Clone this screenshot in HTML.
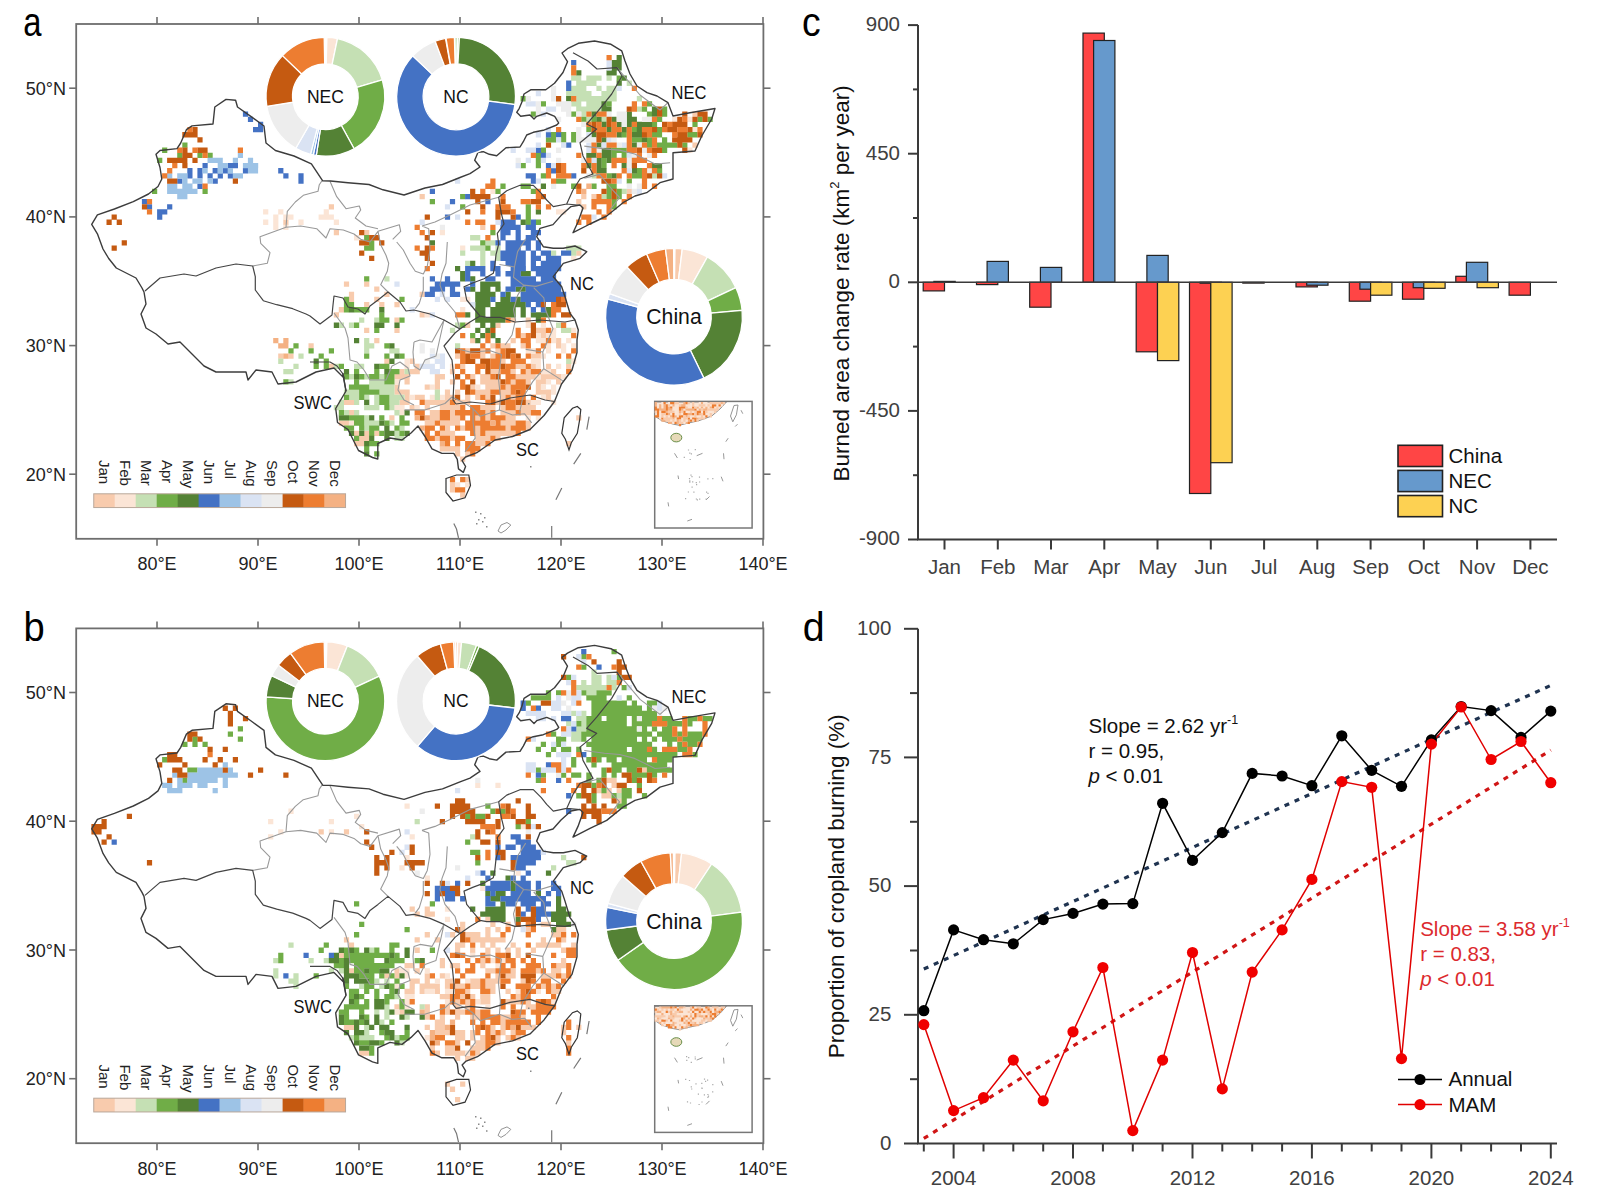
<!DOCTYPE html>
<html><head><meta charset="utf-8"><style>
html,body{margin:0;padding:0;background:#fff;width:1600px;height:1200px;overflow:hidden}
svg{display:block;font-family:"Liberation Sans",sans-serif}
</style></head><body>
<svg width="1600" height="1200" viewBox="0 0 1600 1200">
<rect width="1600" height="1200" fill="#fff"/>
<path fill="#F8CBAD" d="M692.4 111.5h5.2v5.3h-5.2zM692.4 142.4h5.2v5.3h-5.2zM626.7 188.7h5.2v5.3h-5.2zM419.6 193.9h5.2v5.3h-5.2zM581.2 193.9h5.2v5.3h-5.2zM591.4 193.9h5.2v5.3h-5.2zM576.2 199h5.2v5.3h-5.2zM328.8 204.2h5.2v5.3h-5.2zM581.2 204.2h5.2v5.3h-5.2zM283.3 219.6h5.2v5.3h-5.2zM480.2 224.8h5.2v5.3h-5.2zM333.8 229.9h5.2v5.3h-5.2zM364.1 229.9h5.2v5.3h-5.2zM576.2 250.5h5.2v5.3h-5.2zM343.9 281.4h5.2v5.3h-5.2zM364.1 281.4h5.2v5.3h-5.2zM374.2 286.5h5.2v5.3h-5.2zM348.9 291.7h5.2v5.3h-5.2zM384.3 291.7h5.2v5.3h-5.2zM419.6 291.7h5.2v5.3h-5.2zM348.9 296.8h5.2v5.3h-5.2zM374.2 296.8h5.2v5.3h-5.2zM364.1 302h5.2v5.3h-5.2zM379.2 302h5.2v5.3h-5.2zM394.4 302h5.2v5.3h-5.2zM338.8 307.1h5.2v5.3h-5.2zM333.8 312.3h5.2v5.3h-5.2zM419.6 312.3h5.2v5.3h-5.2zM394.4 317.4h5.2v5.3h-5.2zM510.6 317.4h5.2v5.3h-5.2zM525.7 317.4h5.2v5.3h-5.2zM465.1 322.6h5.2v5.3h-5.2zM495.4 322.6h5.2v5.3h-5.2zM364.1 327.7h5.2v5.3h-5.2zM394.4 327.7h5.2v5.3h-5.2zM535.8 327.7h10.2v5.3h-10.2zM520.6 332.9h5.2v5.3h-5.2zM540.8 332.9h5.2v5.3h-5.2zM374.2 338h5.2v5.3h-5.2zM470.1 338h5.2v5.3h-5.2zM510.6 338h5.2v5.3h-5.2zM556 338h5.2v5.3h-5.2zM308.5 343.2h5.2v5.3h-5.2zM490.3 343.2h5.2v5.3h-5.2zM500.4 343.2h10.2v5.3h-10.2zM520.6 343.2h5.2v5.3h-5.2zM556 343.2h5.2v5.3h-5.2zM465.1 348.3h5.2v5.3h-5.2zM480.2 348.3h5.2v5.3h-5.2zM495.4 348.3h5.2v5.3h-5.2zM278.2 353.5h5.2v5.3h-5.2zM288.4 353.5h5.2v5.3h-5.2zM455 353.5h5.2v5.3h-5.2zM480.2 353.5h5.2v5.3h-5.2zM490.3 353.5h5.2v5.3h-5.2zM530.8 353.5h10.2v5.3h-10.2zM384.3 358.6h5.2v5.3h-5.2zM409.6 358.6h5.2v5.3h-5.2zM500.4 358.6h5.2v5.3h-5.2zM328.8 363.8h5.2v5.3h-5.2zM414.6 363.8h5.2v5.3h-5.2zM460.1 363.8h5.2v5.3h-5.2zM515.6 363.8h10.2v5.3h-10.2zM530.8 363.8h5.2v5.3h-5.2zM545.9 363.8h5.2v5.3h-5.2zM566.1 363.8h5.2v5.3h-5.2zM399.4 368.9h5.2v5.3h-5.2zM409.6 368.9h10.2v5.3h-10.2zM449.9 368.9h5.2v5.3h-5.2zM490.3 368.9h10.2v5.3h-10.2zM510.6 368.9h5.2v5.3h-5.2zM525.7 368.9h5.2v5.3h-5.2zM551 368.9h5.2v5.3h-5.2zM394.4 374.1h15.3v5.3h-15.3zM434.8 374.1h10.2v5.3h-10.2zM470.1 374.1h5.2v5.3h-5.2zM480.2 374.1h10.2v5.3h-10.2zM515.6 374.1h20.3v5.3h-20.3zM540.8 374.1h20.3v5.3h-20.3zM404.5 379.2h5.2v5.3h-5.2zM434.8 379.2h5.2v5.3h-5.2zM449.9 379.2h5.2v5.3h-5.2zM480.2 379.2h20.3v5.3h-20.3zM510.6 379.2h5.2v5.3h-5.2zM525.7 379.2h5.2v5.3h-5.2zM535.8 379.2h10.2v5.3h-10.2zM556 379.2h5.2v5.3h-5.2zM394.4 384.4h5.2v5.3h-5.2zM424.7 384.4h5.2v5.3h-5.2zM434.8 384.4h5.2v5.3h-5.2zM470.1 384.4h5.2v5.3h-5.2zM485.3 384.4h15.3v5.3h-15.3zM505.5 384.4h5.2v5.3h-5.2zM535.8 384.4h5.2v5.3h-5.2zM394.4 389.5h15.3v5.3h-15.3zM444.9 389.5h5.2v5.3h-5.2zM455 389.5h5.2v5.3h-5.2zM475.2 389.5h15.3v5.3h-15.3zM500.4 389.5h10.2v5.3h-10.2zM535.8 389.5h15.3v5.3h-15.3zM404.5 394.7h5.2v5.3h-5.2zM414.6 394.7h10.2v5.3h-10.2zM444.9 394.7h10.2v5.3h-10.2zM465.1 394.7h5.2v5.3h-5.2zM475.2 394.7h5.2v5.3h-5.2zM485.3 394.7h5.2v5.3h-5.2zM500.4 394.7h5.2v5.3h-5.2zM510.6 394.7h5.2v5.3h-5.2zM545.9 394.7h5.2v5.3h-5.2zM343.9 399.8h10.2v5.3h-10.2zM399.4 399.8h10.2v5.3h-10.2zM424.7 399.8h25.4v5.3h-25.4zM455 399.8h15.3v5.3h-15.3zM495.4 399.8h5.2v5.3h-5.2zM525.7 399.8h5.2v5.3h-5.2zM409.6 405h5.2v5.3h-5.2zM424.7 405h5.2v5.3h-5.2zM439.8 405h20.3v5.3h-20.3zM480.2 405h15.3v5.3h-15.3zM500.4 405h5.2v5.3h-5.2zM515.6 405h20.3v5.3h-20.3zM348.9 410.1h5.2v5.3h-5.2zM429.8 410.1h10.2v5.3h-10.2zM449.9 410.1h5.2v5.3h-5.2zM485.3 410.1h5.2v5.3h-5.2zM500.4 410.1h15.3v5.3h-15.3zM520.6 410.1h10.2v5.3h-10.2zM389.3 415.2h5.2v5.3h-5.2zM429.8 415.2h10.2v5.3h-10.2zM449.9 415.2h10.2v5.3h-10.2zM475.2 415.2h5.2v5.3h-5.2zM485.3 415.2h5.2v5.3h-5.2zM505.5 415.2h10.2v5.3h-10.2zM576.2 415.2h5.2v5.3h-5.2zM338.8 420.4h10.2v5.3h-10.2zM424.7 420.4h10.2v5.3h-10.2zM439.8 420.4h20.3v5.3h-20.3zM500.4 420.4h15.3v5.3h-15.3zM525.7 420.4h5.2v5.3h-5.2zM444.9 425.5h5.2v5.3h-5.2zM460.1 425.5h5.2v5.3h-5.2zM475.2 425.5h5.2v5.3h-5.2zM505.5 425.5h5.2v5.3h-5.2zM525.7 425.5h5.2v5.3h-5.2zM354 430.7h5.2v5.3h-5.2zM364.1 430.7h5.2v5.3h-5.2zM374.2 430.7h5.2v5.3h-5.2zM439.8 430.7h15.3v5.3h-15.3zM475.2 430.7h5.2v5.3h-5.2zM485.3 430.7h30.4v5.3h-30.4zM359.1 435.8h10.2v5.3h-10.2zM434.8 435.8h5.2v5.3h-5.2zM449.9 435.8h5.2v5.3h-5.2zM475.2 435.8h15.3v5.3h-15.3zM495.4 435.8h5.2v5.3h-5.2zM354 441h10.2v5.3h-10.2zM475.2 441h10.2v5.3h-10.2zM566.1 441h5.2v5.3h-5.2zM439.8 446.1h20.3v5.3h-20.3zM455 451.3h5.2v5.3h-5.2zM465.1 451.3h5.2v5.3h-5.2zM460.1 456.4h5.2v5.3h-5.2zM465.1 477h5.2v5.3h-5.2zM449.9 482.2h5.2v5.3h-5.2zM449.9 487.3h5.2v5.3h-5.2zM460.1 492.5h5.2v5.3h-5.2z"/>
<path fill="#FBE5D6" d="M672.1 116.7h5.2v5.3h-5.2zM687.3 116.7h5.2v5.3h-5.2zM692.4 127h5.2v5.3h-5.2zM687.3 147.6h5.2v5.3h-5.2zM490.3 188.7h5.2v5.3h-5.2zM263.1 209.3h5.2v5.3h-5.2zM278.2 209.3h5.2v5.3h-5.2zM323.7 209.3h5.2v5.3h-5.2zM556 209.3h10.2v5.3h-10.2zM273.2 214.5h5.2v5.3h-5.2zM283.3 214.5h10.2v5.3h-10.2zM318.6 214.5h15.3v5.3h-15.3zM263.1 219.6h5.2v5.3h-5.2zM273.2 219.6h5.2v5.3h-5.2zM298.4 219.6h5.2v5.3h-5.2zM333.8 219.6h5.2v5.3h-5.2zM273.2 224.8h5.2v5.3h-5.2zM283.3 224.8h5.2v5.3h-5.2zM439.8 229.9h5.2v5.3h-5.2zM354 235.1h5.2v5.3h-5.2zM460.1 245.4h5.2v5.3h-5.2zM571.1 255.7h5.2v5.3h-5.2zM460.1 296.8h10.2v5.3h-10.2zM460.1 307.1h5.2v5.3h-5.2zM424.7 312.3h5.2v5.3h-5.2zM525.7 322.6h5.2v5.3h-5.2zM540.8 322.6h5.2v5.3h-5.2zM551 327.7h5.2v5.3h-5.2zM571.1 327.7h5.2v5.3h-5.2zM535.8 332.9h5.2v5.3h-5.2zM545.9 332.9h10.2v5.3h-10.2zM535.8 338h10.2v5.3h-10.2zM551 338h5.2v5.3h-5.2zM566.1 338h5.2v5.3h-5.2zM545.9 343.2h5.2v5.3h-5.2zM561 343.2h5.2v5.3h-5.2zM571.1 343.2h5.2v5.3h-5.2zM525.7 348.3h10.2v5.3h-10.2zM545.9 348.3h5.2v5.3h-5.2zM561 348.3h5.2v5.3h-5.2zM540.8 353.5h5.2v5.3h-5.2zM404.5 358.6h5.2v5.3h-5.2zM530.8 358.6h10.2v5.3h-10.2zM571.1 358.6h5.2v5.3h-5.2zM404.5 363.8h5.2v5.3h-5.2zM449.9 363.8h5.2v5.3h-5.2zM535.8 363.8h5.2v5.3h-5.2zM556 363.8h5.2v5.3h-5.2zM540.8 368.9h10.2v5.3h-10.2zM535.8 374.1h5.2v5.3h-5.2zM561 374.1h5.2v5.3h-5.2zM394.4 379.2h5.2v5.3h-5.2zM545.9 379.2h5.2v5.3h-5.2zM429.8 384.4h5.2v5.3h-5.2zM475.2 384.4h5.2v5.3h-5.2zM540.8 384.4h5.2v5.3h-5.2zM551 384.4h5.2v5.3h-5.2zM551 389.5h5.2v5.3h-5.2zM409.6 394.7h5.2v5.3h-5.2zM429.8 394.7h5.2v5.3h-5.2zM439.8 394.7h5.2v5.3h-5.2zM540.8 394.7h5.2v5.3h-5.2zM530.8 399.8h10.2v5.3h-10.2zM551 399.8h5.2v5.3h-5.2zM394.4 405h10.2v5.3h-10.2zM414.6 405h5.2v5.3h-5.2zM399.4 410.1h5.2v5.3h-5.2zM525.7 415.2h5.2v5.3h-5.2zM535.8 415.2h5.2v5.3h-5.2zM348.9 420.4h5.2v5.3h-5.2zM455 482.2h5.2v5.3h-5.2zM465.1 482.2h5.2v5.3h-5.2z"/>
<path fill="#C5E0B4" d="M571.1 75.5h10.2v5.3h-10.2zM586.3 75.5h15.3v5.3h-15.3zM606.5 75.5h5.2v5.3h-5.2zM576.2 80.6h20.3v5.3h-20.3zM626.7 80.6h5.2v5.3h-5.2zM571.1 85.8h15.3v5.3h-15.3zM596.4 85.8h5.2v5.3h-5.2zM606.5 85.8h10.2v5.3h-10.2zM566.1 90.9h25.4v5.3h-25.4zM601.4 90.9h15.3v5.3h-15.3zM576.2 96.1h40.5v5.3h-40.5zM636.8 96.1h5.2v5.3h-5.2zM571.1 101.2h10.2v5.3h-10.2zM586.3 101.2h15.3v5.3h-15.3zM576.2 106.4h25.4v5.3h-25.4zM636.8 106.4h5.2v5.3h-5.2zM581.2 111.5h5.2v5.3h-5.2zM586.3 116.7h5.2v5.3h-5.2zM601.4 116.7h5.2v5.3h-5.2zM591.4 173.3h5.2v5.3h-5.2zM651.9 173.3h5.2v5.3h-5.2zM621.6 188.7h5.2v5.3h-5.2zM601.4 193.9h5.2v5.3h-5.2zM470.1 235.1h10.2v5.3h-10.2zM485.3 240.2h10.2v5.3h-10.2zM470.1 245.4h15.3v5.3h-15.3zM495.4 245.4h5.2v5.3h-5.2zM566.1 245.4h15.3v5.3h-15.3zM460.1 250.5h5.2v5.3h-5.2zM480.2 250.5h5.2v5.3h-5.2zM490.3 250.5h10.2v5.3h-10.2zM551 250.5h5.2v5.3h-5.2zM571.1 250.5h5.2v5.3h-5.2zM480.2 255.7h5.2v5.3h-5.2zM495.4 255.7h5.2v5.3h-5.2zM465.1 260.8h5.2v5.3h-5.2zM480.2 260.8h5.2v5.3h-5.2zM384.3 276.3h5.2v5.3h-5.2zM359.1 317.4h5.2v5.3h-5.2zM374.2 317.4h5.2v5.3h-5.2zM338.8 322.6h5.2v5.3h-5.2zM348.9 322.6h5.2v5.3h-5.2zM455 322.6h5.2v5.3h-5.2zM556 322.6h5.2v5.3h-5.2zM449.9 327.7h5.2v5.3h-5.2zM561 327.7h10.2v5.3h-10.2zM364.1 338h5.2v5.3h-5.2zM364.1 343.2h10.2v5.3h-10.2zM455 343.2h5.2v5.3h-5.2zM364.1 348.3h5.2v5.3h-5.2zM389.3 348.3h10.2v5.3h-10.2zM298.4 353.5h5.2v5.3h-5.2zM278.2 358.6h5.2v5.3h-5.2zM566.1 358.6h5.2v5.3h-5.2zM293.4 363.8h5.2v5.3h-5.2zM333.8 363.8h5.2v5.3h-5.2zM354 363.8h10.2v5.3h-10.2zM283.3 368.9h10.2v5.3h-10.2zM404.5 368.9h5.2v5.3h-5.2zM348.9 374.1h5.2v5.3h-5.2zM364.1 374.1h5.2v5.3h-5.2zM379.2 374.1h5.2v5.3h-5.2zM288.4 379.2h5.2v5.3h-5.2zM369.1 379.2h15.3v5.3h-15.3zM369.1 384.4h25.4v5.3h-25.4zM343.9 389.5h15.3v5.3h-15.3zM379.2 389.5h15.3v5.3h-15.3zM434.8 389.5h5.2v5.3h-5.2zM348.9 394.7h10.2v5.3h-10.2zM364.1 394.7h5.2v5.3h-5.2zM374.2 394.7h5.2v5.3h-5.2zM389.3 394.7h15.3v5.3h-15.3zM434.8 394.7h5.2v5.3h-5.2zM338.8 399.8h5.2v5.3h-5.2zM354 399.8h5.2v5.3h-5.2zM374.2 399.8h5.2v5.3h-5.2zM389.3 399.8h10.2v5.3h-10.2zM333.8 405h10.2v5.3h-10.2zM364.1 405h15.3v5.3h-15.3zM389.3 405h5.2v5.3h-5.2zM343.9 410.1h5.2v5.3h-5.2zM354 410.1h5.2v5.3h-5.2zM394.4 410.1h5.2v5.3h-5.2zM364.1 415.2h5.2v5.3h-5.2zM364.1 420.4h15.3v5.3h-15.3zM389.3 420.4h5.2v5.3h-5.2zM364.1 425.5h5.2v5.3h-5.2zM399.4 425.5h5.2v5.3h-5.2zM394.4 430.7h5.2v5.3h-5.2zM394.4 435.8h10.2v5.3h-10.2z"/>
<path fill="#70AD47" d="M616.6 75.5h5.2v5.3h-5.2zM520.6 96.1h5.2v5.3h-5.2zM540.8 101.2h5.2v5.3h-5.2zM606.5 101.2h5.2v5.3h-5.2zM646.9 101.2h5.2v5.3h-5.2zM641.9 106.4h5.2v5.3h-5.2zM662 106.4h5.2v5.3h-5.2zM530.8 111.5h5.2v5.3h-5.2zM571.1 111.5h5.2v5.3h-5.2zM646.9 111.5h5.2v5.3h-5.2zM662 111.5h5.2v5.3h-5.2zM581.2 116.7h5.2v5.3h-5.2zM591.4 116.7h5.2v5.3h-5.2zM657 116.7h5.2v5.3h-5.2zM697.4 116.7h5.2v5.3h-5.2zM707.5 116.7h5.2v5.3h-5.2zM651.9 121.8h5.2v5.3h-5.2zM692.4 121.8h5.2v5.3h-5.2zM586.3 127h5.2v5.3h-5.2zM631.8 127h5.2v5.3h-5.2zM657 127h5.2v5.3h-5.2zM551 132.1h5.2v5.3h-5.2zM561 132.1h5.2v5.3h-5.2zM571.1 132.1h5.2v5.3h-5.2zM621.6 132.1h5.2v5.3h-5.2zM651.9 132.1h10.2v5.3h-10.2zM687.3 132.1h10.2v5.3h-10.2zM545.9 137.3h10.2v5.3h-10.2zM561 137.3h5.2v5.3h-5.2zM571.1 137.3h5.2v5.3h-5.2zM631.8 137.3h10.2v5.3h-10.2zM646.9 137.3h5.2v5.3h-5.2zM662 137.3h5.2v5.3h-5.2zM182.3 142.4h5.2v5.3h-5.2zM646.9 142.4h5.2v5.3h-5.2zM657 142.4h20.3v5.3h-20.3zM682.2 142.4h5.2v5.3h-5.2zM162.1 147.6h5.2v5.3h-5.2zM540.8 147.6h5.2v5.3h-5.2zM611.5 147.6h15.3v5.3h-15.3zM662 147.6h5.2v5.3h-5.2zM177.2 152.7h5.2v5.3h-5.2zM197.4 152.7h5.2v5.3h-5.2zM207.5 152.7h5.2v5.3h-5.2zM535.8 152.7h5.2v5.3h-5.2zM611.5 152.7h5.2v5.3h-5.2zM621.6 152.7h5.2v5.3h-5.2zM157.1 157.8h5.2v5.3h-5.2zM535.8 157.8h5.2v5.3h-5.2zM601.4 157.8h5.2v5.3h-5.2zM520.6 163h5.2v5.3h-5.2zM535.8 163h5.2v5.3h-5.2zM601.4 163h5.2v5.3h-5.2zM636.8 168.1h5.2v5.3h-5.2zM657 168.1h5.2v5.3h-5.2zM540.8 173.3h5.2v5.3h-5.2zM606.5 173.3h5.2v5.3h-5.2zM631.8 173.3h10.2v5.3h-10.2zM556 178.4h10.2v5.3h-10.2zM626.7 178.4h5.2v5.3h-5.2zM500.4 183.6h5.2v5.3h-5.2zM520.6 183.6h10.2v5.3h-10.2zM571.1 183.6h5.2v5.3h-5.2zM591.4 183.6h5.2v5.3h-5.2zM606.5 183.6h10.2v5.3h-10.2zM152 188.7h5.2v5.3h-5.2zM202.5 188.7h5.2v5.3h-5.2zM495.4 188.7h5.2v5.3h-5.2zM530.8 188.7h5.2v5.3h-5.2zM606.5 188.7h5.2v5.3h-5.2zM616.6 188.7h5.2v5.3h-5.2zM460.1 193.9h5.2v5.3h-5.2zM606.5 193.9h5.2v5.3h-5.2zM616.6 193.9h5.2v5.3h-5.2zM429.8 199h5.2v5.3h-5.2zM611.5 199h5.2v5.3h-5.2zM460.1 204.2h5.2v5.3h-5.2zM525.7 204.2h5.2v5.3h-5.2zM611.5 204.2h5.2v5.3h-5.2zM525.7 209.3h5.2v5.3h-5.2zM525.7 214.5h5.2v5.3h-5.2zM525.7 219.6h5.2v5.3h-5.2zM535.8 219.6h5.2v5.3h-5.2zM490.3 229.9h5.2v5.3h-5.2zM364.1 235.1h5.2v5.3h-5.2zM369.1 240.2h5.2v5.3h-5.2zM480.2 240.2h5.2v5.3h-5.2zM364.1 245.4h10.2v5.3h-10.2zM485.3 245.4h5.2v5.3h-5.2zM364.1 276.3h5.2v5.3h-5.2zM343.9 296.8h5.2v5.3h-5.2zM399.4 296.8h5.2v5.3h-5.2zM343.9 302h10.2v5.3h-10.2zM343.9 307.1h5.2v5.3h-5.2zM354 307.1h15.3v5.3h-15.3zM379.2 312.3h5.2v5.3h-5.2zM379.2 317.4h10.2v5.3h-10.2zM399.4 317.4h5.2v5.3h-5.2zM354 322.6h5.2v5.3h-5.2zM460.1 322.6h5.2v5.3h-5.2zM374.2 327.7h5.2v5.3h-5.2zM470.1 332.9h5.2v5.3h-5.2zM293.4 343.2h5.2v5.3h-5.2zM384.3 343.2h5.2v5.3h-5.2zM288.4 348.3h5.2v5.3h-5.2zM308.5 348.3h5.2v5.3h-5.2zM328.8 348.3h5.2v5.3h-5.2zM318.6 353.5h5.2v5.3h-5.2zM364.1 353.5h5.2v5.3h-5.2zM384.3 353.5h5.2v5.3h-5.2zM399.4 353.5h5.2v5.3h-5.2zM323.7 358.6h5.2v5.3h-5.2zM313.6 363.8h5.2v5.3h-5.2zM323.7 363.8h5.2v5.3h-5.2zM338.8 363.8h5.2v5.3h-5.2zM379.2 363.8h10.2v5.3h-10.2zM354 368.9h5.2v5.3h-5.2zM374.2 368.9h5.2v5.3h-5.2zM389.3 368.9h10.2v5.3h-10.2zM343.9 374.1h5.2v5.3h-5.2zM359.1 374.1h5.2v5.3h-5.2zM369.1 374.1h10.2v5.3h-10.2zM384.3 374.1h10.2v5.3h-10.2zM283.3 379.2h5.2v5.3h-5.2zM354 379.2h5.2v5.3h-5.2zM384.3 379.2h10.2v5.3h-10.2zM348.9 384.4h20.3v5.3h-20.3zM359.1 389.5h20.3v5.3h-20.3zM343.9 394.7h5.2v5.3h-5.2zM359.1 394.7h5.2v5.3h-5.2zM379.2 394.7h10.2v5.3h-10.2zM379.2 399.8h10.2v5.3h-10.2zM384.3 405h5.2v5.3h-5.2zM338.8 410.1h5.2v5.3h-5.2zM348.9 415.2h15.3v5.3h-15.3zM379.2 415.2h5.2v5.3h-5.2zM399.4 415.2h5.2v5.3h-5.2zM354 420.4h10.2v5.3h-10.2zM384.3 420.4h5.2v5.3h-5.2zM399.4 420.4h10.2v5.3h-10.2zM343.9 425.5h10.2v5.3h-10.2zM359.1 425.5h5.2v5.3h-5.2zM369.1 425.5h10.2v5.3h-10.2zM394.4 425.5h5.2v5.3h-5.2zM369.1 430.7h5.2v5.3h-5.2zM379.2 430.7h5.2v5.3h-5.2zM399.4 430.7h5.2v5.3h-5.2zM354 435.8h5.2v5.3h-5.2zM369.1 441h10.2v5.3h-10.2zM364.1 446.1h5.2v5.3h-5.2zM374.2 451.3h5.2v5.3h-5.2z"/>
<path fill="#548235" d="M616.6 54.9h5.2v5.3h-5.2zM611.5 60h10.2v5.3h-10.2zM611.5 65.2h10.2v5.3h-10.2zM576.2 70.3h5.2v5.3h-5.2zM606.5 70.3h10.2v5.3h-10.2zM621.6 75.5h5.2v5.3h-5.2zM616.6 80.6h5.2v5.3h-5.2zM566.1 96.1h5.2v5.3h-5.2zM601.4 101.2h5.2v5.3h-5.2zM601.4 106.4h10.2v5.3h-10.2zM651.9 106.4h5.2v5.3h-5.2zM591.4 111.5h5.2v5.3h-5.2zM626.7 111.5h5.2v5.3h-5.2zM651.9 111.5h5.2v5.3h-5.2zM596.4 116.7h5.2v5.3h-5.2zM611.5 116.7h5.2v5.3h-5.2zM626.7 116.7h10.2v5.3h-10.2zM601.4 121.8h5.2v5.3h-5.2zM616.6 121.8h5.2v5.3h-5.2zM626.7 121.8h5.2v5.3h-5.2zM636.8 121.8h15.3v5.3h-15.3zM606.5 127h5.2v5.3h-5.2zM621.6 127h5.2v5.3h-5.2zM636.8 127h5.2v5.3h-5.2zM591.4 132.1h5.2v5.3h-5.2zM616.6 132.1h5.2v5.3h-5.2zM631.8 132.1h10.2v5.3h-10.2zM601.4 137.3h5.2v5.3h-5.2zM641.9 137.3h5.2v5.3h-5.2zM596.4 142.4h5.2v5.3h-5.2zM631.8 142.4h5.2v5.3h-5.2zM601.4 147.6h10.2v5.3h-10.2zM586.3 152.7h10.2v5.3h-10.2zM601.4 152.7h10.2v5.3h-10.2zM596.4 157.8h5.2v5.3h-5.2zM606.5 157.8h5.2v5.3h-5.2zM586.3 163h5.2v5.3h-5.2zM596.4 163h5.2v5.3h-5.2zM621.6 163h5.2v5.3h-5.2zM651.9 163h10.2v5.3h-10.2zM596.4 168.1h10.2v5.3h-10.2zM631.8 168.1h5.2v5.3h-5.2zM611.5 173.3h5.2v5.3h-5.2zM540.8 183.6h5.2v5.3h-5.2zM535.8 209.3h5.2v5.3h-5.2zM520.6 219.6h5.2v5.3h-5.2zM429.8 240.2h5.2v5.3h-5.2zM470.1 260.8h5.2v5.3h-5.2zM455 266h5.2v5.3h-5.2zM460.1 271.1h5.2v5.3h-5.2zM520.6 271.1h10.2v5.3h-10.2zM460.1 276.3h5.2v5.3h-5.2zM470.1 276.3h5.2v5.3h-5.2zM480.2 281.4h20.3v5.3h-20.3zM470.1 286.5h5.2v5.3h-5.2zM480.2 286.5h10.2v5.3h-10.2zM495.4 286.5h5.2v5.3h-5.2zM515.6 286.5h10.2v5.3h-10.2zM475.2 291.7h20.3v5.3h-20.3zM505.5 291.7h5.2v5.3h-5.2zM475.2 296.8h15.3v5.3h-15.3zM500.4 296.8h10.2v5.3h-10.2zM515.6 296.8h5.2v5.3h-5.2zM475.2 302h15.3v5.3h-15.3zM495.4 302h30.4v5.3h-30.4zM348.9 307.1h5.2v5.3h-5.2zM379.2 307.1h5.2v5.3h-5.2zM475.2 307.1h10.2v5.3h-10.2zM490.3 307.1h25.4v5.3h-25.4zM520.6 307.1h5.2v5.3h-5.2zM545.9 307.1h5.2v5.3h-5.2zM465.1 312.3h5.2v5.3h-5.2zM475.2 312.3h10.2v5.3h-10.2zM490.3 312.3h25.4v5.3h-25.4zM520.6 312.3h5.2v5.3h-5.2zM530.8 312.3h20.3v5.3h-20.3zM475.2 317.4h30.4v5.3h-30.4zM535.8 317.4h5.2v5.3h-5.2zM333.8 322.6h5.2v5.3h-5.2zM374.2 322.6h10.2v5.3h-10.2zM394.4 322.6h5.2v5.3h-5.2zM480.2 322.6h5.2v5.3h-5.2zM490.3 322.6h5.2v5.3h-5.2zM475.2 327.7h5.2v5.3h-5.2zM485.3 327.7h5.2v5.3h-5.2zM480.2 332.9h5.2v5.3h-5.2zM490.3 332.9h5.2v5.3h-5.2zM354 338h5.2v5.3h-5.2zM475.2 338h5.2v5.3h-5.2zM495.4 338h5.2v5.3h-5.2zM389.3 343.2h5.2v5.3h-5.2zM394.4 353.5h5.2v5.3h-5.2zM313.6 358.6h5.2v5.3h-5.2zM389.3 358.6h5.2v5.3h-5.2zM374.2 363.8h5.2v5.3h-5.2zM343.9 368.9h5.2v5.3h-5.2zM384.3 368.9h5.2v5.3h-5.2zM354 374.1h5.2v5.3h-5.2zM364.1 399.8h5.2v5.3h-5.2zM404.5 410.1h5.2v5.3h-5.2zM338.8 415.2h10.2v5.3h-10.2zM369.1 415.2h5.2v5.3h-5.2zM379.2 420.4h5.2v5.3h-5.2zM384.3 425.5h5.2v5.3h-5.2zM348.9 430.7h5.2v5.3h-5.2zM359.1 430.7h5.2v5.3h-5.2zM384.3 430.7h10.2v5.3h-10.2zM404.5 430.7h5.2v5.3h-5.2zM369.1 435.8h5.2v5.3h-5.2zM384.3 435.8h5.2v5.3h-5.2zM364.1 441h5.2v5.3h-5.2zM364.1 451.3h5.2v5.3h-5.2z"/>
<path fill="#4472C4" d="M571.1 60h5.2v5.3h-5.2zM566.1 80.6h5.2v5.3h-5.2zM566.1 85.8h5.2v5.3h-5.2zM242.9 111.5h5.2v5.3h-5.2zM247.9 116.7h5.2v5.3h-5.2zM258 121.8h5.2v5.3h-5.2zM253 127h10.2v5.3h-10.2zM545.9 132.1h5.2v5.3h-5.2zM556 132.1h5.2v5.3h-5.2zM566.1 142.4h5.2v5.3h-5.2zM535.8 147.6h5.2v5.3h-5.2zM540.8 152.7h5.2v5.3h-5.2zM202.5 163h5.2v5.3h-5.2zM227.8 163h10.2v5.3h-10.2zM545.9 163h5.2v5.3h-5.2zM187.3 168.1h5.2v5.3h-5.2zM197.4 168.1h5.2v5.3h-5.2zM212.6 168.1h5.2v5.3h-5.2zM222.7 168.1h5.2v5.3h-5.2zM242.9 168.1h5.2v5.3h-5.2zM278.2 168.1h5.2v5.3h-5.2zM551 168.1h5.2v5.3h-5.2zM187.3 173.3h5.2v5.3h-5.2zM197.4 173.3h5.2v5.3h-5.2zM207.5 173.3h5.2v5.3h-5.2zM217.7 173.3h5.2v5.3h-5.2zM227.8 173.3h5.2v5.3h-5.2zM283.3 173.3h5.2v5.3h-5.2zM298.4 173.3h5.2v5.3h-5.2zM525.7 173.3h10.2v5.3h-10.2zM571.1 173.3h5.2v5.3h-5.2zM177.2 178.4h5.2v5.3h-5.2zM212.6 178.4h5.2v5.3h-5.2zM298.4 178.4h5.2v5.3h-5.2zM530.8 178.4h5.2v5.3h-5.2zM197.4 183.6h5.2v5.3h-5.2zM429.8 188.7h5.2v5.3h-5.2zM465.1 193.9h5.2v5.3h-5.2zM141.9 199h5.2v5.3h-5.2zM449.9 199h5.2v5.3h-5.2zM485.3 199h5.2v5.3h-5.2zM146.9 204.2h5.2v5.3h-5.2zM167.1 204.2h5.2v5.3h-5.2zM157.1 209.3h10.2v5.3h-10.2zM157.1 214.5h5.2v5.3h-5.2zM444.9 214.5h5.2v5.3h-5.2zM515.6 214.5h5.2v5.3h-5.2zM500.4 219.6h15.3v5.3h-15.3zM530.8 219.6h5.2v5.3h-5.2zM500.4 224.8h20.3v5.3h-20.3zM525.7 224.8h10.2v5.3h-10.2zM500.4 229.9h10.2v5.3h-10.2zM515.6 229.9h5.2v5.3h-5.2zM530.8 229.9h10.2v5.3h-10.2zM500.4 235.1h5.2v5.3h-5.2zM515.6 235.1h5.2v5.3h-5.2zM525.7 235.1h10.2v5.3h-10.2zM495.4 240.2h5.2v5.3h-5.2zM505.5 240.2h25.4v5.3h-25.4zM535.8 240.2h5.2v5.3h-5.2zM505.5 245.4h15.3v5.3h-15.3zM525.7 245.4h5.2v5.3h-5.2zM535.8 245.4h5.2v5.3h-5.2zM500.4 250.5h25.4v5.3h-25.4zM530.8 250.5h5.2v5.3h-5.2zM540.8 250.5h10.2v5.3h-10.2zM561 250.5h10.2v5.3h-10.2zM500.4 255.7h25.4v5.3h-25.4zM530.8 255.7h10.2v5.3h-10.2zM545.9 255.7h15.3v5.3h-15.3zM490.3 260.8h5.2v5.3h-5.2zM505.5 260.8h20.3v5.3h-20.3zM530.8 260.8h5.2v5.3h-5.2zM540.8 260.8h20.3v5.3h-20.3zM465.1 266h20.3v5.3h-20.3zM490.3 266h10.2v5.3h-10.2zM510.6 266h15.3v5.3h-15.3zM530.8 266h30.4v5.3h-30.4zM465.1 271.1h5.2v5.3h-5.2zM480.2 271.1h5.2v5.3h-5.2zM495.4 271.1h5.2v5.3h-5.2zM505.5 271.1h15.3v5.3h-15.3zM535.8 271.1h20.3v5.3h-20.3zM429.8 276.3h5.2v5.3h-5.2zM444.9 276.3h5.2v5.3h-5.2zM465.1 276.3h5.2v5.3h-5.2zM485.3 276.3h10.2v5.3h-10.2zM510.6 276.3h25.4v5.3h-25.4zM540.8 276.3h15.3v5.3h-15.3zM434.8 281.4h25.4v5.3h-25.4zM470.1 281.4h5.2v5.3h-5.2zM510.6 281.4h50.6v5.3h-50.6zM429.8 286.5h15.3v5.3h-15.3zM449.9 286.5h5.2v5.3h-5.2zM465.1 286.5h5.2v5.3h-5.2zM505.5 286.5h10.2v5.3h-10.2zM525.7 286.5h35.5v5.3h-35.5zM424.7 291.7h10.2v5.3h-10.2zM449.9 291.7h10.2v5.3h-10.2zM500.4 291.7h5.2v5.3h-5.2zM520.6 291.7h45.6v5.3h-45.6zM490.3 296.8h5.2v5.3h-5.2zM510.6 296.8h5.2v5.3h-5.2zM520.6 296.8h35.5v5.3h-35.5zM525.7 302h5.2v5.3h-5.2zM535.8 302h5.2v5.3h-5.2zM530.8 307.1h5.2v5.3h-5.2zM540.8 307.1h5.2v5.3h-5.2z"/>
<path fill="#9DC3E6" d="M237.8 152.7h5.2v5.3h-5.2zM207.5 157.8h15.3v5.3h-15.3zM232.8 157.8h5.2v5.3h-5.2zM247.9 157.8h5.2v5.3h-5.2zM217.7 163h10.2v5.3h-10.2zM242.9 163h15.3v5.3h-15.3zM202.5 168.1h5.2v5.3h-5.2zM217.7 168.1h5.2v5.3h-5.2zM227.8 168.1h5.2v5.3h-5.2zM247.9 168.1h10.2v5.3h-10.2zM167.1 173.3h5.2v5.3h-5.2zM177.2 173.3h10.2v5.3h-10.2zM232.8 173.3h10.2v5.3h-10.2zM182.3 178.4h5.2v5.3h-5.2zM192.4 178.4h10.2v5.3h-10.2zM207.5 178.4h5.2v5.3h-5.2zM167.1 183.6h10.2v5.3h-10.2zM182.3 183.6h10.2v5.3h-10.2zM167.1 188.7h30.4v5.3h-30.4zM177.2 193.9h10.2v5.3h-10.2z"/>
<path fill="#DAE3F3" d="M606.5 60h5.2v5.3h-5.2zM606.5 65.2h5.2v5.3h-5.2zM616.6 85.8h5.2v5.3h-5.2zM535.8 90.9h5.2v5.3h-5.2zM525.7 101.2h10.2v5.3h-10.2zM545.9 106.4h10.2v5.3h-10.2zM540.8 111.5h5.2v5.3h-5.2zM545.9 127h5.2v5.3h-5.2zM535.8 132.1h5.2v5.3h-5.2zM586.3 132.1h5.2v5.3h-5.2zM556 137.3h5.2v5.3h-5.2zM606.5 137.3h5.2v5.3h-5.2zM535.8 142.4h5.2v5.3h-5.2zM561 142.4h5.2v5.3h-5.2zM586.3 142.4h5.2v5.3h-5.2zM601.4 142.4h5.2v5.3h-5.2zM621.6 142.4h5.2v5.3h-5.2zM510.6 147.6h5.2v5.3h-5.2zM525.7 147.6h10.2v5.3h-10.2zM586.3 147.6h5.2v5.3h-5.2zM545.9 152.7h5.2v5.3h-5.2zM626.7 152.7h5.2v5.3h-5.2zM525.7 157.8h5.2v5.3h-5.2zM540.8 157.8h5.2v5.3h-5.2zM591.4 157.8h5.2v5.3h-5.2zM515.6 163h5.2v5.3h-5.2zM551 163h5.2v5.3h-5.2zM626.7 168.1h5.2v5.3h-5.2zM662 173.3h5.2v5.3h-5.2zM455 178.4h5.2v5.3h-5.2zM535.8 178.4h5.2v5.3h-5.2zM616.6 178.4h5.2v5.3h-5.2zM636.8 188.7h5.2v5.3h-5.2zM444.9 204.2h5.2v5.3h-5.2zM455 214.5h5.2v5.3h-5.2zM591.4 214.5h5.2v5.3h-5.2zM419.6 219.6h5.2v5.3h-5.2zM495.4 219.6h5.2v5.3h-5.2zM394.4 281.4h5.2v5.3h-5.2zM439.8 291.7h5.2v5.3h-5.2zM434.8 296.8h5.2v5.3h-5.2zM444.9 296.8h5.2v5.3h-5.2zM470.1 302h5.2v5.3h-5.2zM409.6 307.1h5.2v5.3h-5.2zM429.8 312.3h5.2v5.3h-5.2zM429.8 353.5h5.2v5.3h-5.2zM439.8 353.5h5.2v5.3h-5.2zM434.8 358.6h10.2v5.3h-10.2zM419.6 363.8h15.3v5.3h-15.3zM439.8 363.8h5.2v5.3h-5.2zM429.8 368.9h10.2v5.3h-10.2z"/>
<path fill="#EDEDED" d="M551 85.8h5.2v5.3h-5.2zM551 90.9h5.2v5.3h-5.2zM525.7 96.1h5.2v5.3h-5.2zM551 96.1h5.2v5.3h-5.2zM535.8 101.2h5.2v5.3h-5.2zM556 101.2h15.3v5.3h-15.3zM535.8 106.4h5.2v5.3h-5.2zM561 106.4h10.2v5.3h-10.2zM535.8 111.5h5.2v5.3h-5.2zM566.1 111.5h5.2v5.3h-5.2zM576.2 111.5h5.2v5.3h-5.2zM606.5 111.5h5.2v5.3h-5.2zM616.6 111.5h10.2v5.3h-10.2zM556 116.7h5.2v5.3h-5.2zM616.6 116.7h10.2v5.3h-10.2zM641.9 116.7h10.2v5.3h-10.2zM581.2 121.8h5.2v5.3h-5.2zM621.6 121.8h5.2v5.3h-5.2zM576.2 127h5.2v5.3h-5.2zM576.2 132.1h5.2v5.3h-5.2zM576.2 137.3h20.3v5.3h-20.3zM611.5 137.3h5.2v5.3h-5.2zM616.6 142.4h5.2v5.3h-5.2zM636.8 142.4h5.2v5.3h-5.2zM556 147.6h5.2v5.3h-5.2zM596.4 147.6h5.2v5.3h-5.2zM641.9 147.6h5.2v5.3h-5.2zM631.8 152.7h5.2v5.3h-5.2zM646.9 152.7h5.2v5.3h-5.2zM515.6 157.8h5.2v5.3h-5.2zM556 157.8h5.2v5.3h-5.2zM581.2 157.8h5.2v5.3h-5.2zM626.7 157.8h5.2v5.3h-5.2zM626.7 163h5.2v5.3h-5.2zM646.9 168.1h5.2v5.3h-5.2zM586.3 173.3h5.2v5.3h-5.2zM551 183.6h5.2v5.3h-5.2zM626.7 183.6h5.2v5.3h-5.2zM636.8 183.6h5.2v5.3h-5.2zM631.8 188.7h5.2v5.3h-5.2zM439.8 224.8h5.2v5.3h-5.2zM419.6 343.2h5.2v5.3h-5.2zM419.6 348.3h5.2v5.3h-5.2zM429.8 348.3h5.2v5.3h-5.2zM434.8 353.5h5.2v5.3h-5.2zM424.7 358.6h5.2v5.3h-5.2z"/>
<path fill="#C55A11" d="M556 96.1h5.2v5.3h-5.2zM626.7 106.4h5.2v5.3h-5.2zM657 106.4h5.2v5.3h-5.2zM657 111.5h5.2v5.3h-5.2zM682.2 111.5h5.2v5.3h-5.2zM697.4 111.5h10.2v5.3h-10.2zM606.5 116.7h5.2v5.3h-5.2zM677.2 116.7h5.2v5.3h-5.2zM692.4 116.7h5.2v5.3h-5.2zM702.4 116.7h5.2v5.3h-5.2zM591.4 121.8h5.2v5.3h-5.2zM606.5 121.8h5.2v5.3h-5.2zM662 121.8h5.2v5.3h-5.2zM672.1 121.8h15.3v5.3h-15.3zM192.4 127h5.2v5.3h-5.2zM591.4 127h5.2v5.3h-5.2zM651.9 127h5.2v5.3h-5.2zM667.1 127h10.2v5.3h-10.2zM687.3 127h5.2v5.3h-5.2zM182.3 132.1h15.3v5.3h-15.3zM596.4 132.1h10.2v5.3h-10.2zM641.9 132.1h5.2v5.3h-5.2zM677.2 132.1h10.2v5.3h-10.2zM697.4 132.1h5.2v5.3h-5.2zM197.4 137.3h5.2v5.3h-5.2zM596.4 137.3h5.2v5.3h-5.2zM672.1 137.3h20.3v5.3h-20.3zM545.9 142.4h5.2v5.3h-5.2zM677.2 142.4h5.2v5.3h-5.2zM182.3 147.6h5.2v5.3h-5.2zM197.4 147.6h10.2v5.3h-10.2zM636.8 147.6h5.2v5.3h-5.2zM651.9 147.6h10.2v5.3h-10.2zM682.2 147.6h5.2v5.3h-5.2zM182.3 152.7h10.2v5.3h-10.2zM167.1 157.8h20.3v5.3h-20.3zM192.4 157.8h5.2v5.3h-5.2zM182.3 163h5.2v5.3h-5.2zM556 163h5.2v5.3h-5.2zM631.8 163h5.2v5.3h-5.2zM556 168.1h5.2v5.3h-5.2zM581.2 168.1h5.2v5.3h-5.2zM646.9 173.3h5.2v5.3h-5.2zM657 173.3h5.2v5.3h-5.2zM167.1 178.4h10.2v5.3h-10.2zM232.8 178.4h5.2v5.3h-5.2zM601.4 178.4h10.2v5.3h-10.2zM576.2 183.6h5.2v5.3h-5.2zM470.1 188.7h5.2v5.3h-5.2zM601.4 188.7h5.2v5.3h-5.2zM611.5 188.7h5.2v5.3h-5.2zM470.1 193.9h20.3v5.3h-20.3zM540.8 193.9h5.2v5.3h-5.2zM611.5 193.9h5.2v5.3h-5.2zM475.2 199h5.2v5.3h-5.2zM500.4 199h5.2v5.3h-5.2zM530.8 199h10.2v5.3h-10.2zM141.9 204.2h5.2v5.3h-5.2zM480.2 204.2h5.2v5.3h-5.2zM465.1 209.3h5.2v5.3h-5.2zM495.4 209.3h15.3v5.3h-15.3zM111.6 214.5h5.2v5.3h-5.2zM424.7 214.5h5.2v5.3h-5.2zM495.4 214.5h5.2v5.3h-5.2zM510.6 214.5h5.2v5.3h-5.2zM106.5 219.6h5.2v5.3h-5.2zM116.7 219.6h5.2v5.3h-5.2zM359.1 229.9h5.2v5.3h-5.2zM429.8 229.9h5.2v5.3h-5.2zM369.1 235.1h10.2v5.3h-10.2zM424.7 235.1h5.2v5.3h-5.2zM121.7 240.2h5.2v5.3h-5.2zM359.1 240.2h10.2v5.3h-10.2zM379.2 240.2h5.2v5.3h-5.2zM111.6 245.4h5.2v5.3h-5.2zM424.7 245.4h5.2v5.3h-5.2zM359.1 250.5h5.2v5.3h-5.2zM419.6 250.5h10.2v5.3h-10.2zM369.1 255.7h5.2v5.3h-5.2zM424.7 255.7h5.2v5.3h-5.2zM429.8 260.8h5.2v5.3h-5.2zM556 296.8h5.2v5.3h-5.2zM540.8 302h5.2v5.3h-5.2zM556 302h10.2v5.3h-10.2zM561 312.3h10.2v5.3h-10.2zM530.8 322.6h5.2v5.3h-5.2zM490.3 327.7h5.2v5.3h-5.2zM530.8 327.7h5.2v5.3h-5.2zM530.8 332.9h5.2v5.3h-5.2zM455 348.3h5.2v5.3h-5.2zM470.1 348.3h10.2v5.3h-10.2zM505.5 348.3h10.2v5.3h-10.2zM465.1 353.5h5.2v5.3h-5.2zM505.5 353.5h5.2v5.3h-5.2zM515.6 353.5h5.2v5.3h-5.2zM465.1 358.6h10.2v5.3h-10.2zM480.2 358.6h10.2v5.3h-10.2zM485.3 363.8h5.2v5.3h-5.2zM500.4 363.8h5.2v5.3h-5.2zM485.3 368.9h5.2v5.3h-5.2zM455 374.1h5.2v5.3h-5.2zM495.4 374.1h5.2v5.3h-5.2zM470.1 379.2h5.2v5.3h-5.2zM500.4 379.2h5.2v5.3h-5.2zM465.1 384.4h5.2v5.3h-5.2zM525.7 384.4h5.2v5.3h-5.2zM465.1 389.5h5.2v5.3h-5.2zM515.6 389.5h5.2v5.3h-5.2zM455 394.7h5.2v5.3h-5.2zM490.3 394.7h5.2v5.3h-5.2zM490.3 399.8h5.2v5.3h-5.2zM500.4 399.8h5.2v5.3h-5.2zM515.6 399.8h10.2v5.3h-10.2zM419.6 415.2h5.2v5.3h-5.2z"/>
<path fill="#ED7D31" d="M606.5 54.9h5.2v5.3h-5.2zM571.1 65.2h5.2v5.3h-5.2zM571.1 70.3h5.2v5.3h-5.2zM631.8 85.8h5.2v5.3h-5.2zM571.1 96.1h5.2v5.3h-5.2zM631.8 101.2h5.2v5.3h-5.2zM641.9 101.2h5.2v5.3h-5.2zM631.8 106.4h5.2v5.3h-5.2zM586.3 111.5h5.2v5.3h-5.2zM596.4 111.5h10.2v5.3h-10.2zM576.2 116.7h5.2v5.3h-5.2zM651.9 116.7h5.2v5.3h-5.2zM682.2 116.7h5.2v5.3h-5.2zM586.3 121.8h5.2v5.3h-5.2zM596.4 121.8h5.2v5.3h-5.2zM611.5 121.8h5.2v5.3h-5.2zM631.8 121.8h5.2v5.3h-5.2zM667.1 121.8h5.2v5.3h-5.2zM187.3 127h5.2v5.3h-5.2zM556 127h5.2v5.3h-5.2zM596.4 127h10.2v5.3h-10.2zM611.5 127h10.2v5.3h-10.2zM626.7 127h5.2v5.3h-5.2zM641.9 127h10.2v5.3h-10.2zM662 127h5.2v5.3h-5.2zM677.2 127h10.2v5.3h-10.2zM697.4 127h5.2v5.3h-5.2zM606.5 132.1h10.2v5.3h-10.2zM626.7 132.1h5.2v5.3h-5.2zM646.9 132.1h5.2v5.3h-5.2zM672.1 132.1h5.2v5.3h-5.2zM626.7 137.3h5.2v5.3h-5.2zM651.9 137.3h5.2v5.3h-5.2zM591.4 142.4h5.2v5.3h-5.2zM606.5 142.4h10.2v5.3h-10.2zM626.7 142.4h5.2v5.3h-5.2zM641.9 142.4h5.2v5.3h-5.2zM651.9 142.4h5.2v5.3h-5.2zM177.2 147.6h5.2v5.3h-5.2zM192.4 147.6h5.2v5.3h-5.2zM237.8 147.6h5.2v5.3h-5.2zM591.4 147.6h5.2v5.3h-5.2zM626.7 147.6h10.2v5.3h-10.2zM646.9 147.6h5.2v5.3h-5.2zM202.5 152.7h5.2v5.3h-5.2zM530.8 152.7h5.2v5.3h-5.2zM576.2 152.7h5.2v5.3h-5.2zM596.4 152.7h5.2v5.3h-5.2zM636.8 152.7h5.2v5.3h-5.2zM651.9 152.7h5.2v5.3h-5.2zM586.3 157.8h5.2v5.3h-5.2zM611.5 157.8h15.3v5.3h-15.3zM631.8 157.8h15.3v5.3h-15.3zM172.2 163h5.2v5.3h-5.2zM561 163h5.2v5.3h-5.2zM581.2 163h5.2v5.3h-5.2zM591.4 163h5.2v5.3h-5.2zM611.5 163h5.2v5.3h-5.2zM646.9 163h5.2v5.3h-5.2zM167.1 168.1h5.2v5.3h-5.2zM545.9 168.1h5.2v5.3h-5.2zM561 168.1h5.2v5.3h-5.2zM591.4 168.1h5.2v5.3h-5.2zM621.6 168.1h5.2v5.3h-5.2zM641.9 168.1h5.2v5.3h-5.2zM651.9 168.1h5.2v5.3h-5.2zM162.1 173.3h5.2v5.3h-5.2zM545.9 173.3h5.2v5.3h-5.2zM556 173.3h15.3v5.3h-15.3zM596.4 173.3h10.2v5.3h-10.2zM616.6 173.3h5.2v5.3h-5.2zM626.7 173.3h5.2v5.3h-5.2zM641.9 173.3h5.2v5.3h-5.2zM490.3 178.4h5.2v5.3h-5.2zM551 178.4h5.2v5.3h-5.2zM611.5 178.4h5.2v5.3h-5.2zM641.9 178.4h5.2v5.3h-5.2zM202.5 183.6h5.2v5.3h-5.2zM485.3 183.6h10.2v5.3h-10.2zM641.9 183.6h5.2v5.3h-5.2zM651.9 183.6h5.2v5.3h-5.2zM480.2 188.7h5.2v5.3h-5.2zM535.8 188.7h5.2v5.3h-5.2zM576.2 188.7h5.2v5.3h-5.2zM500.4 193.9h5.2v5.3h-5.2zM535.8 193.9h5.2v5.3h-5.2zM596.4 193.9h5.2v5.3h-5.2zM626.7 193.9h5.2v5.3h-5.2zM146.9 199h5.2v5.3h-5.2zM520.6 199h10.2v5.3h-10.2zM591.4 199h20.3v5.3h-20.3zM621.6 199h5.2v5.3h-5.2zM495.4 204.2h15.3v5.3h-15.3zM535.8 204.2h5.2v5.3h-5.2zM545.9 204.2h5.2v5.3h-5.2zM591.4 204.2h5.2v5.3h-5.2zM606.5 204.2h5.2v5.3h-5.2zM146.9 209.3h5.2v5.3h-5.2zM480.2 209.3h5.2v5.3h-5.2zM510.6 209.3h5.2v5.3h-5.2zM596.4 209.3h5.2v5.3h-5.2zM606.5 209.3h5.2v5.3h-5.2zM581.2 214.5h10.2v5.3h-10.2zM601.4 214.5h5.2v5.3h-5.2zM465.1 219.6h5.2v5.3h-5.2zM475.2 219.6h10.2v5.3h-10.2zM576.2 219.6h5.2v5.3h-5.2zM586.3 219.6h5.2v5.3h-5.2zM414.6 224.8h5.2v5.3h-5.2zM490.3 224.8h5.2v5.3h-5.2zM419.6 229.9h5.2v5.3h-5.2zM485.3 235.1h5.2v5.3h-5.2zM414.6 245.4h5.2v5.3h-5.2zM429.8 245.4h5.2v5.3h-5.2zM424.7 266h5.2v5.3h-5.2zM561 296.8h5.2v5.3h-5.2zM551 302h5.2v5.3h-5.2zM551 307.1h10.2v5.3h-10.2zM455 312.3h10.2v5.3h-10.2zM551 312.3h5.2v5.3h-5.2zM505.5 317.4h5.2v5.3h-5.2zM540.8 317.4h5.2v5.3h-5.2zM561 322.6h5.2v5.3h-5.2zM515.6 327.7h5.2v5.3h-5.2zM545.9 327.7h5.2v5.3h-5.2zM460.1 332.9h5.2v5.3h-5.2zM485.3 332.9h5.2v5.3h-5.2zM515.6 332.9h5.2v5.3h-5.2zM525.7 332.9h5.2v5.3h-5.2zM571.1 332.9h5.2v5.3h-5.2zM485.3 338h5.2v5.3h-5.2zM520.6 338h10.2v5.3h-10.2zM545.9 338h5.2v5.3h-5.2zM480.2 343.2h5.2v5.3h-5.2zM495.4 343.2h5.2v5.3h-5.2zM525.7 343.2h5.2v5.3h-5.2zM540.8 343.2h5.2v5.3h-5.2zM460.1 348.3h5.2v5.3h-5.2zM485.3 348.3h5.2v5.3h-5.2zM500.4 348.3h5.2v5.3h-5.2zM535.8 348.3h5.2v5.3h-5.2zM571.1 348.3h5.2v5.3h-5.2zM460.1 353.5h5.2v5.3h-5.2zM470.1 353.5h10.2v5.3h-10.2zM495.4 353.5h10.2v5.3h-10.2zM510.6 353.5h5.2v5.3h-5.2zM525.7 353.5h5.2v5.3h-5.2zM556 353.5h5.2v5.3h-5.2zM566.1 353.5h5.2v5.3h-5.2zM460.1 358.6h5.2v5.3h-5.2zM490.3 358.6h10.2v5.3h-10.2zM510.6 358.6h15.3v5.3h-15.3zM455 363.8h5.2v5.3h-5.2zM475.2 363.8h10.2v5.3h-10.2zM490.3 363.8h10.2v5.3h-10.2zM505.5 363.8h10.2v5.3h-10.2zM525.7 363.8h5.2v5.3h-5.2zM460.1 368.9h5.2v5.3h-5.2zM475.2 368.9h5.2v5.3h-5.2zM500.4 368.9h10.2v5.3h-10.2zM520.6 368.9h5.2v5.3h-5.2zM530.8 368.9h10.2v5.3h-10.2zM566.1 368.9h5.2v5.3h-5.2zM465.1 374.1h5.2v5.3h-5.2zM490.3 374.1h5.2v5.3h-5.2zM505.5 374.1h10.2v5.3h-10.2zM460.1 379.2h5.2v5.3h-5.2zM505.5 379.2h5.2v5.3h-5.2zM515.6 379.2h10.2v5.3h-10.2zM460.1 384.4h5.2v5.3h-5.2zM500.4 384.4h5.2v5.3h-5.2zM510.6 384.4h15.3v5.3h-15.3zM470.1 389.5h5.2v5.3h-5.2zM490.3 389.5h10.2v5.3h-10.2zM510.6 389.5h5.2v5.3h-5.2zM520.6 389.5h5.2v5.3h-5.2zM480.2 394.7h5.2v5.3h-5.2zM505.5 394.7h5.2v5.3h-5.2zM515.6 394.7h10.2v5.3h-10.2zM530.8 394.7h5.2v5.3h-5.2zM419.6 399.8h5.2v5.3h-5.2zM449.9 399.8h5.2v5.3h-5.2zM485.3 399.8h5.2v5.3h-5.2zM505.5 399.8h10.2v5.3h-10.2zM460.1 405h5.2v5.3h-5.2zM470.1 405h10.2v5.3h-10.2zM505.5 405h10.2v5.3h-10.2zM414.6 410.1h10.2v5.3h-10.2zM439.8 410.1h10.2v5.3h-10.2zM455 410.1h30.4v5.3h-30.4zM490.3 410.1h5.2v5.3h-5.2zM515.6 410.1h5.2v5.3h-5.2zM530.8 410.1h10.2v5.3h-10.2zM439.8 415.2h10.2v5.3h-10.2zM460.1 415.2h5.2v5.3h-5.2zM470.1 415.2h5.2v5.3h-5.2zM480.2 415.2h5.2v5.3h-5.2zM490.3 415.2h15.3v5.3h-15.3zM434.8 420.4h5.2v5.3h-5.2zM465.1 420.4h25.4v5.3h-25.4zM495.4 420.4h5.2v5.3h-5.2zM515.6 420.4h10.2v5.3h-10.2zM424.7 425.5h10.2v5.3h-10.2zM439.8 425.5h5.2v5.3h-5.2zM455 425.5h5.2v5.3h-5.2zM465.1 425.5h10.2v5.3h-10.2zM480.2 425.5h25.4v5.3h-25.4zM510.6 425.5h15.3v5.3h-15.3zM424.7 430.7h5.2v5.3h-5.2zM434.8 430.7h5.2v5.3h-5.2zM470.1 430.7h5.2v5.3h-5.2zM480.2 430.7h5.2v5.3h-5.2zM515.6 430.7h5.2v5.3h-5.2zM424.7 435.8h10.2v5.3h-10.2zM439.8 435.8h10.2v5.3h-10.2zM455 435.8h10.2v5.3h-10.2zM490.3 435.8h5.2v5.3h-5.2zM444.9 441h5.2v5.3h-5.2zM455 441h5.2v5.3h-5.2zM465.1 441h10.2v5.3h-10.2zM485.3 441h5.2v5.3h-5.2zM465.1 446.1h15.3v5.3h-15.3zM470.1 451.3h5.2v5.3h-5.2zM449.9 477h5.2v5.3h-5.2zM460.1 477h5.2v5.3h-5.2zM455 487.3h10.2v5.3h-10.2z"/>
<path fill="#F4B183" d="M586.3 183.6h5.2v5.3h-5.2zM581.2 188.7h5.2v5.3h-5.2zM273.2 338h5.2v5.3h-5.2zM283.3 338h5.2v5.3h-5.2zM278.2 343.2h10.2v5.3h-10.2zM283.3 353.5h5.2v5.3h-5.2zM414.6 415.2h5.2v5.3h-5.2zM424.7 415.2h5.2v5.3h-5.2zM490.3 420.4h5.2v5.3h-5.2zM419.6 425.5h5.2v5.3h-5.2zM439.8 441h5.2v5.3h-5.2z"/>
<path d="M525.7 238.7L517.6 251.6L514.5 267M499.4 264.5L514.5 267L513.5 277.3L523.6 285.1L535.8 286.4L553 281.2M523.6 285.1L517.6 295.4L513.5 309.5L515.6 321.1M533.7 287.6L543.8 297.9L545.9 310.8L553 328.8L542.8 352L525.7 349.4M455 348.2L470.1 352L490.3 350.7L501.4 354.6L498.4 377.7L500.4 397L499.4 409.9M542.8 352L543.8 368.7L532.7 381.6L522.6 398.3L519.6 412.5M543.8 368.7L555.9 376.4L564 381.6M473.1 408.6L480.2 416.3L499.4 409.9L512.5 415L524.6 413.8L531.7 422.8M473.1 408.6L473.1 422.8L475.2 438.2L465 452M404.5 409.9L424.7 409.9L444.9 403.5L451.9 397L465.1 403.5L473.1 408.6M584.3 178.3L599.4 174.4L612.5 189.9L619.6 197.5L609.5 210.4M584.3 146.1L604.5 148.9L619.6 150.1L634.7 154L655 164.1L670.1 162.8M322 180.7L319.3 184.7L318 191.3L303.3 195.3L295.3 202L287.3 211.3L286 227.3L260 236.7L260.7 243.3L270 252.7L267.3 263.3L252.7 266M286 227.3L300.7 226L316.7 228.7L326 238L330 228.7L343.3 230L354 234L360.7 239.3L370 242L378 231.3L399.3 224.7L400.7 231.3L392.7 239.3M330 181.3L336.7 196.7L346 208.7L359.3 206L360.7 210L355.3 218L366 226L378 228.7M388 292L380.7 284.7L387.3 271.3L388.7 263.3L386 255.3L380.7 244.7L378 231.3M396.7 242L403.3 250L410 263.3L415.3 271.3L423.3 274L427.3 266L430 250L428.7 228.7L422 226M423.3 276.7L423.3 290L419.3 303.3L415.3 308.7M447.3 242L446 263.3L442 274L440 285L445 300L455 312L460 329M422 226L435 222L450 215L470 205L498.7 197.3M334 313L345 328L348 338L350 360L357 362L364 370L370 380L386 380L392 366L400 362L408 368L410 376L400 380L398 390L404 400L414 405M414 342L420 340L432 342L444 320L436 356L425 360L420 370L414 366L413 352L414 342M515 322L512 335L505 345M617 67.7L640 95L660 110L668 102.7" fill="none" stroke="#999" stroke-width="1.1" stroke-linejoin="round"/>
<path d="M145 291L160 278L184 274L196 276L216 268L236 264L252.7 266L255.3 276.7L255.3 290L263.3 300.7L276.7 304.7L292.7 308.7L306 314L310 316L320 324L332 315L333 305L334 296L343 298L348 307L358 309L365 314L370 306L378 300L388 292L400 302L406 311L414 310L430 314L444 320L460 329L455 333L444 346L452 360L454 380L453 400L456 404M310 362L330 362L337 366L343 374L346 391M456 404L470 402L490 404L510 398L530 395L545 400L554.5 401.5M460 329L470 322L480 316L486.7 317.3L500 317.3L515 322L540 320L565 322L575 320M480 316L473.3 308L466.7 300L464 286.7L473.3 282.7L484 278.7L493.3 273.3L494.7 266.7L496 254.7L498.7 244L497.3 233.3L504 224L501.3 213.3L498.7 197.3L506.7 190.7L520 185.3L533.3 185.3L541.3 193.3L546.7 200L553.3 206.7L566.7 204L580 205.3M573 52.7L588 61L597 69L617 67.7L622 76L611.7 94L596.7 112.7L586.7 124L596.7 129L580 142.7L583 156L593 174L580 179L573 190L566.7 204" fill="none" stroke="#444" stroke-width="1.2" stroke-linejoin="round"/>
<path d="M226 99.4L235.6 100.3L237.5 107L250.8 116.4L264 126L266 143L275.4 150.5L294 156L311.4 163.8L322.7 180.8L330.5 181L348 182.8L369 184.5L383 189.8L404 195L425 188L442.5 184.5L460 177.5L470 173.7L480 167L474.7 160.3L478 152.3L483.3 151.7L489.3 154.3L496.7 155.7L506 147.7L520 147L523.3 141.7L526.7 135L533.3 132.3L543.3 130.3L556.7 125L558.7 123L554.7 116.3L546.7 113L536.7 116.3L534 119L530 115L520.7 116.3L516.7 112.3L519.3 108.3L522 101.7L524 94L530.7 89.8L545.8 89.8L554.5 83.3L563 72.5L567.5 61.7L562 53L567.5 48.7L578.3 43.3L594.6 41L611 44.3L621.7 50.8L625 61L630 74L637 86L647 92.7L657 96L668 102.7L673 116L690 112.7L715 108.5L711.7 119L701.7 136L695 151L673 152.7L673 179L660 182.7L646.7 192.7L635 196L623 202.7L606.7 216L590 224L573 232.7L578 222L583 208L580 205L571 206.6L561 215.6L553 224.6L540 228.3L536.7 236.7L543.3 246.7L553.3 248.3L563.3 248.3L575 246L586.7 251.7L580 258.3L563.3 263.3L553.3 276.7L561.7 286.7L565 296.7L570 313.3L575 320L578.3 330L577 340L577 352.5L572 370L561.5 384L554.5 401.5L544 415.5L530 429.5L512.5 436.5L495 440L477.5 452.3L465.6 457L462.1 460.6L465.6 466.5L463.3 472.4L458.5 468.9L457.3 459.4L453.8 453.4L441.9 453.4L432 448.8L425 436.5L418 426L411 433L402 440L390 438L377.8 443.5L377.8 459L372.5 457.5L358.5 450.5L348 429.5L337.5 422.5L335.7 408.5L346 391L342.8 373.5L344 378L334 368L316 372L296 382L278 384L272 372L256 370L248 380L246 372L228 372L216 372L204 366L192 354L180 342L168 344L156 334L146 328L141 314L146 304L144 292L142 288L136 278L116.3 268L108.7 258.5L103 249L97.4 233.8L91.7 224.4L97.4 214.9L114.4 209L133.3 201.6L148.5 194L158 186.5L161.8 179L160 167.5L156 154.3L160 150.5L177 148.6L180.7 143L186.4 129.7L192 125.9L213 124L214.8 107Z" fill="none" stroke="#3c3c3c" stroke-width="1.4" stroke-linejoin="round"/>
<path d="M561.8 433.3L564.2 417.8L572.5 408.3L577.3 406.5L580.8 409.5L579.6 420.2L577.3 433.3L571.3 442.8L569 449.9L565.4 439.2ZM446 478.5L456.5 475L468.8 475L470.5 485.5L465 497.8L453 501L446 492.5Z" fill="none" stroke="#333" stroke-width="1.2"/>
<path d="M586.8 429.7L589.1 416.6M573.7 464.1L580.8 453.4M555.9 499.8L561.8 487.9M551.7 525.9L551.7 537.8M453.8 523.5L456.5 529L458.5 537.8" fill="none" stroke="#777" stroke-width="1.2"/>
<path d="M498 531L501 525L507 522.5L510.8 525L506 530L501 533Z" fill="none" stroke="#888" stroke-width="0.9"/>
<path d="M475 511.6h1.5v1.5h-1.5zM480 513h1.5v1.5h-1.5zM478 519h1.5v1.5h-1.5zM482 521h1.5v1.5h-1.5zM476 523h1.5v1.5h-1.5zM486 525.9h1.5v1.5h-1.5zM484 517h1.5v1.5h-1.5zM530 466h1.5v1.5h-1.5zM528 403h1.5v1.5h-1.5z" fill="#888"/>
<rect x="76.2" y="24" width="687.2" height="514.8" fill="none" stroke="#6e6e6e" stroke-width="1.8"/>
<line x1="157" y1="538.8" x2="157" y2="545.8" stroke="#6e6e6e" stroke-width="1.6"/>
<line x1="157" y1="24" x2="157" y2="17" stroke="#6e6e6e" stroke-width="1.6"/>
<text x="157" y="570.2" text-anchor="middle" font-size="18" fill="#222">80°E</text>
<line x1="258" y1="538.8" x2="258" y2="545.8" stroke="#6e6e6e" stroke-width="1.6"/>
<line x1="258" y1="24" x2="258" y2="17" stroke="#6e6e6e" stroke-width="1.6"/>
<text x="258" y="570.2" text-anchor="middle" font-size="18" fill="#222">90°E</text>
<line x1="359" y1="538.8" x2="359" y2="545.8" stroke="#6e6e6e" stroke-width="1.6"/>
<line x1="359" y1="24" x2="359" y2="17" stroke="#6e6e6e" stroke-width="1.6"/>
<text x="359" y="570.2" text-anchor="middle" font-size="18" fill="#222">100°E</text>
<line x1="460" y1="538.8" x2="460" y2="545.8" stroke="#6e6e6e" stroke-width="1.6"/>
<line x1="460" y1="24" x2="460" y2="17" stroke="#6e6e6e" stroke-width="1.6"/>
<text x="460" y="570.2" text-anchor="middle" font-size="18" fill="#222">110°E</text>
<line x1="561" y1="538.8" x2="561" y2="545.8" stroke="#6e6e6e" stroke-width="1.6"/>
<line x1="561" y1="24" x2="561" y2="17" stroke="#6e6e6e" stroke-width="1.6"/>
<text x="561" y="570.2" text-anchor="middle" font-size="18" fill="#222">120°E</text>
<line x1="662" y1="538.8" x2="662" y2="545.8" stroke="#6e6e6e" stroke-width="1.6"/>
<line x1="662" y1="24" x2="662" y2="17" stroke="#6e6e6e" stroke-width="1.6"/>
<text x="662" y="570.2" text-anchor="middle" font-size="18" fill="#222">130°E</text>
<line x1="763" y1="538.8" x2="763" y2="545.8" stroke="#6e6e6e" stroke-width="1.6"/>
<line x1="763" y1="24" x2="763" y2="17" stroke="#6e6e6e" stroke-width="1.6"/>
<text x="763" y="570.2" text-anchor="middle" font-size="18" fill="#222">140°E</text>
<line x1="69.2" y1="474.2" x2="76.2" y2="474.2" stroke="#6e6e6e" stroke-width="1.6"/>
<line x1="763.5" y1="474.2" x2="770.5" y2="474.2" stroke="#6e6e6e" stroke-width="1.6"/>
<text x="66" y="480.8" text-anchor="end" font-size="18" fill="#222">20°N</text>
<line x1="69.2" y1="345.6" x2="76.2" y2="345.6" stroke="#6e6e6e" stroke-width="1.6"/>
<line x1="763.5" y1="345.6" x2="770.5" y2="345.6" stroke="#6e6e6e" stroke-width="1.6"/>
<text x="66" y="352.1" text-anchor="end" font-size="18" fill="#222">30°N</text>
<line x1="69.2" y1="216.9" x2="76.2" y2="216.9" stroke="#6e6e6e" stroke-width="1.6"/>
<line x1="763.5" y1="216.9" x2="770.5" y2="216.9" stroke="#6e6e6e" stroke-width="1.6"/>
<text x="66" y="223.4" text-anchor="end" font-size="18" fill="#222">40°N</text>
<line x1="69.2" y1="88.2" x2="76.2" y2="88.2" stroke="#6e6e6e" stroke-width="1.6"/>
<line x1="763.5" y1="88.2" x2="770.5" y2="88.2" stroke="#6e6e6e" stroke-width="1.6"/>
<text x="66" y="94.7" text-anchor="end" font-size="18" fill="#222">50°N</text>
<rect x="654.7" y="401.4" width="97.4" height="126.6" fill="#fff" stroke="#777" stroke-width="1.5"/>
<path d="M654.7 402L726.4 402L720 409L711.8 416L699 420.7L688.5 423L679.2 425.3L673.3 424.2L661.7 420.7L654.7 416Z" fill="#FBE3D2" stroke="#777" stroke-width="0.8"/>
<path fill="#F4B183" d="M654.7 402h2.2v2.2h-2.2zM683.3 402h2.2v2.2h-2.2zM700.9 402h2.2v2.2h-2.2zM720.7 402h2.2v2.2h-2.2zM654.7 404.2h2.2v2.2h-2.2zM659.1 404.2h2.2v2.2h-2.2zM663.5 404.2h2.2v2.2h-2.2zM672.3 404.2h2.2v2.2h-2.2zM681.1 404.2h2.2v2.2h-2.2zM683.3 404.2h2.2v2.2h-2.2zM659.1 406.4h2.2v2.2h-2.2zM663.5 406.4h2.2v2.2h-2.2zM667.9 406.4h2.2v2.2h-2.2zM696.5 406.4h2.2v2.2h-2.2zM700.9 406.4h2.2v2.2h-2.2zM705.3 406.4h2.2v2.2h-2.2zM709.7 406.4h2.2v2.2h-2.2zM659.1 408.6h2.2v2.2h-2.2zM661.3 408.6h2.2v2.2h-2.2zM663.5 408.6h2.2v2.2h-2.2zM667.9 408.6h2.2v2.2h-2.2zM670.1 408.6h2.2v2.2h-2.2zM681.1 408.6h2.2v2.2h-2.2zM685.5 408.6h2.2v2.2h-2.2zM687.7 408.6h2.2v2.2h-2.2zM689.9 408.6h2.2v2.2h-2.2zM692.1 408.6h2.2v2.2h-2.2zM698.7 408.6h2.2v2.2h-2.2zM703.1 408.6h2.2v2.2h-2.2zM705.3 408.6h2.2v2.2h-2.2zM665.7 410.8h2.2v2.2h-2.2zM678.9 410.8h2.2v2.2h-2.2zM667.9 413h2.2v2.2h-2.2zM687.7 413h2.2v2.2h-2.2zM689.9 413h2.2v2.2h-2.2zM698.7 413h2.2v2.2h-2.2zM670.1 415.2h2.2v2.2h-2.2zM674.5 415.2h2.2v2.2h-2.2zM685.5 415.2h2.2v2.2h-2.2zM672.3 417.4h2.2v2.2h-2.2zM696.5 417.4h2.2v2.2h-2.2zM661.3 419.6h2.2v2.2h-2.2zM663.5 419.6h2.2v2.2h-2.2zM676.7 419.6h2.2v2.2h-2.2zM687.7 419.6h2.2v2.2h-2.2zM667.9 421.8h2.2v2.2h-2.2zM670.1 421.8h2.2v2.2h-2.2zM676.7 421.8h2.2v2.2h-2.2zM685.5 421.8h2.2v2.2h-2.2z"/>
<path fill="#FBE5D6" d="M661.3 402h2.2v2.2h-2.2zM667.9 402h2.2v2.2h-2.2zM698.7 402h2.2v2.2h-2.2zM703.1 402h2.2v2.2h-2.2zM705.3 402h2.2v2.2h-2.2zM656.9 404.2h2.2v2.2h-2.2zM670.1 404.2h2.2v2.2h-2.2zM689.9 404.2h2.2v2.2h-2.2zM694.3 404.2h2.2v2.2h-2.2zM696.5 404.2h2.2v2.2h-2.2zM705.3 404.2h2.2v2.2h-2.2zM720.7 404.2h2.2v2.2h-2.2zM674.5 408.6h2.2v2.2h-2.2zM659.1 410.8h2.2v2.2h-2.2zM674.5 410.8h2.2v2.2h-2.2zM685.5 410.8h2.2v2.2h-2.2zM709.7 410.8h2.2v2.2h-2.2zM659.1 413h2.2v2.2h-2.2zM674.5 413h2.2v2.2h-2.2zM681.1 413h2.2v2.2h-2.2zM659.1 415.2h2.2v2.2h-2.2zM696.5 415.2h2.2v2.2h-2.2zM659.1 417.4h2.2v2.2h-2.2zM681.1 417.4h2.2v2.2h-2.2zM685.5 419.6h2.2v2.2h-2.2zM672.3 421.8h2.2v2.2h-2.2zM683.3 421.8h2.2v2.2h-2.2z"/>
<path fill="#ED7D31" d="M663.5 402h2.2v2.2h-2.2zM670.1 402h2.2v2.2h-2.2zM672.3 402h2.2v2.2h-2.2zM685.5 402h2.2v2.2h-2.2zM665.7 404.2h2.2v2.2h-2.2zM711.9 404.2h2.2v2.2h-2.2zM714.1 404.2h2.2v2.2h-2.2zM718.5 404.2h2.2v2.2h-2.2zM654.7 406.4h2.2v2.2h-2.2zM665.7 406.4h2.2v2.2h-2.2zM670.1 406.4h2.2v2.2h-2.2zM678.9 406.4h2.2v2.2h-2.2zM681.1 406.4h2.2v2.2h-2.2zM683.3 406.4h2.2v2.2h-2.2zM692.1 406.4h2.2v2.2h-2.2zM711.9 406.4h2.2v2.2h-2.2zM654.7 408.6h2.2v2.2h-2.2zM656.9 408.6h2.2v2.2h-2.2zM665.7 408.6h2.2v2.2h-2.2zM678.9 408.6h2.2v2.2h-2.2zM694.3 408.6h2.2v2.2h-2.2zM656.9 410.8h2.2v2.2h-2.2zM661.3 410.8h2.2v2.2h-2.2zM663.5 410.8h2.2v2.2h-2.2zM683.3 410.8h2.2v2.2h-2.2zM696.5 410.8h2.2v2.2h-2.2zM698.7 410.8h2.2v2.2h-2.2zM703.1 410.8h2.2v2.2h-2.2zM656.9 413h2.2v2.2h-2.2zM665.7 413h2.2v2.2h-2.2zM672.3 413h2.2v2.2h-2.2zM683.3 413h2.2v2.2h-2.2zM685.5 413h2.2v2.2h-2.2zM692.1 413h2.2v2.2h-2.2zM696.5 413h2.2v2.2h-2.2zM703.1 413h2.2v2.2h-2.2zM654.7 415.2h2.2v2.2h-2.2zM656.9 415.2h2.2v2.2h-2.2zM672.3 415.2h2.2v2.2h-2.2zM678.9 415.2h2.2v2.2h-2.2zM681.1 415.2h2.2v2.2h-2.2zM705.3 415.2h2.2v2.2h-2.2zM661.3 417.4h2.2v2.2h-2.2zM676.7 417.4h2.2v2.2h-2.2zM678.9 417.4h2.2v2.2h-2.2zM687.7 417.4h2.2v2.2h-2.2zM692.1 417.4h2.2v2.2h-2.2zM694.3 417.4h2.2v2.2h-2.2zM689.9 419.6h2.2v2.2h-2.2zM694.3 419.6h2.2v2.2h-2.2zM674.5 421.8h2.2v2.2h-2.2zM687.7 421.8h2.2v2.2h-2.2zM678.9 424h2.2v2.2h-2.2z"/>
<path fill="#F8CBAD" d="M674.5 402h2.2v2.2h-2.2zM676.7 402h2.2v2.2h-2.2zM687.7 402h2.2v2.2h-2.2zM692.1 402h2.2v2.2h-2.2zM709.7 402h2.2v2.2h-2.2zM711.9 402h2.2v2.2h-2.2zM714.1 402h2.2v2.2h-2.2zM716.3 402h2.2v2.2h-2.2zM718.5 402h2.2v2.2h-2.2zM722.9 402h2.2v2.2h-2.2zM667.9 404.2h2.2v2.2h-2.2zM678.9 404.2h2.2v2.2h-2.2zM692.1 404.2h2.2v2.2h-2.2zM698.7 404.2h2.2v2.2h-2.2zM700.9 404.2h2.2v2.2h-2.2zM703.1 404.2h2.2v2.2h-2.2zM707.5 404.2h2.2v2.2h-2.2zM685.5 406.4h2.2v2.2h-2.2zM694.3 406.4h2.2v2.2h-2.2zM716.3 406.4h2.2v2.2h-2.2zM700.9 408.6h2.2v2.2h-2.2zM707.5 408.6h2.2v2.2h-2.2zM709.7 408.6h2.2v2.2h-2.2zM711.9 408.6h2.2v2.2h-2.2zM714.1 408.6h2.2v2.2h-2.2zM716.3 408.6h2.2v2.2h-2.2zM654.7 410.8h2.2v2.2h-2.2zM667.9 410.8h2.2v2.2h-2.2zM670.1 410.8h2.2v2.2h-2.2zM672.3 410.8h2.2v2.2h-2.2zM681.1 410.8h2.2v2.2h-2.2zM689.9 410.8h2.2v2.2h-2.2zM694.3 410.8h2.2v2.2h-2.2zM705.3 410.8h2.2v2.2h-2.2zM714.1 410.8h2.2v2.2h-2.2zM661.3 413h2.2v2.2h-2.2zM663.5 413h2.2v2.2h-2.2zM678.9 413h2.2v2.2h-2.2zM694.3 413h2.2v2.2h-2.2zM700.9 413h2.2v2.2h-2.2zM709.7 413h2.2v2.2h-2.2zM661.3 415.2h2.2v2.2h-2.2zM665.7 415.2h2.2v2.2h-2.2zM683.3 415.2h2.2v2.2h-2.2zM687.7 415.2h2.2v2.2h-2.2zM694.3 415.2h2.2v2.2h-2.2zM700.9 415.2h2.2v2.2h-2.2zM709.7 415.2h2.2v2.2h-2.2zM663.5 417.4h2.2v2.2h-2.2zM665.7 417.4h2.2v2.2h-2.2zM667.9 417.4h2.2v2.2h-2.2zM670.1 417.4h2.2v2.2h-2.2zM683.3 417.4h2.2v2.2h-2.2zM685.5 417.4h2.2v2.2h-2.2zM698.7 417.4h2.2v2.2h-2.2zM700.9 417.4h2.2v2.2h-2.2zM703.1 417.4h2.2v2.2h-2.2zM665.7 419.6h2.2v2.2h-2.2zM667.9 419.6h2.2v2.2h-2.2zM672.3 419.6h2.2v2.2h-2.2zM678.9 419.6h2.2v2.2h-2.2zM683.3 419.6h2.2v2.2h-2.2zM692.1 419.6h2.2v2.2h-2.2zM696.5 419.6h2.2v2.2h-2.2zM678.9 421.8h2.2v2.2h-2.2zM681.1 421.8h2.2v2.2h-2.2z"/>
<ellipse cx="676.3" cy="437.6" rx="5.5" ry="4.3" fill="#E6D9B8" stroke="#6a8f4a" stroke-width="1"/>
<path d="M734 405.5L738 405L736.4 414.8L732.8 421.8L730.5 416Z" fill="none" stroke="#888" stroke-width="0.9"/>
<path d="M741 410.2L742.8 413.7M735.2 426.5L737.5 424.2M725.8 441.7L728.2 438.2M723.5 453.3L724 459.2M721.2 476.7L723 481.3M706 500L709.5 496.5M687.3 521L692 519.3M668 502.3L668.7 506.4M678 475.5L678.6 479M674.5 453.3L677.4 458M696.7 455.7L702.5 453.3" stroke="#999" stroke-width="1" fill="none"/>
<path d="M698.9 476.6h1.2v1.2h-1.2zM688.9 478.1h1.2v1.2h-1.2zM696 484h1.2v1.2h-1.2zM712.2 478h1.2v1.2h-1.2zM692.1 481.2h1.2v1.2h-1.2zM689.2 481.5h1.2v1.2h-1.2zM691.5 486.5h1.2v1.2h-1.2zM685 498h1.2v1.2h-1.2zM695.8 498.4h1.2v1.2h-1.2zM706 491.5h1.2v1.2h-1.2zM699.1 498.6h1.2v1.2h-1.2zM687.8 491.4h1.2v1.2h-1.2zM693.3 491.5h1.2v1.2h-1.2zM707.3 478.2h1.2v1.2h-1.2zM690.4 474.6h1.2v1.2h-1.2zM691.4 476h1.2v1.2h-1.2zM696.8 499.3h1.2v1.2h-1.2zM695.7 482.1h1.2v1.2h-1.2zM699 481.4h1.2v1.2h-1.2zM707.4 492.7h1.2v1.2h-1.2zM689.2 480.3h1.2v1.2h-1.2zM705.5 498.5h1.2v1.2h-1.2zM690.8 453.3h1.2v1.2h-1.2zM694.7 449.1h1.2v1.2h-1.2zM683.7 456.8h1.2v1.2h-1.2zM687.9 449.4h1.2v1.2h-1.2zM689.6 458.9h1.2v1.2h-1.2zM689.2 452.5h1.2v1.2h-1.2z" fill="#aaa"/>
<rect x="93.8" y="493.8" width="21.3" height="13.75" fill="#F8CBAD"/>
<text transform="translate(99 460) rotate(90)" font-size="15" fill="#222">Jan</text>
<rect x="114.7" y="493.8" width="21.3" height="13.75" fill="#FBE5D6"/>
<text transform="translate(120 460) rotate(90)" font-size="15" fill="#222">Feb</text>
<rect x="135.7" y="493.8" width="21.3" height="13.75" fill="#C5E0B4"/>
<text transform="translate(141 460) rotate(90)" font-size="15" fill="#222">Mar</text>
<rect x="156.7" y="493.8" width="21.3" height="13.75" fill="#70AD47"/>
<text transform="translate(162 460) rotate(90)" font-size="15" fill="#222">Apr</text>
<rect x="177.7" y="493.8" width="21.3" height="13.75" fill="#548235"/>
<text transform="translate(183 460) rotate(90)" font-size="15" fill="#222">May</text>
<rect x="198.6" y="493.8" width="21.3" height="13.75" fill="#4472C4"/>
<text transform="translate(203.9 460) rotate(90)" font-size="15" fill="#222">Jun</text>
<rect x="219.6" y="493.8" width="21.3" height="13.75" fill="#9DC3E6"/>
<text transform="translate(224.9 460) rotate(90)" font-size="15" fill="#222">Jul</text>
<rect x="240.6" y="493.8" width="21.3" height="13.75" fill="#DAE3F3"/>
<text transform="translate(245.9 460) rotate(90)" font-size="15" fill="#222">Aug</text>
<rect x="261.6" y="493.8" width="21.3" height="13.75" fill="#EDEDED"/>
<text transform="translate(266.9 460) rotate(90)" font-size="15" fill="#222">Sep</text>
<rect x="282.6" y="493.8" width="21.3" height="13.75" fill="#C55A11"/>
<text transform="translate(287.9 460) rotate(90)" font-size="15" fill="#222">Oct</text>
<rect x="303.5" y="493.8" width="21.3" height="13.75" fill="#ED7D31"/>
<text transform="translate(308.8 460) rotate(90)" font-size="15" fill="#222">Nov</text>
<rect x="324.5" y="493.8" width="21.3" height="13.75" fill="#F4B183"/>
<text transform="translate(329.8 460) rotate(90)" font-size="15" fill="#222">Dec</text>
<rect x="93.75" y="493.8" width="251.8" height="13.75" fill="none" stroke="#b9a79a" stroke-width="1"/>
<text transform="translate(671.5 98.5) scale(1 1.145)" font-size="16.5" fill="#111">NEC</text>
<text transform="translate(570 290) scale(1 1.145)" font-size="16.5" fill="#111">NC</text>
<text transform="translate(293.5 409) scale(1 1.145)" font-size="16.5" fill="#111">SWC</text>
<text transform="translate(516 456) scale(1 1.145)" font-size="16.5" fill="#111">SC</text>
<path d="M324.2 37.4A59.4 59.4 0 0 1 326.9 37.4L326.2 64A32.8 32.8 0 0 0 324.7 64Z" fill="#FFFFFF" stroke="#fff" stroke-width="1.3"/>
<path d="M326.9 37.4A59.4 59.4 0 0 1 337.5 38.6L332.1 64.6A32.8 32.8 0 0 0 326.2 64Z" fill="#FBE5D6" stroke="#fff" stroke-width="1.3"/>
<path d="M337.5 38.6A59.4 59.4 0 0 1 382.3 79.8L356.8 87.4A32.8 32.8 0 0 0 332.1 64.6Z" fill="#C5E0B4" stroke="#fff" stroke-width="1.3"/>
<path d="M382.3 79.8A59.4 59.4 0 0 1 354.1 148.8L341.3 125.5A32.8 32.8 0 0 0 356.8 87.4Z" fill="#70AD47" stroke="#fff" stroke-width="1.3"/>
<path d="M354.1 148.8A59.4 59.4 0 0 1 316.3 155.5L320.4 129.2A32.8 32.8 0 0 0 341.3 125.5Z" fill="#548235" stroke="#fff" stroke-width="1.3"/>
<path d="M316.3 155.5A59.4 59.4 0 0 1 313.3 154.9L318.7 128.9A32.8 32.8 0 0 0 320.4 129.2Z" fill="#4472C4" stroke="#fff" stroke-width="1.3"/>
<path d="M313.3 154.9A59.4 59.4 0 0 1 310.5 154.3L317.2 128.5A32.8 32.8 0 0 0 318.7 128.9Z" fill="#9DC3E6" stroke="#fff" stroke-width="1.3"/>
<path d="M310.5 154.3A59.4 59.4 0 0 1 295.8 148.2L309 125.2A32.8 32.8 0 0 0 317.2 128.5Z" fill="#DAE3F3" stroke="#fff" stroke-width="1.3"/>
<path d="M295.8 148.2A59.4 59.4 0 0 1 266.8 106.3L293 102.1A32.8 32.8 0 0 0 309 125.2Z" fill="#EDEDED" stroke="#fff" stroke-width="1.3"/>
<path d="M266.8 106.3A59.4 59.4 0 0 1 282.5 55.6L301.7 74A32.8 32.8 0 0 0 293 102.1Z" fill="#C55A11" stroke="#fff" stroke-width="1.3"/>
<path d="M282.5 55.6A59.4 59.4 0 0 1 324.2 37.4L324.7 64A32.8 32.8 0 0 0 301.7 74Z" fill="#ED7D31" stroke="#fff" stroke-width="1.3"/>
<text x="325.4" y="103" text-anchor="middle" font-size="17.5" fill="#111">NEC</text>
<path d="M454.8 37.4A59.4 59.4 0 0 1 457.6 37.4L456.9 64A32.8 32.8 0 0 0 455.3 64Z" fill="#C5E0B4" stroke="#fff" stroke-width="1.3"/>
<path d="M457.6 37.4A59.4 59.4 0 0 1 459.4 37.4L457.9 64A32.8 32.8 0 0 0 456.9 64Z" fill="#70AD47" stroke="#fff" stroke-width="1.3"/>
<path d="M459.4 37.4A59.4 59.4 0 0 1 514.9 104.6L488.5 101.1A32.8 32.8 0 0 0 457.9 64Z" fill="#548235" stroke="#fff" stroke-width="1.3"/>
<path d="M514.9 104.6A59.4 59.4 0 1 1 412.8 55.9L432.2 74.2A32.8 32.8 0 1 0 488.5 101.1Z" fill="#4472C4" stroke="#fff" stroke-width="1.3"/>
<path d="M412.8 55.9A59.4 59.4 0 0 1 435.1 41.1L444.5 66A32.8 32.8 0 0 0 432.2 74.2Z" fill="#EDEDED" stroke="#fff" stroke-width="1.3"/>
<path d="M435.1 41.1A59.4 59.4 0 0 1 445.5 38.3L450.2 64.5A32.8 32.8 0 0 0 444.5 66Z" fill="#C55A11" stroke="#fff" stroke-width="1.3"/>
<path d="M446 38.2A59.4 59.4 0 0 1 454.4 37.4L455.1 64A32.8 32.8 0 0 0 450.5 64.4Z" fill="#ED7D31" stroke="#fff" stroke-width="1.3"/>
<text x="456" y="103" text-anchor="middle" font-size="17.5" fill="#111">NC</text>
<path d="M675 248.3A68.4 68.4 0 0 1 682.3 248.8L678.5 279.7A37.3 37.3 0 0 0 674.5 279.4Z" fill="#F8CBAD" stroke="#fff" stroke-width="1.3"/>
<path d="M682.3 248.8A68.4 68.4 0 0 1 707.4 257L692.2 284.1A37.3 37.3 0 0 0 678.5 279.7Z" fill="#FBE5D6" stroke="#fff" stroke-width="1.3"/>
<path d="M707.4 257A68.4 68.4 0 0 1 735.9 287.6L707.8 300.8A37.3 37.3 0 0 0 692.2 284.1Z" fill="#C5E0B4" stroke="#fff" stroke-width="1.3"/>
<path d="M735.9 287.6A68.4 68.4 0 0 1 742.1 310.3L711.1 313.2A37.3 37.3 0 0 0 707.8 300.8Z" fill="#70AD47" stroke="#fff" stroke-width="1.3"/>
<path d="M742.1 310.3A68.4 68.4 0 0 1 703.9 378.2L690.3 350.2A37.3 37.3 0 0 0 711.1 313.2Z" fill="#548235" stroke="#fff" stroke-width="1.3"/>
<path d="M703.9 378.2A68.4 68.4 0 0 1 607.9 299.1L638 307.1A37.3 37.3 0 0 0 690.3 350.2Z" fill="#4472C4" stroke="#fff" stroke-width="1.3"/>
<path d="M607.9 299.1A68.4 68.4 0 0 1 609.6 293.6L638.9 304.1A37.3 37.3 0 0 0 638 307.1Z" fill="#DAE3F3" stroke="#fff" stroke-width="1.3"/>
<path d="M609.6 293.6A68.4 68.4 0 0 1 627 267L648.4 289.6A37.3 37.3 0 0 0 638.9 304.1Z" fill="#EDEDED" stroke="#fff" stroke-width="1.3"/>
<path d="M627 267A68.4 68.4 0 0 1 646.7 254L659.1 282.5A37.3 37.3 0 0 0 648.4 289.6Z" fill="#C55A11" stroke="#fff" stroke-width="1.3"/>
<path d="M646.7 254A68.4 68.4 0 0 1 665.5 248.8L669.4 279.7A37.3 37.3 0 0 0 659.1 282.5Z" fill="#ED7D31" stroke="#fff" stroke-width="1.3"/>
<path d="M665.5 248.8A68.4 68.4 0 0 1 673.6 248.3L673.8 279.4A37.3 37.3 0 0 0 669.4 279.7Z" fill="#F4B183" stroke="#fff" stroke-width="1.3"/>
<text x="674" y="324.3" text-anchor="middle" font-size="21.2" fill="#111">China</text>
<text transform="translate(23.2 36) scale(0.8 1)" font-size="41" fill="#000">a</text>
<path fill="#F8CBAD" d="M641.9 767.4h5.2v5.3h-5.2zM606.5 777.7h10.2v5.3h-10.2zM611.5 782.8h5.2v5.3h-5.2zM596.4 788h5.2v5.3h-5.2zM606.5 788h5.2v5.3h-5.2zM616.6 788h5.2v5.3h-5.2zM601.4 793.1h10.2v5.3h-10.2zM616.6 798.3h5.2v5.3h-5.2zM318.6 829.2h5.2v5.3h-5.2zM343.9 829.2h5.2v5.3h-5.2zM409.6 906.4h5.2v5.3h-5.2zM424.7 906.4h5.2v5.3h-5.2zM414.6 911.5h5.2v5.3h-5.2zM424.7 911.5h10.2v5.3h-10.2zM485.3 916.7h5.2v5.3h-5.2zM460.1 921.8h5.2v5.3h-5.2zM490.3 921.8h5.2v5.3h-5.2zM505.5 921.8h5.2v5.3h-5.2zM540.8 921.8h10.2v5.3h-10.2zM460.1 927h5.2v5.3h-5.2zM485.3 927h5.2v5.3h-5.2zM495.4 927h5.2v5.3h-5.2zM525.7 927h5.2v5.3h-5.2zM556 927h10.2v5.3h-10.2zM424.7 932.1h5.2v5.3h-5.2zM449.9 932.1h5.2v5.3h-5.2zM465.1 932.1h15.3v5.3h-15.3zM485.3 932.1h5.2v5.3h-5.2zM551 932.1h10.2v5.3h-10.2zM343.9 937.3h5.2v5.3h-5.2zM414.6 937.3h5.2v5.3h-5.2zM434.8 937.3h5.2v5.3h-5.2zM470.1 937.3h35.5v5.3h-35.5zM540.8 937.3h5.2v5.3h-5.2zM561 937.3h5.2v5.3h-5.2zM348.9 942.4h5.2v5.3h-5.2zM455 942.4h10.2v5.3h-10.2zM480.2 942.4h5.2v5.3h-5.2zM490.3 942.4h5.2v5.3h-5.2zM510.6 942.4h5.2v5.3h-5.2zM535.8 942.4h25.4v5.3h-25.4zM571.1 942.4h5.2v5.3h-5.2zM414.6 947.6h5.2v5.3h-5.2zM455 947.6h5.2v5.3h-5.2zM470.1 947.6h5.2v5.3h-5.2zM485.3 947.6h5.2v5.3h-5.2zM495.4 947.6h5.2v5.3h-5.2zM505.5 947.6h5.2v5.3h-5.2zM515.6 947.6h5.2v5.3h-5.2zM530.8 947.6h5.2v5.3h-5.2zM561 947.6h5.2v5.3h-5.2zM338.8 952.7h5.2v5.3h-5.2zM485.3 952.7h5.2v5.3h-5.2zM515.6 952.7h5.2v5.3h-5.2zM439.8 957.9h5.2v5.3h-5.2zM480.2 957.9h5.2v5.3h-5.2zM561 957.9h5.2v5.3h-5.2zM404.5 963h10.2v5.3h-10.2zM439.8 963h5.2v5.3h-5.2zM449.9 963h10.2v5.3h-10.2zM480.2 963h5.2v5.3h-5.2zM556 963h10.2v5.3h-10.2zM348.9 968.2h5.2v5.3h-5.2zM394.4 968.2h5.2v5.3h-5.2zM414.6 968.2h5.2v5.3h-5.2zM485.3 968.2h10.2v5.3h-10.2zM510.6 968.2h5.2v5.3h-5.2zM535.8 968.2h5.2v5.3h-5.2zM551 968.2h10.2v5.3h-10.2zM384.3 973.3h5.2v5.3h-5.2zM394.4 973.3h5.2v5.3h-5.2zM424.7 973.3h5.2v5.3h-5.2zM439.8 973.3h5.2v5.3h-5.2zM495.4 973.3h5.2v5.3h-5.2zM505.5 973.3h10.2v5.3h-10.2zM540.8 973.3h15.3v5.3h-15.3zM561 973.3h5.2v5.3h-5.2zM409.6 978.5h10.2v5.3h-10.2zM424.7 978.5h5.2v5.3h-5.2zM444.9 978.5h10.2v5.3h-10.2zM470.1 978.5h10.2v5.3h-10.2zM485.3 978.5h15.3v5.3h-15.3zM520.6 978.5h5.2v5.3h-5.2zM409.6 983.6h5.2v5.3h-5.2zM419.6 983.6h20.3v5.3h-20.3zM444.9 983.6h5.2v5.3h-5.2zM455 983.6h10.2v5.3h-10.2zM470.1 983.6h10.2v5.3h-10.2zM485.3 983.6h10.2v5.3h-10.2zM540.8 983.6h5.2v5.3h-5.2zM551 983.6h5.2v5.3h-5.2zM404.5 988.8h10.2v5.3h-10.2zM419.6 988.8h5.2v5.3h-5.2zM434.8 988.8h5.2v5.3h-5.2zM465.1 988.8h5.2v5.3h-5.2zM490.3 988.8h5.2v5.3h-5.2zM505.5 988.8h5.2v5.3h-5.2zM551 988.8h10.2v5.3h-10.2zM439.8 993.9h10.2v5.3h-10.2zM460.1 993.9h5.2v5.3h-5.2zM470.1 993.9h5.2v5.3h-5.2zM480.2 993.9h10.2v5.3h-10.2zM515.6 993.9h5.2v5.3h-5.2zM455 999.1h5.2v5.3h-5.2zM465.1 999.1h5.2v5.3h-5.2zM480.2 999.1h10.2v5.3h-10.2zM505.5 999.1h15.3v5.3h-15.3zM525.7 999.1h5.2v5.3h-5.2zM394.4 1004.2h5.2v5.3h-5.2zM424.7 1004.2h5.2v5.3h-5.2zM444.9 1004.2h5.2v5.3h-5.2zM455 1004.2h5.2v5.3h-5.2zM465.1 1004.2h5.2v5.3h-5.2zM525.7 1004.2h10.2v5.3h-10.2zM399.4 1009.4h5.2v5.3h-5.2zM424.7 1009.4h5.2v5.3h-5.2zM444.9 1009.4h5.2v5.3h-5.2zM455 1009.4h10.2v5.3h-10.2zM475.2 1009.4h5.2v5.3h-5.2zM424.7 1014.5h5.2v5.3h-5.2zM439.8 1014.5h5.2v5.3h-5.2zM455 1014.5h5.2v5.3h-5.2zM470.1 1014.5h10.2v5.3h-10.2zM500.4 1014.5h10.2v5.3h-10.2zM520.6 1014.5h5.2v5.3h-5.2zM434.8 1019.6h10.2v5.3h-10.2zM500.4 1019.6h5.2v5.3h-5.2zM343.9 1024.8h10.2v5.3h-10.2zM424.7 1024.8h5.2v5.3h-5.2zM434.8 1024.8h10.2v5.3h-10.2zM490.3 1024.8h5.2v5.3h-5.2zM500.4 1024.8h5.2v5.3h-5.2zM520.6 1024.8h15.3v5.3h-15.3zM561 1024.8h5.2v5.3h-5.2zM576.2 1024.8h5.2v5.3h-5.2zM434.8 1029.9h15.3v5.3h-15.3zM455 1029.9h10.2v5.3h-10.2zM470.1 1029.9h5.2v5.3h-5.2zM490.3 1029.9h5.2v5.3h-5.2zM500.4 1029.9h5.2v5.3h-5.2zM510.6 1029.9h5.2v5.3h-5.2zM561 1029.9h5.2v5.3h-5.2zM455 1035.1h10.2v5.3h-10.2zM470.1 1035.1h5.2v5.3h-5.2zM480.2 1035.1h5.2v5.3h-5.2zM495.4 1035.1h5.2v5.3h-5.2zM505.5 1035.1h5.2v5.3h-5.2zM515.6 1035.1h5.2v5.3h-5.2zM455 1040.2h5.2v5.3h-5.2zM475.2 1040.2h10.2v5.3h-10.2zM495.4 1040.2h5.2v5.3h-5.2zM566.1 1040.2h5.2v5.3h-5.2zM429.8 1045.4h5.2v5.3h-5.2zM444.9 1045.4h10.2v5.3h-10.2zM470.1 1045.4h15.3v5.3h-15.3zM359.1 1050.5h10.2v5.3h-10.2zM434.8 1050.5h5.2v5.3h-5.2zM444.9 1050.5h20.3v5.3h-20.3zM475.2 1050.5h5.2v5.3h-5.2zM455 1055.7h5.2v5.3h-5.2zM465.1 1055.7h10.2v5.3h-10.2zM444.9 1081.4h5.2v5.3h-5.2zM460.1 1081.4h5.2v5.3h-5.2zM449.9 1086.6h5.2v5.3h-5.2zM455 1096.9h5.2v5.3h-5.2z"/>
<path fill="#FBE5D6" d="M475.2 782.8h5.2v5.3h-5.2zM495.4 782.8h5.2v5.3h-5.2zM404.5 803.4h5.2v5.3h-5.2zM288.4 808.6h5.2v5.3h-5.2zM354 813.7h5.2v5.3h-5.2zM268.1 818.9h5.2v5.3h-5.2zM328.8 818.9h5.2v5.3h-5.2zM359.1 824h5.2v5.3h-5.2zM520.6 824h5.2v5.3h-5.2zM278.2 829.2h5.2v5.3h-5.2zM328.8 829.2h5.2v5.3h-5.2zM268.1 834.3h5.2v5.3h-5.2zM409.6 834.3h5.2v5.3h-5.2zM404.5 854.9h5.2v5.3h-5.2zM399.4 865.2h5.2v5.3h-5.2zM515.6 870.4h5.2v5.3h-5.2zM424.7 875.5h5.2v5.3h-5.2zM480.2 885.8h5.2v5.3h-5.2zM444.9 906.4h5.2v5.3h-5.2zM444.9 916.7h5.2v5.3h-5.2zM470.1 952.7h5.2v5.3h-5.2zM490.3 957.9h5.2v5.3h-5.2zM500.4 957.9h5.2v5.3h-5.2zM495.4 963h5.2v5.3h-5.2zM399.4 968.2h10.2v5.3h-10.2zM424.7 968.2h5.2v5.3h-5.2zM404.5 973.3h5.2v5.3h-5.2zM444.9 973.3h5.2v5.3h-5.2zM434.8 978.5h5.2v5.3h-5.2zM465.1 978.5h5.2v5.3h-5.2zM394.4 983.6h5.2v5.3h-5.2zM424.7 988.8h10.2v5.3h-10.2zM444.9 988.8h10.2v5.3h-10.2zM515.6 988.8h5.2v5.3h-5.2zM535.8 988.8h5.2v5.3h-5.2zM404.5 993.9h10.2v5.3h-10.2zM404.5 999.1h5.2v5.3h-5.2zM444.9 999.1h5.2v5.3h-5.2zM475.2 999.1h5.2v5.3h-5.2zM551 999.1h5.2v5.3h-5.2zM404.5 1004.2h5.2v5.3h-5.2zM485.3 1004.2h5.2v5.3h-5.2zM394.4 1009.4h5.2v5.3h-5.2zM424.7 1035.1h5.2v5.3h-5.2zM465.1 1050.5h5.2v5.3h-5.2z"/>
<path fill="#C5E0B4" d="M591.4 669.6h5.2v5.3h-5.2zM591.4 674.7h10.2v5.3h-10.2zM606.5 674.7h5.2v5.3h-5.2zM581.2 679.9h5.2v5.3h-5.2zM591.4 679.9h10.2v5.3h-10.2zM606.5 679.9h10.2v5.3h-10.2zM576.2 685h30.4v5.3h-30.4zM611.5 685h5.2v5.3h-5.2zM586.3 690.2h10.2v5.3h-10.2zM571.1 710.8h5.2v5.3h-5.2zM581.2 710.8h5.2v5.3h-5.2zM576.2 715.9h10.2v5.3h-10.2zM566.1 721.1h5.2v5.3h-5.2zM581.2 721.1h5.2v5.3h-5.2zM576.2 726.2h10.2v5.3h-10.2zM571.1 731.4h10.2v5.3h-10.2zM571.1 736.5h10.2v5.3h-10.2zM616.6 793.1h5.2v5.3h-5.2zM414.6 818.9h5.2v5.3h-5.2zM470.1 834.3h5.2v5.3h-5.2zM561 854.9h5.2v5.3h-5.2zM566.1 860.1h10.2v5.3h-10.2zM551 865.2h5.2v5.3h-5.2zM288.4 942.4h5.2v5.3h-5.2zM369.1 947.6h5.2v5.3h-5.2zM273.2 957.9h5.2v5.3h-5.2zM308.5 957.9h5.2v5.3h-5.2zM323.7 957.9h5.2v5.3h-5.2zM273.2 968.2h5.2v5.3h-5.2zM328.8 968.2h5.2v5.3h-5.2zM338.8 968.2h5.2v5.3h-5.2zM273.2 973.3h5.2v5.3h-5.2zM293.4 973.3h5.2v5.3h-5.2zM288.4 978.5h10.2v5.3h-10.2zM374.2 978.5h5.2v5.3h-5.2zM384.3 978.5h5.2v5.3h-5.2zM293.4 983.6h5.2v5.3h-5.2zM359.1 983.6h5.2v5.3h-5.2zM379.2 983.6h5.2v5.3h-5.2zM394.4 993.9h5.2v5.3h-5.2zM384.3 1004.2h5.2v5.3h-5.2zM419.6 1004.2h5.2v5.3h-5.2zM374.2 1009.4h5.2v5.3h-5.2zM384.3 1009.4h5.2v5.3h-5.2zM384.3 1014.5h5.2v5.3h-5.2zM404.5 1014.5h5.2v5.3h-5.2zM379.2 1019.6h5.2v5.3h-5.2zM364.1 1024.8h5.2v5.3h-5.2zM364.1 1029.9h5.2v5.3h-5.2zM348.9 1035.1h5.2v5.3h-5.2zM359.1 1035.1h15.3v5.3h-15.3zM394.4 1035.1h5.2v5.3h-5.2zM399.4 1040.2h5.2v5.3h-5.2z"/>
<path fill="#70AD47" d="M611.5 649h5.2v5.3h-5.2zM581.2 654.1h5.2v5.3h-5.2zM581.2 664.4h5.2v5.3h-5.2zM566.1 674.7h5.2v5.3h-5.2zM616.6 674.7h5.2v5.3h-5.2zM621.6 685h5.2v5.3h-5.2zM545.9 690.2h5.2v5.3h-5.2zM556 690.2h5.2v5.3h-5.2zM581.2 690.2h5.2v5.3h-5.2zM596.4 690.2h15.3v5.3h-15.3zM530.8 695.3h20.3v5.3h-20.3zM586.3 695.3h20.3v5.3h-20.3zM626.7 695.3h5.2v5.3h-5.2zM525.7 700.5h5.2v5.3h-5.2zM591.4 700.5h35.5v5.3h-35.5zM631.8 700.5h5.2v5.3h-5.2zM646.9 700.5h10.2v5.3h-10.2zM591.4 705.6h50.6v5.3h-50.6zM646.9 705.6h5.2v5.3h-5.2zM591.4 710.8h65.8v5.3h-65.8zM586.3 715.9h15.3v5.3h-15.3zM606.5 715.9h20.3v5.3h-20.3zM631.8 715.9h5.2v5.3h-5.2zM641.9 715.9h15.3v5.3h-15.3zM662 715.9h10.2v5.3h-10.2zM687.3 715.9h10.2v5.3h-10.2zM702.4 715.9h10.2v5.3h-10.2zM576.2 721.1h5.2v5.3h-5.2zM586.3 721.1h40.5v5.3h-40.5zM631.8 721.1h20.3v5.3h-20.3zM667.1 721.1h15.3v5.3h-15.3zM687.3 721.1h5.2v5.3h-5.2zM237.8 726.2h5.2v5.3h-5.2zM586.3 726.2h50.6v5.3h-50.6zM641.9 726.2h5.2v5.3h-5.2zM651.9 726.2h5.2v5.3h-5.2zM662 726.2h10.2v5.3h-10.2zM227.8 731.4h5.2v5.3h-5.2zM551 731.4h5.2v5.3h-5.2zM581.2 731.4h70.9v5.3h-70.9zM657 731.4h15.3v5.3h-15.3zM677.2 731.4h5.2v5.3h-5.2zM687.3 731.4h15.3v5.3h-15.3zM192.4 736.5h5.2v5.3h-5.2zM237.8 736.5h5.2v5.3h-5.2zM556 736.5h10.2v5.3h-10.2zM581.2 736.5h5.2v5.3h-5.2zM591.4 736.5h45.6v5.3h-45.6zM641.9 736.5h5.2v5.3h-5.2zM651.9 736.5h5.2v5.3h-5.2zM662 736.5h15.3v5.3h-15.3zM682.2 736.5h20.3v5.3h-20.3zM182.3 741.7h5.2v5.3h-5.2zM192.4 741.7h5.2v5.3h-5.2zM202.5 741.7h5.2v5.3h-5.2zM540.8 741.7h5.2v5.3h-5.2zM556 741.7h5.2v5.3h-5.2zM586.3 741.7h65.8v5.3h-65.8zM667.1 741.7h5.2v5.3h-5.2zM677.2 741.7h5.2v5.3h-5.2zM687.3 741.7h10.2v5.3h-10.2zM535.8 746.8h5.2v5.3h-5.2zM551 746.8h5.2v5.3h-5.2zM561 746.8h10.2v5.3h-10.2zM576.2 746.8h5.2v5.3h-5.2zM591.4 746.8h35.5v5.3h-35.5zM631.8 746.8h15.3v5.3h-15.3zM651.9 746.8h5.2v5.3h-5.2zM677.2 746.8h10.2v5.3h-10.2zM545.9 752h5.2v5.3h-5.2zM591.4 752h86v5.3h-86zM692.4 752h5.2v5.3h-5.2zM162.1 757.1h5.2v5.3h-5.2zM571.1 757.1h5.2v5.3h-5.2zM586.3 757.1h5.2v5.3h-5.2zM596.4 757.1h5.2v5.3h-5.2zM606.5 757.1h10.2v5.3h-10.2zM621.6 757.1h25.4v5.3h-25.4zM657 757.1h15.3v5.3h-15.3zM571.1 762.2h5.2v5.3h-5.2zM591.4 762.2h5.2v5.3h-5.2zM611.5 762.2h55.7v5.3h-55.7zM187.3 767.4h10.2v5.3h-10.2zM535.8 767.4h5.2v5.3h-5.2zM601.4 767.4h5.2v5.3h-5.2zM611.5 767.4h10.2v5.3h-10.2zM626.7 767.4h10.2v5.3h-10.2zM646.9 767.4h25.4v5.3h-25.4zM540.8 772.5h5.2v5.3h-5.2zM561 772.5h5.2v5.3h-5.2zM571.1 772.5h10.2v5.3h-10.2zM586.3 772.5h5.2v5.3h-5.2zM601.4 772.5h5.2v5.3h-5.2zM611.5 772.5h5.2v5.3h-5.2zM631.8 772.5h15.3v5.3h-15.3zM651.9 772.5h5.2v5.3h-5.2zM182.3 777.7h5.2v5.3h-5.2zM535.8 777.7h5.2v5.3h-5.2zM586.3 777.7h5.2v5.3h-5.2zM596.4 777.7h5.2v5.3h-5.2zM631.8 777.7h5.2v5.3h-5.2zM591.4 782.8h5.2v5.3h-5.2zM636.8 782.8h5.2v5.3h-5.2zM601.4 788h5.2v5.3h-5.2zM621.6 788h10.2v5.3h-10.2zM576.2 793.1h5.2v5.3h-5.2zM591.4 793.1h5.2v5.3h-5.2zM611.5 793.1h5.2v5.3h-5.2zM621.6 793.1h10.2v5.3h-10.2zM641.9 793.1h5.2v5.3h-5.2zM591.4 798.3h5.2v5.3h-5.2zM621.6 798.3h5.2v5.3h-5.2zM485.3 803.4h5.2v5.3h-5.2zM616.6 803.4h10.2v5.3h-10.2zM490.3 808.6h5.2v5.3h-5.2zM500.4 808.6h5.2v5.3h-5.2zM465.1 813.7h5.2v5.3h-5.2zM475.2 813.7h10.2v5.3h-10.2zM525.7 818.9h5.2v5.3h-5.2zM515.6 824h5.2v5.3h-5.2zM465.1 839.5h5.2v5.3h-5.2zM470.1 849.8h10.2v5.3h-10.2zM475.2 860.1h5.2v5.3h-5.2zM354 901.2h5.2v5.3h-5.2zM429.8 901.2h5.2v5.3h-5.2zM359.1 921.8h5.2v5.3h-5.2zM404.5 927h5.2v5.3h-5.2zM354 932.1h5.2v5.3h-5.2zM323.7 942.4h5.2v5.3h-5.2zM389.3 942.4h10.2v5.3h-10.2zM318.6 947.6h5.2v5.3h-5.2zM343.9 947.6h5.2v5.3h-5.2zM354 947.6h5.2v5.3h-5.2zM374.2 947.6h5.2v5.3h-5.2zM389.3 947.6h5.2v5.3h-5.2zM429.8 947.6h5.2v5.3h-5.2zM278.2 952.7h5.2v5.3h-5.2zM343.9 952.7h45.6v5.3h-45.6zM394.4 952.7h5.2v5.3h-5.2zM278.2 957.9h5.2v5.3h-5.2zM338.8 957.9h5.2v5.3h-5.2zM348.9 957.9h25.4v5.3h-25.4zM389.3 957.9h15.3v5.3h-15.3zM414.6 957.9h5.2v5.3h-5.2zM333.8 963h10.2v5.3h-10.2zM354 963h40.5v5.3h-40.5zM354 968.2h10.2v5.3h-10.2zM369.1 968.2h10.2v5.3h-10.2zM313.6 973.3h5.2v5.3h-5.2zM359.1 973.3h15.3v5.3h-15.3zM379.2 973.3h5.2v5.3h-5.2zM389.3 973.3h5.2v5.3h-5.2zM369.1 978.5h5.2v5.3h-5.2zM394.4 978.5h5.2v5.3h-5.2zM343.9 983.6h5.2v5.3h-5.2zM364.1 983.6h10.2v5.3h-10.2zM389.3 983.6h5.2v5.3h-5.2zM399.4 983.6h5.2v5.3h-5.2zM348.9 988.8h10.2v5.3h-10.2zM364.1 988.8h5.2v5.3h-5.2zM374.2 988.8h5.2v5.3h-5.2zM389.3 988.8h5.2v5.3h-5.2zM348.9 993.9h5.2v5.3h-5.2zM359.1 993.9h5.2v5.3h-5.2zM374.2 993.9h5.2v5.3h-5.2zM384.3 993.9h10.2v5.3h-10.2zM354 999.1h5.2v5.3h-5.2zM364.1 999.1h5.2v5.3h-5.2zM384.3 999.1h5.2v5.3h-5.2zM399.4 999.1h5.2v5.3h-5.2zM343.9 1004.2h25.4v5.3h-25.4zM399.4 1004.2h5.2v5.3h-5.2zM338.8 1009.4h10.2v5.3h-10.2zM359.1 1009.4h5.2v5.3h-5.2zM343.9 1014.5h5.2v5.3h-5.2zM364.1 1014.5h5.2v5.3h-5.2zM343.9 1019.6h10.2v5.3h-10.2zM359.1 1019.6h5.2v5.3h-5.2zM389.3 1019.6h5.2v5.3h-5.2zM379.2 1029.9h5.2v5.3h-5.2zM404.5 1029.9h5.2v5.3h-5.2zM354 1035.1h5.2v5.3h-5.2zM384.3 1035.1h5.2v5.3h-5.2zM399.4 1035.1h10.2v5.3h-10.2zM359.1 1040.2h10.2v5.3h-10.2zM379.2 1040.2h5.2v5.3h-5.2zM369.1 1045.4h5.2v5.3h-5.2zM369.1 1050.5h5.2v5.3h-5.2z"/>
<path fill="#548235" d="M490.3 870.4h5.2v5.3h-5.2zM545.9 870.4h5.2v5.3h-5.2zM505.5 875.5h5.2v5.3h-5.2zM480.2 880.7h5.2v5.3h-5.2zM510.6 880.7h5.2v5.3h-5.2zM510.6 885.8h5.2v5.3h-5.2zM485.3 890.9h5.2v5.3h-5.2zM495.4 890.9h10.2v5.3h-10.2zM535.8 890.9h5.2v5.3h-5.2zM490.3 896.1h10.2v5.3h-10.2zM556 896.1h5.2v5.3h-5.2zM500.4 901.2h5.2v5.3h-5.2zM556 901.2h5.2v5.3h-5.2zM470.1 906.4h5.2v5.3h-5.2zM485.3 906.4h20.3v5.3h-20.3zM556 906.4h10.2v5.3h-10.2zM480.2 911.5h25.4v5.3h-25.4zM551 911.5h20.3v5.3h-20.3zM490.3 916.7h15.3v5.3h-15.3zM515.6 916.7h5.2v5.3h-5.2zM551 916.7h15.3v5.3h-15.3zM556 921.8h15.3v5.3h-15.3zM551 927h5.2v5.3h-5.2zM338.8 947.6h5.2v5.3h-5.2zM348.9 947.6h5.2v5.3h-5.2zM364.1 947.6h5.2v5.3h-5.2zM404.5 947.6h5.2v5.3h-5.2zM333.8 952.7h5.2v5.3h-5.2zM389.3 952.7h5.2v5.3h-5.2zM404.5 952.7h5.2v5.3h-5.2zM328.8 957.9h10.2v5.3h-10.2zM343.9 957.9h5.2v5.3h-5.2zM384.3 957.9h5.2v5.3h-5.2zM419.6 957.9h5.2v5.3h-5.2zM343.9 963h5.2v5.3h-5.2zM343.9 968.2h5.2v5.3h-5.2zM364.1 968.2h5.2v5.3h-5.2zM379.2 968.2h10.2v5.3h-10.2zM343.9 973.3h15.3v5.3h-15.3zM399.4 973.3h5.2v5.3h-5.2zM343.9 978.5h5.2v5.3h-5.2zM354 978.5h15.3v5.3h-15.3zM384.3 983.6h5.2v5.3h-5.2zM394.4 988.8h5.2v5.3h-5.2zM354 993.9h5.2v5.3h-5.2zM348.9 999.1h5.2v5.3h-5.2zM374.2 999.1h10.2v5.3h-10.2zM374.2 1004.2h10.2v5.3h-10.2zM389.3 1009.4h5.2v5.3h-5.2zM404.5 1009.4h10.2v5.3h-10.2zM338.8 1014.5h5.2v5.3h-5.2zM359.1 1014.5h5.2v5.3h-5.2zM374.2 1014.5h5.2v5.3h-5.2zM399.4 1014.5h5.2v5.3h-5.2zM419.6 1014.5h5.2v5.3h-5.2zM338.8 1019.6h5.2v5.3h-5.2zM354 1019.6h5.2v5.3h-5.2zM364.1 1019.6h5.2v5.3h-5.2zM374.2 1019.6h5.2v5.3h-5.2zM354 1024.8h5.2v5.3h-5.2zM369.1 1024.8h5.2v5.3h-5.2zM379.2 1024.8h10.2v5.3h-10.2zM404.5 1024.8h5.2v5.3h-5.2zM343.9 1029.9h5.2v5.3h-5.2zM354 1029.9h10.2v5.3h-10.2zM384.3 1029.9h10.2v5.3h-10.2zM389.3 1035.1h5.2v5.3h-5.2zM354 1040.2h5.2v5.3h-5.2zM369.1 1040.2h10.2v5.3h-10.2zM394.4 1040.2h5.2v5.3h-5.2zM359.1 1045.4h10.2v5.3h-10.2z"/>
<path fill="#4472C4" d="M581.2 649h5.2v5.3h-5.2zM596.4 664.4h5.2v5.3h-5.2zM520.6 700.5h5.2v5.3h-5.2zM520.6 705.6h5.2v5.3h-5.2zM535.8 705.6h5.2v5.3h-5.2zM561 715.9h10.2v5.3h-10.2zM571.1 726.2h5.2v5.3h-5.2zM581.2 752h5.2v5.3h-5.2zM545.9 762.2h5.2v5.3h-5.2zM535.8 772.5h5.2v5.3h-5.2zM556 777.7h5.2v5.3h-5.2zM566.1 793.1h5.2v5.3h-5.2zM566.1 808.6h5.2v5.3h-5.2zM510.6 834.3h10.2v5.3h-10.2zM111.6 839.5h5.2v5.3h-5.2zM515.6 839.5h15.3v5.3h-15.3zM495.4 844.6h5.2v5.3h-5.2zM505.5 844.6h10.2v5.3h-10.2zM520.6 844.6h15.3v5.3h-15.3zM520.6 849.8h20.3v5.3h-20.3zM495.4 854.9h5.2v5.3h-5.2zM510.6 854.9h30.4v5.3h-30.4zM515.6 860.1h20.3v5.3h-20.3zM515.6 865.2h10.2v5.3h-10.2zM480.2 870.4h5.2v5.3h-5.2zM525.7 870.4h5.2v5.3h-5.2zM485.3 875.5h5.2v5.3h-5.2zM510.6 875.5h5.2v5.3h-5.2zM520.6 875.5h5.2v5.3h-5.2zM455 880.7h5.2v5.3h-5.2zM490.3 880.7h20.3v5.3h-20.3zM515.6 880.7h15.3v5.3h-15.3zM535.8 880.7h5.2v5.3h-5.2zM551 880.7h5.2v5.3h-5.2zM434.8 885.8h15.3v5.3h-15.3zM485.3 885.8h25.4v5.3h-25.4zM515.6 885.8h15.3v5.3h-15.3zM535.8 885.8h5.2v5.3h-5.2zM551 885.8h10.2v5.3h-10.2zM434.8 890.9h5.2v5.3h-5.2zM444.9 890.9h10.2v5.3h-10.2zM490.3 890.9h5.2v5.3h-5.2zM510.6 890.9h20.3v5.3h-20.3zM545.9 890.9h5.2v5.3h-5.2zM556 890.9h5.2v5.3h-5.2zM434.8 896.1h5.2v5.3h-5.2zM444.9 896.1h10.2v5.3h-10.2zM460.1 896.1h5.2v5.3h-5.2zM485.3 896.1h5.2v5.3h-5.2zM500.4 896.1h45.6v5.3h-45.6zM485.3 901.2h10.2v5.3h-10.2zM505.5 901.2h10.2v5.3h-10.2zM520.6 901.2h15.3v5.3h-15.3zM540.8 901.2h10.2v5.3h-10.2zM525.7 906.4h5.2v5.3h-5.2zM535.8 906.4h10.2v5.3h-10.2zM520.6 911.5h5.2v5.3h-5.2zM535.8 911.5h15.3v5.3h-15.3zM535.8 916.7h5.2v5.3h-5.2zM303.5 952.7h5.2v5.3h-5.2zM328.8 952.7h5.2v5.3h-5.2zM283.3 973.3h5.2v5.3h-5.2z"/>
<path fill="#9DC3E6" d="M222.7 762.2h5.2v5.3h-5.2zM197.4 767.4h25.4v5.3h-25.4zM227.8 767.4h5.2v5.3h-5.2zM172.2 772.5h5.2v5.3h-5.2zM187.3 772.5h50.6v5.3h-50.6zM177.2 777.7h5.2v5.3h-5.2zM187.3 777.7h30.4v5.3h-30.4zM222.7 777.7h5.2v5.3h-5.2zM162.1 782.8h10.2v5.3h-10.2zM177.2 782.8h15.3v5.3h-15.3zM197.4 782.8h10.2v5.3h-10.2zM222.7 782.8h5.2v5.3h-5.2zM167.1 788h15.3v5.3h-15.3zM212.6 788h5.2v5.3h-5.2z"/>
<path fill="#DAE3F3" d="M576.2 654.1h5.2v5.3h-5.2zM581.2 659.3h5.2v5.3h-5.2zM571.1 674.7h5.2v5.3h-5.2zM611.5 674.7h5.2v5.3h-5.2zM566.1 679.9h5.2v5.3h-5.2zM626.7 685h5.2v5.3h-5.2zM576.2 690.2h5.2v5.3h-5.2zM556 695.3h5.2v5.3h-5.2zM571.1 695.3h10.2v5.3h-10.2zM616.6 695.3h5.2v5.3h-5.2zM551 700.5h10.2v5.3h-10.2zM571.1 700.5h5.2v5.3h-5.2zM657 700.5h5.2v5.3h-5.2zM551 705.6h10.2v5.3h-10.2zM657 705.6h5.2v5.3h-5.2zM525.7 710.8h20.3v5.3h-20.3zM561 710.8h10.2v5.3h-10.2zM576.2 710.8h5.2v5.3h-5.2zM535.8 715.9h10.2v5.3h-10.2zM551 715.9h5.2v5.3h-5.2zM571.1 721.1h5.2v5.3h-5.2zM566.1 726.2h5.2v5.3h-5.2zM561 731.4h10.2v5.3h-10.2zM530.8 736.5h5.2v5.3h-5.2zM551 741.7h5.2v5.3h-5.2zM561 741.7h5.2v5.3h-5.2zM556 752h15.3v5.3h-15.3zM561 757.1h5.2v5.3h-5.2zM525.7 762.2h10.2v5.3h-10.2zM561 762.2h5.2v5.3h-5.2zM525.7 767.4h10.2v5.3h-10.2zM540.8 767.4h15.3v5.3h-15.3zM561 767.4h5.2v5.3h-5.2zM455 788h5.2v5.3h-5.2zM530.8 824h5.2v5.3h-5.2zM404.5 829.2h5.2v5.3h-5.2zM404.5 844.6h5.2v5.3h-5.2zM399.4 849.8h5.2v5.3h-5.2zM540.8 849.8h5.2v5.3h-5.2zM475.2 870.4h5.2v5.3h-5.2zM465.1 875.5h5.2v5.3h-5.2zM444.9 880.7h5.2v5.3h-5.2zM520.6 927h5.2v5.3h-5.2zM444.9 932.1h5.2v5.3h-5.2zM444.9 947.6h5.2v5.3h-5.2z"/>
<path fill="#EDEDED" d="M566.1 690.2h5.2v5.3h-5.2zM566.1 695.3h5.2v5.3h-5.2zM561 700.5h5.2v5.3h-5.2zM566.1 705.6h5.2v5.3h-5.2zM651.9 705.6h5.2v5.3h-5.2zM662 705.6h5.2v5.3h-5.2zM657 710.8h5.2v5.3h-5.2zM636.8 715.9h5.2v5.3h-5.2zM636.8 726.2h5.2v5.3h-5.2zM556 772.5h5.2v5.3h-5.2zM475.2 777.7h5.2v5.3h-5.2zM419.6 808.6h5.2v5.3h-5.2zM525.7 829.2h5.2v5.3h-5.2zM455 865.2h5.2v5.3h-5.2zM414.6 870.4h5.2v5.3h-5.2zM571.1 921.8h5.2v5.3h-5.2z"/>
<path fill="#C55A11" d="M561 654.1h5.2v5.3h-5.2zM591.4 659.3h5.2v5.3h-5.2zM616.6 659.3h5.2v5.3h-5.2zM616.6 664.4h10.2v5.3h-10.2zM616.6 669.6h5.2v5.3h-5.2zM561 674.7h5.2v5.3h-5.2zM621.6 674.7h10.2v5.3h-10.2zM540.8 700.5h10.2v5.3h-10.2zM222.7 705.6h5.2v5.3h-5.2zM232.8 705.6h5.2v5.3h-5.2zM227.8 710.8h5.2v5.3h-5.2zM227.8 715.9h5.2v5.3h-5.2zM242.9 715.9h5.2v5.3h-5.2zM227.8 721.1h5.2v5.3h-5.2zM187.3 731.4h10.2v5.3h-10.2zM187.3 736.5h5.2v5.3h-5.2zM197.4 736.5h5.2v5.3h-5.2zM207.5 746.8h5.2v5.3h-5.2zM222.7 746.8h5.2v5.3h-5.2zM167.1 752h10.2v5.3h-10.2zM167.1 757.1h15.3v5.3h-15.3zM202.5 757.1h5.2v5.3h-5.2zM217.7 757.1h5.2v5.3h-5.2zM232.8 757.1h5.2v5.3h-5.2zM591.4 757.1h5.2v5.3h-5.2zM157.1 762.2h5.2v5.3h-5.2zM182.3 762.2h5.2v5.3h-5.2zM212.6 762.2h5.2v5.3h-5.2zM172.2 767.4h10.2v5.3h-10.2zM222.7 767.4h5.2v5.3h-5.2zM258 767.4h5.2v5.3h-5.2zM606.5 767.4h5.2v5.3h-5.2zM636.8 767.4h5.2v5.3h-5.2zM177.2 772.5h10.2v5.3h-10.2zM247.9 772.5h5.2v5.3h-5.2zM283.3 772.5h5.2v5.3h-5.2zM621.6 772.5h10.2v5.3h-10.2zM646.9 772.5h5.2v5.3h-5.2zM167.1 777.7h5.2v5.3h-5.2zM601.4 777.7h5.2v5.3h-5.2zM626.7 777.7h5.2v5.3h-5.2zM636.8 777.7h5.2v5.3h-5.2zM646.9 777.7h5.2v5.3h-5.2zM581.2 782.8h10.2v5.3h-10.2zM601.4 782.8h5.2v5.3h-5.2zM616.6 782.8h10.2v5.3h-10.2zM581.2 788h5.2v5.3h-5.2zM591.4 788h5.2v5.3h-5.2zM636.8 788h5.2v5.3h-5.2zM581.2 793.1h10.2v5.3h-10.2zM455 798.3h10.2v5.3h-10.2zM515.6 798.3h5.2v5.3h-5.2zM586.3 798.3h5.2v5.3h-5.2zM611.5 798.3h5.2v5.3h-5.2zM434.8 803.4h5.2v5.3h-5.2zM449.9 803.4h20.3v5.3h-20.3zM505.5 803.4h5.2v5.3h-5.2zM525.7 803.4h5.2v5.3h-5.2zM581.2 803.4h5.2v5.3h-5.2zM591.4 803.4h5.2v5.3h-5.2zM601.4 803.4h5.2v5.3h-5.2zM449.9 808.6h25.4v5.3h-25.4zM495.4 808.6h5.2v5.3h-5.2zM505.5 808.6h5.2v5.3h-5.2zM525.7 808.6h5.2v5.3h-5.2zM581.2 808.6h20.3v5.3h-20.3zM126.8 813.7h5.2v5.3h-5.2zM449.9 813.7h5.2v5.3h-5.2zM460.1 813.7h5.2v5.3h-5.2zM470.1 813.7h5.2v5.3h-5.2zM485.3 813.7h5.2v5.3h-5.2zM510.6 813.7h5.2v5.3h-5.2zM525.7 813.7h10.2v5.3h-10.2zM581.2 813.7h5.2v5.3h-5.2zM591.4 813.7h10.2v5.3h-10.2zM101.5 818.9h5.2v5.3h-5.2zM439.8 818.9h5.2v5.3h-5.2zM465.1 818.9h20.3v5.3h-20.3zM495.4 818.9h5.2v5.3h-5.2zM515.6 818.9h10.2v5.3h-10.2zM596.4 818.9h5.2v5.3h-5.2zM91.4 824h15.3v5.3h-15.3zM495.4 824h5.2v5.3h-5.2zM525.7 824h5.2v5.3h-5.2zM535.8 824h5.2v5.3h-5.2zM91.4 829.2h10.2v5.3h-10.2zM364.1 829.2h5.2v5.3h-5.2zM475.2 829.2h5.2v5.3h-5.2zM485.3 829.2h5.2v5.3h-5.2zM106.5 834.3h5.2v5.3h-5.2zM475.2 834.3h5.2v5.3h-5.2zM525.7 834.3h5.2v5.3h-5.2zM101.5 839.5h5.2v5.3h-5.2zM364.1 839.5h5.2v5.3h-5.2zM480.2 839.5h10.2v5.3h-10.2zM495.4 839.5h5.2v5.3h-5.2zM369.1 844.6h5.2v5.3h-5.2zM409.6 844.6h5.2v5.3h-5.2zM389.3 849.8h5.2v5.3h-5.2zM409.6 849.8h5.2v5.3h-5.2zM495.4 849.8h10.2v5.3h-10.2zM374.2 854.9h5.2v5.3h-5.2zM384.3 854.9h5.2v5.3h-5.2zM475.2 854.9h5.2v5.3h-5.2zM500.4 854.9h5.2v5.3h-5.2zM581.2 854.9h5.2v5.3h-5.2zM146.9 860.1h5.2v5.3h-5.2zM374.2 860.1h15.3v5.3h-15.3zM404.5 860.1h20.3v5.3h-20.3zM510.6 860.1h5.2v5.3h-5.2zM374.2 865.2h5.2v5.3h-5.2zM384.3 865.2h5.2v5.3h-5.2zM409.6 865.2h5.2v5.3h-5.2zM510.6 865.2h5.2v5.3h-5.2zM374.2 870.4h5.2v5.3h-5.2zM424.7 880.7h5.2v5.3h-5.2zM439.8 880.7h5.2v5.3h-5.2zM465.1 880.7h5.2v5.3h-5.2zM449.9 885.8h10.2v5.3h-10.2zM424.7 890.9h5.2v5.3h-5.2zM439.8 890.9h5.2v5.3h-5.2zM455 890.9h5.2v5.3h-5.2zM515.6 906.4h5.2v5.3h-5.2zM530.8 906.4h5.2v5.3h-5.2zM515.6 911.5h5.2v5.3h-5.2zM530.8 911.5h5.2v5.3h-5.2zM520.6 916.7h15.3v5.3h-15.3zM515.6 921.8h5.2v5.3h-5.2zM530.8 921.8h5.2v5.3h-5.2zM455 927h5.2v5.3h-5.2zM460.1 932.1h5.2v5.3h-5.2zM460.1 937.3h5.2v5.3h-5.2zM455 952.7h5.2v5.3h-5.2zM505.5 952.7h5.2v5.3h-5.2zM525.7 952.7h5.2v5.3h-5.2zM500.4 973.3h5.2v5.3h-5.2zM520.6 973.3h15.3v5.3h-15.3zM455 978.5h5.2v5.3h-5.2zM525.7 978.5h5.2v5.3h-5.2zM500.4 983.6h5.2v5.3h-5.2zM525.7 988.8h5.2v5.3h-5.2zM465.1 993.9h5.2v5.3h-5.2zM500.4 999.1h5.2v5.3h-5.2zM540.8 999.1h5.2v5.3h-5.2zM449.9 1009.4h5.2v5.3h-5.2zM510.6 1009.4h5.2v5.3h-5.2zM449.9 1024.8h5.2v5.3h-5.2zM480.2 1024.8h5.2v5.3h-5.2zM515.6 1024.8h5.2v5.3h-5.2zM449.9 1029.9h5.2v5.3h-5.2zM490.3 1035.1h5.2v5.3h-5.2zM429.8 1040.2h5.2v5.3h-5.2zM465.1 1040.2h5.2v5.3h-5.2zM455 1045.4h5.2v5.3h-5.2z"/>
<path fill="#ED7D31" d="M586.3 654.1h5.2v5.3h-5.2zM576.2 664.4h5.2v5.3h-5.2zM611.5 664.4h5.2v5.3h-5.2zM571.1 679.9h5.2v5.3h-5.2zM616.6 679.9h5.2v5.3h-5.2zM571.1 685h5.2v5.3h-5.2zM606.5 685h5.2v5.3h-5.2zM561 690.2h5.2v5.3h-5.2zM571.1 690.2h5.2v5.3h-5.2zM576.2 700.5h5.2v5.3h-5.2zM530.8 705.6h5.2v5.3h-5.2zM657 715.9h5.2v5.3h-5.2zM682.2 715.9h5.2v5.3h-5.2zM697.4 715.9h5.2v5.3h-5.2zM651.9 721.1h15.3v5.3h-15.3zM682.2 721.1h5.2v5.3h-5.2zM702.4 721.1h5.2v5.3h-5.2zM561 726.2h5.2v5.3h-5.2zM672.1 726.2h5.2v5.3h-5.2zM682.2 726.2h5.2v5.3h-5.2zM702.4 726.2h5.2v5.3h-5.2zM545.9 731.4h5.2v5.3h-5.2zM672.1 731.4h5.2v5.3h-5.2zM682.2 731.4h5.2v5.3h-5.2zM702.4 731.4h5.2v5.3h-5.2zM525.7 736.5h5.2v5.3h-5.2zM677.2 736.5h5.2v5.3h-5.2zM682.2 741.7h5.2v5.3h-5.2zM697.4 741.7h5.2v5.3h-5.2zM646.9 746.8h5.2v5.3h-5.2zM662 746.8h15.3v5.3h-15.3zM687.3 746.8h5.2v5.3h-5.2zM207.5 752h5.2v5.3h-5.2zM576.2 752h5.2v5.3h-5.2zM682.2 752h10.2v5.3h-10.2zM651.9 757.1h5.2v5.3h-5.2zM551 762.2h10.2v5.3h-10.2zM556 767.4h5.2v5.3h-5.2zM566.1 767.4h5.2v5.3h-5.2zM525.7 772.5h5.2v5.3h-5.2zM662 772.5h5.2v5.3h-5.2zM540.8 777.7h5.2v5.3h-5.2zM566.1 777.7h5.2v5.3h-5.2zM651.9 777.7h5.2v5.3h-5.2zM576.2 782.8h5.2v5.3h-5.2zM596.4 782.8h5.2v5.3h-5.2zM540.8 788h5.2v5.3h-5.2zM571.1 788h5.2v5.3h-5.2zM500.4 803.4h5.2v5.3h-5.2zM510.6 808.6h5.2v5.3h-5.2zM601.4 808.6h15.3v5.3h-15.3zM500.4 813.7h10.2v5.3h-10.2zM480.2 824h15.3v5.3h-15.3zM490.3 829.2h5.2v5.3h-5.2zM495.4 834.3h5.2v5.3h-5.2zM485.3 849.8h5.2v5.3h-5.2zM485.3 854.9h5.2v5.3h-5.2zM475.2 916.7h5.2v5.3h-5.2zM525.7 921.8h5.2v5.3h-5.2zM505.5 927h5.2v5.3h-5.2zM530.8 927h5.2v5.3h-5.2zM500.4 932.1h5.2v5.3h-5.2zM525.7 932.1h5.2v5.3h-5.2zM561 932.1h5.2v5.3h-5.2zM571.1 932.1h5.2v5.3h-5.2zM465.1 937.3h5.2v5.3h-5.2zM556 937.3h5.2v5.3h-5.2zM470.1 942.4h5.2v5.3h-5.2zM525.7 942.4h5.2v5.3h-5.2zM566.1 947.6h10.2v5.3h-10.2zM449.9 952.7h5.2v5.3h-5.2zM460.1 952.7h5.2v5.3h-5.2zM480.2 952.7h5.2v5.3h-5.2zM495.4 952.7h10.2v5.3h-10.2zM551 952.7h5.2v5.3h-5.2zM566.1 952.7h10.2v5.3h-10.2zM465.1 957.9h5.2v5.3h-5.2zM475.2 957.9h5.2v5.3h-5.2zM485.3 957.9h5.2v5.3h-5.2zM495.4 957.9h5.2v5.3h-5.2zM505.5 957.9h10.2v5.3h-10.2zM520.6 957.9h5.2v5.3h-5.2zM530.8 957.9h5.2v5.3h-5.2zM419.6 963h5.2v5.3h-5.2zM470.1 963h5.2v5.3h-5.2zM500.4 963h5.2v5.3h-5.2zM510.6 963h5.2v5.3h-5.2zM525.7 963h15.3v5.3h-15.3zM551 963h5.2v5.3h-5.2zM566.1 963h5.2v5.3h-5.2zM455 968.2h5.2v5.3h-5.2zM465.1 968.2h10.2v5.3h-10.2zM495.4 968.2h15.3v5.3h-15.3zM520.6 968.2h15.3v5.3h-15.3zM540.8 968.2h5.2v5.3h-5.2zM566.1 968.2h5.2v5.3h-5.2zM429.8 973.3h5.2v5.3h-5.2zM460.1 973.3h5.2v5.3h-5.2zM485.3 973.3h5.2v5.3h-5.2zM556 973.3h5.2v5.3h-5.2zM566.1 973.3h5.2v5.3h-5.2zM480.2 978.5h5.2v5.3h-5.2zM500.4 978.5h10.2v5.3h-10.2zM530.8 978.5h5.2v5.3h-5.2zM540.8 978.5h10.2v5.3h-10.2zM561 978.5h5.2v5.3h-5.2zM449.9 983.6h5.2v5.3h-5.2zM465.1 983.6h5.2v5.3h-5.2zM480.2 983.6h5.2v5.3h-5.2zM515.6 983.6h15.3v5.3h-15.3zM535.8 983.6h5.2v5.3h-5.2zM545.9 983.6h5.2v5.3h-5.2zM556 983.6h5.2v5.3h-5.2zM455 988.8h10.2v5.3h-10.2zM480.2 988.8h10.2v5.3h-10.2zM520.6 988.8h5.2v5.3h-5.2zM530.8 988.8h5.2v5.3h-5.2zM545.9 988.8h5.2v5.3h-5.2zM449.9 993.9h10.2v5.3h-10.2zM510.6 993.9h5.2v5.3h-5.2zM520.6 993.9h10.2v5.3h-10.2zM551 993.9h5.2v5.3h-5.2zM409.6 999.1h5.2v5.3h-5.2zM449.9 999.1h5.2v5.3h-5.2zM460.1 999.1h5.2v5.3h-5.2zM470.1 999.1h5.2v5.3h-5.2zM520.6 999.1h5.2v5.3h-5.2zM535.8 999.1h5.2v5.3h-5.2zM545.9 999.1h5.2v5.3h-5.2zM439.8 1004.2h5.2v5.3h-5.2zM470.1 1004.2h5.2v5.3h-5.2zM500.4 1004.2h5.2v5.3h-5.2zM510.6 1004.2h5.2v5.3h-5.2zM535.8 1004.2h20.3v5.3h-20.3zM439.8 1009.4h5.2v5.3h-5.2zM465.1 1009.4h10.2v5.3h-10.2zM480.2 1009.4h10.2v5.3h-10.2zM515.6 1009.4h10.2v5.3h-10.2zM530.8 1009.4h20.3v5.3h-20.3zM429.8 1014.5h5.2v5.3h-5.2zM480.2 1014.5h20.3v5.3h-20.3zM510.6 1014.5h10.2v5.3h-10.2zM535.8 1014.5h5.2v5.3h-5.2zM470.1 1019.6h5.2v5.3h-5.2zM480.2 1019.6h5.2v5.3h-5.2zM490.3 1019.6h10.2v5.3h-10.2zM505.5 1019.6h25.4v5.3h-25.4zM535.8 1019.6h5.2v5.3h-5.2zM566.1 1019.6h5.2v5.3h-5.2zM475.2 1024.8h5.2v5.3h-5.2zM485.3 1024.8h5.2v5.3h-5.2zM505.5 1024.8h5.2v5.3h-5.2zM566.1 1024.8h5.2v5.3h-5.2zM475.2 1029.9h5.2v5.3h-5.2zM485.3 1029.9h5.2v5.3h-5.2zM495.4 1029.9h5.2v5.3h-5.2zM515.6 1029.9h10.2v5.3h-10.2zM434.8 1035.1h10.2v5.3h-10.2zM485.3 1035.1h5.2v5.3h-5.2zM510.6 1035.1h5.2v5.3h-5.2zM566.1 1035.1h5.2v5.3h-5.2zM444.9 1040.2h10.2v5.3h-10.2zM485.3 1040.2h10.2v5.3h-10.2zM485.3 1045.4h5.2v5.3h-5.2zM566.1 1045.4h5.2v5.3h-5.2zM429.8 1050.5h5.2v5.3h-5.2zM470.1 1050.5h5.2v5.3h-5.2zM566.1 1050.5h5.2v5.3h-5.2z"/>
<path fill="#F4B183" d="M419.6 1009.4h5.2v5.3h-5.2zM449.9 1019.6h5.2v5.3h-5.2zM444.9 1024.8h5.2v5.3h-5.2zM510.6 1024.8h5.2v5.3h-5.2zM429.8 1029.9h5.2v5.3h-5.2zM429.8 1035.1h5.2v5.3h-5.2zM434.8 1040.2h5.2v5.3h-5.2z"/>
<path d="M525.7 843.1L517.6 856L514.5 871.4M499.4 868.9L514.5 871.4L513.5 881.7L523.6 889.5L535.8 890.8L553 885.6M523.6 889.5L517.6 899.8L513.5 913.9L515.6 925.5M533.7 892L543.8 902.3L545.9 915.2L553 933.2L542.8 956.4L525.7 953.8M455 952.6L470.1 956.4L490.3 955.1L501.4 959L498.4 982.1L500.4 1001.4L499.4 1014.3M542.8 956.4L543.8 973.1L532.7 986L522.6 1002.7L519.6 1016.9M543.8 973.1L555.9 980.8L564 986M473.1 1013L480.2 1020.7L499.4 1014.3L512.5 1019.4L524.6 1018.2L531.7 1027.2M473.1 1013L473.1 1027.2L475.2 1042.6L465 1056.4M404.5 1014.3L424.7 1014.3L444.9 1007.9L451.9 1001.4L465.1 1007.9L473.1 1013M584.3 782.7L599.4 778.8L612.5 794.3L619.6 801.9L609.5 814.8M584.3 750.5L604.5 753.3L619.6 754.5L634.7 758.4L655 768.5L670.1 767.2M322 785.1L319.3 789.1L318 795.7L303.3 799.7L295.3 806.4L287.3 815.7L286 831.7L260 841.1L260.7 847.7L270 857.1L267.3 867.7L252.7 870.4M286 831.7L300.7 830.4L316.7 833.1L326 842.4L330 833.1L343.3 834.4L354 838.4L360.7 843.7L370 846.4L378 835.7L399.3 829.1L400.7 835.7L392.7 843.7M330 785.7L336.7 801.1L346 813.1L359.3 810.4L360.7 814.4L355.3 822.4L366 830.4L378 833.1M388 896.4L380.7 889.1L387.3 875.7L388.7 867.7L386 859.7L380.7 849.1L378 835.7M396.7 846.4L403.3 854.4L410 867.7L415.3 875.7L423.3 878.4L427.3 870.4L430 854.4L428.7 833.1L422 830.4M423.3 881.1L423.3 894.4L419.3 907.7L415.3 913.1M447.3 846.4L446 867.7L442 878.4L440 889.4L445 904.4L455 916.4L460 933.4M422 830.4L435 826.4L450 819.4L470 809.4L498.7 801.7M334 917.4L345 932.4L348 942.4L350 964.4L357 966.4L364 974.4L370 984.4L386 984.4L392 970.4L400 966.4L408 972.4L410 980.4L400 984.4L398 994.4L404 1004.4L414 1009.4M414 946.4L420 944.4L432 946.4L444 924.4L436 960.4L425 964.4L420 974.4L414 970.4L413 956.4L414 946.4M515 926.4L512 939.4L505 949.4M617 672.1L640 699.4L660 714.4L668 707.1" fill="none" stroke="#999" stroke-width="1.1" stroke-linejoin="round"/>
<path d="M145 895.4L160 882.4L184 878.4L196 880.4L216 872.4L236 868.4L252.7 870.4L255.3 881.1L255.3 894.4L263.3 905.1L276.7 909.1L292.7 913.1L306 918.4L310 920.4L320 928.4L332 919.4L333 909.4L334 900.4L343 902.4L348 911.4L358 913.4L365 918.4L370 910.4L378 904.4L388 896.4L400 906.4L406 915.4L414 914.4L430 918.4L444 924.4L460 933.4L455 937.4L444 950.4L452 964.4L454 984.4L453 1004.4L456 1008.4M310 966.4L330 966.4L337 970.4L343 978.4L346 995.4M456 1008.4L470 1006.4L490 1008.4L510 1002.4L530 999.4L545 1004.4L554.5 1005.9M460 933.4L470 926.4L480 920.4L486.7 921.7L500 921.7L515 926.4L540 924.4L565 926.4L575 924.4M480 920.4L473.3 912.4L466.7 904.4L464 891.1L473.3 887.1L484 883.1L493.3 877.7L494.7 871.1L496 859.1L498.7 848.4L497.3 837.7L504 828.4L501.3 817.7L498.7 801.7L506.7 795.1L520 789.7L533.3 789.7L541.3 797.7L546.7 804.4L553.3 811.1L566.7 808.4L580 809.7M573 657.1L588 665.4L597 673.4L617 672.1L622 680.4L611.7 698.4L596.7 717.1L586.7 728.4L596.7 733.4L580 747.1L583 760.4L593 778.4L580 783.4L573 794.4L566.7 808.4" fill="none" stroke="#444" stroke-width="1.2" stroke-linejoin="round"/>
<path d="M226 703.8L235.6 704.7L237.5 711.4L250.8 720.8L264 730.4L266 747.4L275.4 754.9L294 760.4L311.4 768.2L322.7 785.2L330.5 785.4L348 787.2L369 788.9L383 794.2L404 799.4L425 792.4L442.5 788.9L460 781.9L470 778.1L480 771.4L474.7 764.7L478 756.7L483.3 756.1L489.3 758.7L496.7 760.1L506 752.1L520 751.4L523.3 746.1L526.7 739.4L533.3 736.7L543.3 734.7L556.7 729.4L558.7 727.4L554.7 720.7L546.7 717.4L536.7 720.7L534 723.4L530 719.4L520.7 720.7L516.7 716.7L519.3 712.7L522 706.1L524 698.4L530.7 694.2L545.8 694.2L554.5 687.7L563 676.9L567.5 666.1L562 657.4L567.5 653.1L578.3 647.7L594.6 645.4L611 648.7L621.7 655.2L625 665.4L630 678.4L637 690.4L647 697.1L657 700.4L668 707.1L673 720.4L690 717.1L715 712.9L711.7 723.4L701.7 740.4L695 755.4L673 757.1L673 783.4L660 787.1L646.7 797.1L635 800.4L623 807.1L606.7 820.4L590 828.4L573 837.1L578 826.4L583 812.4L580 809.4L571 811L561 820L553 829L540 832.7L536.7 841.1L543.3 851.1L553.3 852.7L563.3 852.7L575 850.4L586.7 856.1L580 862.7L563.3 867.7L553.3 881.1L561.7 891.1L565 901.1L570 917.7L575 924.4L578.3 934.4L577 944.4L577 956.9L572 974.4L561.5 988.4L554.5 1005.9L544 1019.9L530 1033.9L512.5 1040.9L495 1044.4L477.5 1056.7L465.6 1061.4L462.1 1065L465.6 1070.9L463.3 1076.8L458.5 1073.3L457.3 1063.8L453.8 1057.8L441.9 1057.8L432 1053.2L425 1040.9L418 1030.4L411 1037.4L402 1044.4L390 1042.4L377.8 1047.9L377.8 1063.4L372.5 1061.9L358.5 1054.9L348 1033.9L337.5 1026.9L335.7 1012.9L346 995.4L342.8 977.9L344 982.4L334 972.4L316 976.4L296 986.4L278 988.4L272 976.4L256 974.4L248 984.4L246 976.4L228 976.4L216 976.4L204 970.4L192 958.4L180 946.4L168 948.4L156 938.4L146 932.4L141 918.4L146 908.4L144 896.4L142 892.4L136 882.4L116.3 872.4L108.7 862.9L103 853.4L97.4 838.2L91.7 828.8L97.4 819.3L114.4 813.4L133.3 806L148.5 798.4L158 790.9L161.8 783.4L160 771.9L156 758.7L160 754.9L177 753L180.7 747.4L186.4 734.1L192 730.3L213 728.4L214.8 711.4Z" fill="none" stroke="#3c3c3c" stroke-width="1.4" stroke-linejoin="round"/>
<path d="M561.8 1037.7L564.2 1022.2L572.5 1012.7L577.3 1010.9L580.8 1013.9L579.6 1024.6L577.3 1037.7L571.3 1047.2L569 1054.3L565.4 1043.6ZM446 1082.9L456.5 1079.4L468.8 1079.4L470.5 1089.9L465 1102.2L453 1105.4L446 1096.9Z" fill="none" stroke="#333" stroke-width="1.2"/>
<path d="M586.8 1034.1L589.1 1021M573.7 1068.5L580.8 1057.8M555.9 1104.2L561.8 1092.3M551.7 1130.3L551.7 1142.2M453.8 1127.9L456.5 1133.4L458.5 1142.2" fill="none" stroke="#777" stroke-width="1.2"/>
<path d="M498 1135.4L501 1129.4L507 1126.9L510.8 1129.4L506 1134.4L501 1137.4Z" fill="none" stroke="#888" stroke-width="0.9"/>
<path d="M475 1116h1.5v1.5h-1.5zM480 1117.4h1.5v1.5h-1.5zM478 1123.4h1.5v1.5h-1.5zM482 1125.4h1.5v1.5h-1.5zM476 1127.4h1.5v1.5h-1.5zM486 1130.3h1.5v1.5h-1.5zM484 1121.4h1.5v1.5h-1.5zM530 1070.4h1.5v1.5h-1.5zM528 1007.4h1.5v1.5h-1.5z" fill="#888"/>
<rect x="76.2" y="628.4" width="687.2" height="514.8" fill="none" stroke="#6e6e6e" stroke-width="1.8"/>
<line x1="157" y1="1143.2" x2="157" y2="1150.2" stroke="#6e6e6e" stroke-width="1.6"/>
<line x1="157" y1="628.4" x2="157" y2="621.4" stroke="#6e6e6e" stroke-width="1.6"/>
<text x="157" y="1174.7" text-anchor="middle" font-size="18" fill="#222">80°E</text>
<line x1="258" y1="1143.2" x2="258" y2="1150.2" stroke="#6e6e6e" stroke-width="1.6"/>
<line x1="258" y1="628.4" x2="258" y2="621.4" stroke="#6e6e6e" stroke-width="1.6"/>
<text x="258" y="1174.7" text-anchor="middle" font-size="18" fill="#222">90°E</text>
<line x1="359" y1="1143.2" x2="359" y2="1150.2" stroke="#6e6e6e" stroke-width="1.6"/>
<line x1="359" y1="628.4" x2="359" y2="621.4" stroke="#6e6e6e" stroke-width="1.6"/>
<text x="359" y="1174.7" text-anchor="middle" font-size="18" fill="#222">100°E</text>
<line x1="460" y1="1143.2" x2="460" y2="1150.2" stroke="#6e6e6e" stroke-width="1.6"/>
<line x1="460" y1="628.4" x2="460" y2="621.4" stroke="#6e6e6e" stroke-width="1.6"/>
<text x="460" y="1174.7" text-anchor="middle" font-size="18" fill="#222">110°E</text>
<line x1="561" y1="1143.2" x2="561" y2="1150.2" stroke="#6e6e6e" stroke-width="1.6"/>
<line x1="561" y1="628.4" x2="561" y2="621.4" stroke="#6e6e6e" stroke-width="1.6"/>
<text x="561" y="1174.7" text-anchor="middle" font-size="18" fill="#222">120°E</text>
<line x1="662" y1="1143.2" x2="662" y2="1150.2" stroke="#6e6e6e" stroke-width="1.6"/>
<line x1="662" y1="628.4" x2="662" y2="621.4" stroke="#6e6e6e" stroke-width="1.6"/>
<text x="662" y="1174.7" text-anchor="middle" font-size="18" fill="#222">130°E</text>
<line x1="763" y1="1143.2" x2="763" y2="1150.2" stroke="#6e6e6e" stroke-width="1.6"/>
<line x1="763" y1="628.4" x2="763" y2="621.4" stroke="#6e6e6e" stroke-width="1.6"/>
<text x="763" y="1174.7" text-anchor="middle" font-size="18" fill="#222">140°E</text>
<line x1="69.2" y1="1078.7" x2="76.2" y2="1078.7" stroke="#6e6e6e" stroke-width="1.6"/>
<line x1="763.5" y1="1078.7" x2="770.5" y2="1078.7" stroke="#6e6e6e" stroke-width="1.6"/>
<text x="66" y="1085.2" text-anchor="end" font-size="18" fill="#222">20°N</text>
<line x1="69.2" y1="950" x2="76.2" y2="950" stroke="#6e6e6e" stroke-width="1.6"/>
<line x1="763.5" y1="950" x2="770.5" y2="950" stroke="#6e6e6e" stroke-width="1.6"/>
<text x="66" y="956.5" text-anchor="end" font-size="18" fill="#222">30°N</text>
<line x1="69.2" y1="821.2" x2="76.2" y2="821.2" stroke="#6e6e6e" stroke-width="1.6"/>
<line x1="763.5" y1="821.2" x2="770.5" y2="821.2" stroke="#6e6e6e" stroke-width="1.6"/>
<text x="66" y="827.8" text-anchor="end" font-size="18" fill="#222">40°N</text>
<line x1="69.2" y1="692.5" x2="76.2" y2="692.5" stroke="#6e6e6e" stroke-width="1.6"/>
<line x1="763.5" y1="692.5" x2="770.5" y2="692.5" stroke="#6e6e6e" stroke-width="1.6"/>
<text x="66" y="699" text-anchor="end" font-size="18" fill="#222">50°N</text>
<rect x="654.7" y="1005.8" width="97.4" height="126.6" fill="#fff" stroke="#777" stroke-width="1.5"/>
<path d="M654.7 1006.4L726.4 1006.4L720 1013.4L711.8 1020.4L699 1025.1L688.5 1027.4L679.2 1029.7L673.3 1028.6L661.7 1025.1L654.7 1020.4Z" fill="#FBE3D2" stroke="#777" stroke-width="0.8"/>
<path fill="#F8CBAD" d="M659.1 1006.4h2.2v2.2h-2.2zM683.3 1006.4h2.2v2.2h-2.2zM689.9 1006.4h2.2v2.2h-2.2zM696.5 1006.4h2.2v2.2h-2.2zM698.7 1006.4h2.2v2.2h-2.2zM711.9 1006.4h2.2v2.2h-2.2zM714.1 1006.4h2.2v2.2h-2.2zM716.3 1006.4h2.2v2.2h-2.2zM720.7 1006.4h2.2v2.2h-2.2zM722.9 1006.4h2.2v2.2h-2.2zM656.9 1008.6h2.2v2.2h-2.2zM661.3 1008.6h2.2v2.2h-2.2zM665.7 1008.6h2.2v2.2h-2.2zM670.1 1008.6h2.2v2.2h-2.2zM672.3 1008.6h2.2v2.2h-2.2zM678.9 1008.6h2.2v2.2h-2.2zM705.3 1008.6h2.2v2.2h-2.2zM709.7 1008.6h2.2v2.2h-2.2zM718.5 1008.6h2.2v2.2h-2.2zM654.7 1010.8h2.2v2.2h-2.2zM667.9 1010.8h2.2v2.2h-2.2zM674.5 1010.8h2.2v2.2h-2.2zM676.7 1010.8h2.2v2.2h-2.2zM687.7 1010.8h2.2v2.2h-2.2zM700.9 1010.8h2.2v2.2h-2.2zM705.3 1010.8h2.2v2.2h-2.2zM707.5 1010.8h2.2v2.2h-2.2zM672.3 1013h2.2v2.2h-2.2zM674.5 1013h2.2v2.2h-2.2zM689.9 1013h2.2v2.2h-2.2zM696.5 1013h2.2v2.2h-2.2zM698.7 1013h2.2v2.2h-2.2zM707.5 1013h2.2v2.2h-2.2zM716.3 1013h2.2v2.2h-2.2zM654.7 1015.2h2.2v2.2h-2.2zM656.9 1015.2h2.2v2.2h-2.2zM659.1 1015.2h2.2v2.2h-2.2zM661.3 1015.2h2.2v2.2h-2.2zM663.5 1015.2h2.2v2.2h-2.2zM667.9 1015.2h2.2v2.2h-2.2zM670.1 1015.2h2.2v2.2h-2.2zM674.5 1015.2h2.2v2.2h-2.2zM676.7 1015.2h2.2v2.2h-2.2zM678.9 1015.2h2.2v2.2h-2.2zM696.5 1015.2h2.2v2.2h-2.2zM703.1 1015.2h2.2v2.2h-2.2zM659.1 1017.4h2.2v2.2h-2.2zM670.1 1017.4h2.2v2.2h-2.2zM672.3 1017.4h2.2v2.2h-2.2zM694.3 1017.4h2.2v2.2h-2.2zM705.3 1017.4h2.2v2.2h-2.2zM707.5 1017.4h2.2v2.2h-2.2zM654.7 1019.6h2.2v2.2h-2.2zM656.9 1019.6h2.2v2.2h-2.2zM665.7 1019.6h2.2v2.2h-2.2zM678.9 1019.6h2.2v2.2h-2.2zM700.9 1019.6h2.2v2.2h-2.2zM703.1 1019.6h2.2v2.2h-2.2zM707.5 1019.6h2.2v2.2h-2.2zM709.7 1019.6h2.2v2.2h-2.2zM663.5 1021.8h2.2v2.2h-2.2zM674.5 1021.8h2.2v2.2h-2.2zM685.5 1021.8h2.2v2.2h-2.2zM689.9 1021.8h2.2v2.2h-2.2zM692.1 1021.8h2.2v2.2h-2.2zM698.7 1021.8h2.2v2.2h-2.2zM700.9 1021.8h2.2v2.2h-2.2zM661.3 1024h2.2v2.2h-2.2zM678.9 1024h2.2v2.2h-2.2zM685.5 1024h2.2v2.2h-2.2zM683.3 1026.2h2.2v2.2h-2.2zM678.9 1028.4h2.2v2.2h-2.2z"/>
<path fill="#F4B183" d="M661.3 1006.4h2.2v2.2h-2.2zM663.5 1006.4h2.2v2.2h-2.2zM665.7 1006.4h2.2v2.2h-2.2zM667.9 1006.4h2.2v2.2h-2.2zM672.3 1006.4h2.2v2.2h-2.2zM678.9 1006.4h2.2v2.2h-2.2zM681.1 1006.4h2.2v2.2h-2.2zM707.5 1006.4h2.2v2.2h-2.2zM689.9 1008.6h2.2v2.2h-2.2zM698.7 1008.6h2.2v2.2h-2.2zM656.9 1010.8h2.2v2.2h-2.2zM659.1 1010.8h2.2v2.2h-2.2zM670.1 1010.8h2.2v2.2h-2.2zM678.9 1010.8h2.2v2.2h-2.2zM681.1 1010.8h2.2v2.2h-2.2zM714.1 1010.8h2.2v2.2h-2.2zM716.3 1010.8h2.2v2.2h-2.2zM661.3 1013h2.2v2.2h-2.2zM670.1 1013h2.2v2.2h-2.2zM709.7 1013h2.2v2.2h-2.2zM672.3 1015.2h2.2v2.2h-2.2zM683.3 1015.2h2.2v2.2h-2.2zM689.9 1015.2h2.2v2.2h-2.2zM698.7 1015.2h2.2v2.2h-2.2zM700.9 1015.2h2.2v2.2h-2.2zM656.9 1017.4h2.2v2.2h-2.2zM667.9 1017.4h2.2v2.2h-2.2zM683.3 1017.4h2.2v2.2h-2.2zM687.7 1017.4h2.2v2.2h-2.2zM703.1 1017.4h2.2v2.2h-2.2zM709.7 1017.4h2.2v2.2h-2.2zM685.5 1019.6h2.2v2.2h-2.2zM689.9 1019.6h2.2v2.2h-2.2zM659.1 1021.8h2.2v2.2h-2.2zM672.3 1021.8h2.2v2.2h-2.2zM683.3 1021.8h2.2v2.2h-2.2zM694.3 1021.8h2.2v2.2h-2.2zM670.1 1024h2.2v2.2h-2.2zM672.3 1024h2.2v2.2h-2.2zM687.7 1024h2.2v2.2h-2.2zM692.1 1024h2.2v2.2h-2.2zM694.3 1024h2.2v2.2h-2.2zM696.5 1024h2.2v2.2h-2.2zM685.5 1026.2h2.2v2.2h-2.2z"/>
<path fill="#ED7D31" d="M670.1 1006.4h2.2v2.2h-2.2zM674.5 1006.4h2.2v2.2h-2.2zM692.1 1006.4h2.2v2.2h-2.2zM705.3 1006.4h2.2v2.2h-2.2zM654.7 1008.6h2.2v2.2h-2.2zM676.7 1008.6h2.2v2.2h-2.2zM694.3 1008.6h2.2v2.2h-2.2zM696.5 1008.6h2.2v2.2h-2.2zM700.9 1008.6h2.2v2.2h-2.2zM707.5 1008.6h2.2v2.2h-2.2zM714.1 1008.6h2.2v2.2h-2.2zM720.7 1008.6h2.2v2.2h-2.2zM665.7 1010.8h2.2v2.2h-2.2zM692.1 1010.8h2.2v2.2h-2.2zM698.7 1010.8h2.2v2.2h-2.2zM703.1 1010.8h2.2v2.2h-2.2zM709.7 1010.8h2.2v2.2h-2.2zM718.5 1010.8h2.2v2.2h-2.2zM694.3 1013h2.2v2.2h-2.2zM711.9 1013h2.2v2.2h-2.2zM714.1 1013h2.2v2.2h-2.2zM685.5 1015.2h2.2v2.2h-2.2zM694.3 1015.2h2.2v2.2h-2.2zM705.3 1015.2h2.2v2.2h-2.2zM709.7 1015.2h2.2v2.2h-2.2zM714.1 1015.2h2.2v2.2h-2.2zM681.1 1017.4h2.2v2.2h-2.2zM692.1 1017.4h2.2v2.2h-2.2zM711.9 1017.4h2.2v2.2h-2.2zM661.3 1019.6h2.2v2.2h-2.2zM663.5 1019.6h2.2v2.2h-2.2zM670.1 1019.6h2.2v2.2h-2.2zM681.1 1019.6h2.2v2.2h-2.2zM687.7 1021.8h2.2v2.2h-2.2zM665.7 1024h2.2v2.2h-2.2zM667.9 1024h2.2v2.2h-2.2zM689.9 1024h2.2v2.2h-2.2zM667.9 1026.2h2.2v2.2h-2.2zM670.1 1026.2h2.2v2.2h-2.2zM674.5 1026.2h2.2v2.2h-2.2zM681.1 1026.2h2.2v2.2h-2.2z"/>
<path fill="#FBE5D6" d="M694.3 1006.4h2.2v2.2h-2.2zM674.5 1008.6h2.2v2.2h-2.2zM683.3 1008.6h2.2v2.2h-2.2zM687.7 1008.6h2.2v2.2h-2.2zM711.9 1008.6h2.2v2.2h-2.2zM683.3 1010.8h2.2v2.2h-2.2zM711.9 1010.8h2.2v2.2h-2.2zM665.7 1013h2.2v2.2h-2.2zM681.1 1013h2.2v2.2h-2.2zM683.3 1013h2.2v2.2h-2.2zM685.5 1013h2.2v2.2h-2.2zM687.7 1013h2.2v2.2h-2.2zM665.7 1015.2h2.2v2.2h-2.2zM654.7 1017.4h2.2v2.2h-2.2zM663.5 1017.4h2.2v2.2h-2.2zM685.5 1017.4h2.2v2.2h-2.2zM696.5 1017.4h2.2v2.2h-2.2zM698.7 1017.4h2.2v2.2h-2.2zM667.9 1019.6h2.2v2.2h-2.2zM674.5 1019.6h2.2v2.2h-2.2zM694.3 1019.6h2.2v2.2h-2.2zM665.7 1021.8h2.2v2.2h-2.2zM670.1 1021.8h2.2v2.2h-2.2zM681.1 1021.8h2.2v2.2h-2.2zM696.5 1021.8h2.2v2.2h-2.2zM703.1 1021.8h2.2v2.2h-2.2zM663.5 1024h2.2v2.2h-2.2zM676.7 1024h2.2v2.2h-2.2zM683.3 1024h2.2v2.2h-2.2zM676.7 1026.2h2.2v2.2h-2.2z"/>
<ellipse cx="676.3" cy="1042" rx="5.5" ry="4.3" fill="#E6D9B8" stroke="#6a8f4a" stroke-width="1"/>
<path d="M734 1009.9L738 1009.4L736.4 1019.2L732.8 1026.2L730.5 1020.4Z" fill="none" stroke="#888" stroke-width="0.9"/>
<path d="M741 1014.6L742.8 1018.1M735.2 1030.9L737.5 1028.6M725.8 1046.1L728.2 1042.6M723.5 1057.7L724 1063.6M721.2 1081.1L723 1085.7M706 1104.4L709.5 1100.9M687.3 1125.4L692 1123.7M668 1106.7L668.7 1110.8M678 1079.9L678.6 1083.4M674.5 1057.7L677.4 1062.4M696.7 1060.1L702.5 1057.7" stroke="#999" stroke-width="1" fill="none"/>
<path d="M701.3 1087.4h1.2v1.2h-1.2zM701.4 1101.4h1.2v1.2h-1.2zM698.5 1103.9h1.2v1.2h-1.2zM707 1079.6h1.2v1.2h-1.2zM707.9 1095.6h1.2v1.2h-1.2zM703.9 1078.5h1.2v1.2h-1.2zM712.1 1091.3h1.2v1.2h-1.2zM701.2 1082.8h1.2v1.2h-1.2zM685.1 1078.8h1.2v1.2h-1.2zM690.7 1086.3h1.2v1.2h-1.2zM688.9 1079.9h1.2v1.2h-1.2zM707.3 1096.7h1.2v1.2h-1.2zM712.2 1084.1h1.2v1.2h-1.2zM707.3 1093.9h1.2v1.2h-1.2zM686.9 1101.2h1.2v1.2h-1.2zM695.4 1083.2h1.2v1.2h-1.2zM689.9 1102.4h1.2v1.2h-1.2zM691.1 1088.4h1.2v1.2h-1.2zM701.5 1087.7h1.2v1.2h-1.2zM705 1080.7h1.2v1.2h-1.2zM697.8 1093.6h1.2v1.2h-1.2zM703.8 1094.2h1.2v1.2h-1.2zM686.2 1059.8h1.2v1.2h-1.2zM694.7 1058.2h1.2v1.2h-1.2zM690.7 1061.8h1.2v1.2h-1.2zM686 1056.1h1.2v1.2h-1.2zM694.6 1056.4h1.2v1.2h-1.2zM688.1 1057.1h1.2v1.2h-1.2z" fill="#aaa"/>
<rect x="93.8" y="1098.2" width="21.3" height="13.75" fill="#F8CBAD"/>
<text transform="translate(99 1064.4) rotate(90)" font-size="15" fill="#222">Jan</text>
<rect x="114.7" y="1098.2" width="21.3" height="13.75" fill="#FBE5D6"/>
<text transform="translate(120 1064.4) rotate(90)" font-size="15" fill="#222">Feb</text>
<rect x="135.7" y="1098.2" width="21.3" height="13.75" fill="#C5E0B4"/>
<text transform="translate(141 1064.4) rotate(90)" font-size="15" fill="#222">Mar</text>
<rect x="156.7" y="1098.2" width="21.3" height="13.75" fill="#70AD47"/>
<text transform="translate(162 1064.4) rotate(90)" font-size="15" fill="#222">Apr</text>
<rect x="177.7" y="1098.2" width="21.3" height="13.75" fill="#548235"/>
<text transform="translate(183 1064.4) rotate(90)" font-size="15" fill="#222">May</text>
<rect x="198.6" y="1098.2" width="21.3" height="13.75" fill="#4472C4"/>
<text transform="translate(203.9 1064.4) rotate(90)" font-size="15" fill="#222">Jun</text>
<rect x="219.6" y="1098.2" width="21.3" height="13.75" fill="#9DC3E6"/>
<text transform="translate(224.9 1064.4) rotate(90)" font-size="15" fill="#222">Jul</text>
<rect x="240.6" y="1098.2" width="21.3" height="13.75" fill="#DAE3F3"/>
<text transform="translate(245.9 1064.4) rotate(90)" font-size="15" fill="#222">Aug</text>
<rect x="261.6" y="1098.2" width="21.3" height="13.75" fill="#EDEDED"/>
<text transform="translate(266.9 1064.4) rotate(90)" font-size="15" fill="#222">Sep</text>
<rect x="282.6" y="1098.2" width="21.3" height="13.75" fill="#C55A11"/>
<text transform="translate(287.9 1064.4) rotate(90)" font-size="15" fill="#222">Oct</text>
<rect x="303.5" y="1098.2" width="21.3" height="13.75" fill="#ED7D31"/>
<text transform="translate(308.8 1064.4) rotate(90)" font-size="15" fill="#222">Nov</text>
<rect x="324.5" y="1098.2" width="21.3" height="13.75" fill="#F4B183"/>
<text transform="translate(329.8 1064.4) rotate(90)" font-size="15" fill="#222">Dec</text>
<rect x="93.75" y="1098.2" width="251.8" height="13.75" fill="none" stroke="#b9a79a" stroke-width="1"/>
<text transform="translate(671.5 702.9) scale(1 1.145)" font-size="16.5" fill="#111">NEC</text>
<text transform="translate(570 894.4) scale(1 1.145)" font-size="16.5" fill="#111">NC</text>
<text transform="translate(293.5 1013.4) scale(1 1.145)" font-size="16.5" fill="#111">SWC</text>
<text transform="translate(516 1060.4) scale(1 1.145)" font-size="16.5" fill="#111">SC</text>
<path d="M326.9 641.8A59.4 59.4 0 0 1 347.3 645.9L337.5 670.7A32.8 32.8 0 0 0 326.2 668.4Z" fill="#FBE5D6" stroke="#fff" stroke-width="1.3"/>
<path d="M347.3 645.9A59.4 59.4 0 0 1 379.3 676.2L355.2 687.4A32.8 32.8 0 0 0 337.5 670.7Z" fill="#C5E0B4" stroke="#fff" stroke-width="1.3"/>
<path d="M379.3 676.2A59.4 59.4 0 1 1 266.2 696.8L292.7 698.7A32.8 32.8 0 1 0 355.2 687.4Z" fill="#70AD47" stroke="#fff" stroke-width="1.3"/>
<path d="M266.2 696.8A59.4 59.4 0 0 1 271.7 675.7L295.8 687.1A32.8 32.8 0 0 0 292.7 698.7Z" fill="#548235" stroke="#fff" stroke-width="1.3"/>
<path d="M271.7 675.7A59.4 59.4 0 0 1 278.3 665L299.4 681.2A32.8 32.8 0 0 0 295.8 687.1Z" fill="#EDEDED" stroke="#fff" stroke-width="1.3"/>
<path d="M278.3 665A59.4 59.4 0 0 1 290.4 653.2L306.1 674.6A32.8 32.8 0 0 0 299.4 681.2Z" fill="#C55A11" stroke="#fff" stroke-width="1.3"/>
<path d="M290.4 653.2A59.4 59.4 0 0 1 324.2 641.8L324.7 668.4A32.8 32.8 0 0 0 306.1 674.6Z" fill="#ED7D31" stroke="#fff" stroke-width="1.3"/>
<text x="325.4" y="707.4" text-anchor="middle" font-size="17.5" fill="#111">NEC</text>
<path d="M453.6 641.8A59.4 59.4 0 0 1 455.5 641.8L455.7 668.4A32.8 32.8 0 0 0 454.7 668.4Z" fill="#F4B183" stroke="#fff" stroke-width="1.3"/>
<path d="M455.5 641.8A59.4 59.4 0 0 1 457.6 641.8L456.9 668.4A32.8 32.8 0 0 0 455.7 668.4Z" fill="#F8CBAD" stroke="#fff" stroke-width="1.3"/>
<path d="M457.6 641.8A59.4 59.4 0 0 1 461.6 642L459.1 668.5A32.8 32.8 0 0 0 456.9 668.4Z" fill="#FBE5D6" stroke="#fff" stroke-width="1.3"/>
<path d="M461.6 642A59.4 59.4 0 0 1 476.6 645.4L467.4 670.4A32.8 32.8 0 0 0 459.1 668.5Z" fill="#C5E0B4" stroke="#fff" stroke-width="1.3"/>
<path d="M476.6 645.4A59.4 59.4 0 0 1 479.2 646.5L468.8 671A32.8 32.8 0 0 0 467.4 670.4Z" fill="#70AD47" stroke="#fff" stroke-width="1.3"/>
<path d="M479.2 646.5A59.4 59.4 0 0 1 515 708.1L488.6 705A32.8 32.8 0 0 0 468.8 671Z" fill="#548235" stroke="#fff" stroke-width="1.3"/>
<path d="M515 708.1A59.4 59.4 0 0 1 417.3 746.3L434.7 726.1A32.8 32.8 0 0 0 488.6 705Z" fill="#4472C4" stroke="#fff" stroke-width="1.3"/>
<path d="M417.3 746.3A59.4 59.4 0 0 1 417.3 656L434.7 676.2A32.8 32.8 0 0 0 434.7 726.1Z" fill="#EDEDED" stroke="#fff" stroke-width="1.3"/>
<path d="M417.3 656A59.4 59.4 0 0 1 440.3 643.9L447.3 669.5A32.8 32.8 0 0 0 434.7 676.2Z" fill="#C55A11" stroke="#fff" stroke-width="1.3"/>
<path d="M440.3 643.9A59.4 59.4 0 0 1 453.6 641.8L454.7 668.4A32.8 32.8 0 0 0 447.3 669.5Z" fill="#ED7D31" stroke="#fff" stroke-width="1.3"/>
<text x="456" y="707.4" text-anchor="middle" font-size="17.5" fill="#111">NC</text>
<path d="M675 852.7A68.4 68.4 0 0 1 681.6 853.1L678.2 884A37.3 37.3 0 0 0 674.5 883.8Z" fill="#F8CBAD" stroke="#fff" stroke-width="1.3"/>
<path d="M681.6 853.1A68.4 68.4 0 0 1 711.7 864L694.5 890A37.3 37.3 0 0 0 678.2 884Z" fill="#FBE5D6" stroke="#fff" stroke-width="1.3"/>
<path d="M711.7 864A68.4 68.4 0 0 1 741.8 912.1L711 916.2A37.3 37.3 0 0 0 694.5 890Z" fill="#C5E0B4" stroke="#fff" stroke-width="1.3"/>
<path d="M741.8 912.1A68.4 68.4 0 0 1 617.9 960.2L643.4 942.4A37.3 37.3 0 0 0 711 916.2Z" fill="#70AD47" stroke="#fff" stroke-width="1.3"/>
<path d="M617.9 960.2A68.4 68.4 0 0 1 606.2 930L637 926A37.3 37.3 0 0 0 643.4 942.4Z" fill="#548235" stroke="#fff" stroke-width="1.3"/>
<path d="M606.2 930A68.4 68.4 0 0 1 607 907.3L637.5 913.6A37.3 37.3 0 0 0 637 926Z" fill="#4472C4" stroke="#fff" stroke-width="1.3"/>
<path d="M607 907.3A68.4 68.4 0 0 1 608 903.3L638 911.4A37.3 37.3 0 0 0 637.5 913.6Z" fill="#DAE3F3" stroke="#fff" stroke-width="1.3"/>
<path d="M608 903.3A68.4 68.4 0 0 1 622.7 875.9L646 896.4A37.3 37.3 0 0 0 638 911.4Z" fill="#EDEDED" stroke="#fff" stroke-width="1.3"/>
<path d="M622.7 875.9A68.4 68.4 0 0 1 640.9 861.2L656 888.4A37.3 37.3 0 0 0 646 896.4Z" fill="#C55A11" stroke="#fff" stroke-width="1.3"/>
<path d="M640.9 861.2A68.4 68.4 0 0 1 670.3 852.8L672 883.9A37.3 37.3 0 0 0 656 888.4Z" fill="#ED7D31" stroke="#fff" stroke-width="1.3"/>
<path d="M670.3 852.8A68.4 68.4 0 0 1 673.4 852.7L673.7 883.8A37.3 37.3 0 0 0 672 883.9Z" fill="#F4B183" stroke="#fff" stroke-width="1.3"/>
<text x="674" y="928.7" text-anchor="middle" font-size="21.2" fill="#111">China</text>
<text transform="translate(23.5 640.7) scale(0.93 1)" font-size="41" fill="#000">b</text>
<rect x="923.2" y="282.3" width="21.3" height="8.6" fill="#FF4545" stroke="#222" stroke-width="1.2"/>
<rect x="976.5" y="282.3" width="21.3" height="2.3" fill="#FF4545" stroke="#222" stroke-width="1.2"/>
<rect x="1029.7" y="282.3" width="21.3" height="24.9" fill="#FF4545" stroke="#222" stroke-width="1.2"/>
<rect x="1083" y="33.1" width="21.3" height="249.2" fill="#FF4545" stroke="#222" stroke-width="1.2"/>
<rect x="1136.2" y="282.3" width="21.3" height="69.5" fill="#FF4545" stroke="#222" stroke-width="1.2"/>
<rect x="1189.5" y="282.3" width="21.3" height="211.2" fill="#FF4545" stroke="#222" stroke-width="1.2"/>
<rect x="1242.8" y="282.3" width="21.3" height="0.8" fill="#FF4545" stroke="#222" stroke-width="1.2"/>
<rect x="1296" y="282.3" width="21.3" height="4.6" fill="#FF4545" stroke="#222" stroke-width="1.2"/>
<rect x="1349.3" y="282.3" width="21.3" height="18.9" fill="#FF4545" stroke="#222" stroke-width="1.2"/>
<rect x="1402.5" y="282.3" width="21.3" height="16.9" fill="#FF4545" stroke="#222" stroke-width="1.2"/>
<rect x="1455.8" y="276.3" width="21.3" height="6" fill="#FF4545" stroke="#222" stroke-width="1.2"/>
<rect x="1509.1" y="282.3" width="21.3" height="12.9" fill="#FF4545" stroke="#222" stroke-width="1.2"/>
<rect x="933.9" y="281.4" width="21.3" height="0.9" fill="#6699CC" stroke="#222" stroke-width="1.2"/>
<rect x="987.1" y="261.4" width="21.3" height="20.9" fill="#6699CC" stroke="#222" stroke-width="1.2"/>
<rect x="1040.4" y="267.4" width="21.3" height="14.9" fill="#6699CC" stroke="#222" stroke-width="1.2"/>
<rect x="1093.6" y="40.5" width="21.3" height="241.8" fill="#6699CC" stroke="#222" stroke-width="1.2"/>
<rect x="1146.9" y="255.4" width="21.3" height="26.9" fill="#6699CC" stroke="#222" stroke-width="1.2"/>
<rect x="1200.1" y="282.3" width="21.3" height="0.9" fill="#6699CC" stroke="#222" stroke-width="1.2"/>
<rect x="1306.7" y="282.3" width="21.3" height="2.9" fill="#6699CC" stroke="#222" stroke-width="1.2"/>
<rect x="1359.9" y="282.3" width="21.3" height="6.9" fill="#6699CC" stroke="#222" stroke-width="1.2"/>
<rect x="1413.2" y="282.3" width="21.3" height="5.4" fill="#6699CC" stroke="#222" stroke-width="1.2"/>
<rect x="1466.4" y="262.3" width="21.3" height="20" fill="#6699CC" stroke="#222" stroke-width="1.2"/>
<rect x="1157.5" y="282.3" width="21.3" height="78.3" fill="#FDD152" stroke="#222" stroke-width="1.2"/>
<rect x="1210.8" y="282.3" width="21.3" height="180.4" fill="#FDD152" stroke="#222" stroke-width="1.2"/>
<rect x="1370.6" y="282.3" width="21.3" height="12.9" fill="#FDD152" stroke="#222" stroke-width="1.2"/>
<rect x="1423.8" y="282.3" width="21.3" height="6" fill="#FDD152" stroke="#222" stroke-width="1.2"/>
<rect x="1477.1" y="282.3" width="21.3" height="5.4" fill="#FDD152" stroke="#222" stroke-width="1.2"/>
<line x1="918" y1="282.3" x2="1557" y2="282.3" stroke="#3a3a3a" stroke-width="1.6"/>
<path d="M918 25V539.5H1557" fill="none" stroke="#3a3a3a" stroke-width="2"/>
<line x1="908" y1="25.1" x2="918" y2="25.1" stroke="#3a3a3a" stroke-width="2"/>
<text x="900" y="30.9" text-anchor="end" font-size="20.5" fill="#404040">900</text>
<line x1="908" y1="153.7" x2="918" y2="153.7" stroke="#3a3a3a" stroke-width="2"/>
<text x="900" y="159.5" text-anchor="end" font-size="20.5" fill="#404040">450</text>
<line x1="908" y1="282.3" x2="918" y2="282.3" stroke="#3a3a3a" stroke-width="2"/>
<text x="900" y="288.1" text-anchor="end" font-size="20.5" fill="#404040">0</text>
<line x1="908" y1="410.9" x2="918" y2="410.9" stroke="#3a3a3a" stroke-width="2"/>
<text x="900" y="416.7" text-anchor="end" font-size="20.5" fill="#404040">-450</text>
<line x1="908" y1="539.5" x2="918" y2="539.5" stroke="#3a3a3a" stroke-width="2"/>
<text x="900" y="545.3" text-anchor="end" font-size="20.5" fill="#404040">-900</text>
<line x1="913" y1="89.4" x2="918" y2="89.4" stroke="#3a3a3a" stroke-width="2"/>
<line x1="913" y1="218" x2="918" y2="218" stroke="#3a3a3a" stroke-width="2"/>
<line x1="913" y1="346.6" x2="918" y2="346.6" stroke="#3a3a3a" stroke-width="2"/>
<line x1="913" y1="475.2" x2="918" y2="475.2" stroke="#3a3a3a" stroke-width="2"/>
<line x1="944.5" y1="539.5" x2="944.5" y2="549.5" stroke="#3a3a3a" stroke-width="2"/>
<text x="944.5" y="573.7" text-anchor="middle" font-size="20.5" fill="#404040">Jan</text>
<line x1="997.8" y1="539.5" x2="997.8" y2="549.5" stroke="#3a3a3a" stroke-width="2"/>
<text x="997.8" y="573.7" text-anchor="middle" font-size="20.5" fill="#404040">Feb</text>
<line x1="1051" y1="539.5" x2="1051" y2="549.5" stroke="#3a3a3a" stroke-width="2"/>
<text x="1051" y="573.7" text-anchor="middle" font-size="20.5" fill="#404040">Mar</text>
<line x1="1104.3" y1="539.5" x2="1104.3" y2="549.5" stroke="#3a3a3a" stroke-width="2"/>
<text x="1104.3" y="573.7" text-anchor="middle" font-size="20.5" fill="#404040">Apr</text>
<line x1="1157.5" y1="539.5" x2="1157.5" y2="549.5" stroke="#3a3a3a" stroke-width="2"/>
<text x="1157.5" y="573.7" text-anchor="middle" font-size="20.5" fill="#404040">May</text>
<line x1="1210.8" y1="539.5" x2="1210.8" y2="549.5" stroke="#3a3a3a" stroke-width="2"/>
<text x="1210.8" y="573.7" text-anchor="middle" font-size="20.5" fill="#404040">Jun</text>
<line x1="1264.1" y1="539.5" x2="1264.1" y2="549.5" stroke="#3a3a3a" stroke-width="2"/>
<text x="1264.1" y="573.7" text-anchor="middle" font-size="20.5" fill="#404040">Jul</text>
<line x1="1317.3" y1="539.5" x2="1317.3" y2="549.5" stroke="#3a3a3a" stroke-width="2"/>
<text x="1317.3" y="573.7" text-anchor="middle" font-size="20.5" fill="#404040">Aug</text>
<line x1="1370.6" y1="539.5" x2="1370.6" y2="549.5" stroke="#3a3a3a" stroke-width="2"/>
<text x="1370.6" y="573.7" text-anchor="middle" font-size="20.5" fill="#404040">Sep</text>
<line x1="1423.8" y1="539.5" x2="1423.8" y2="549.5" stroke="#3a3a3a" stroke-width="2"/>
<text x="1423.8" y="573.7" text-anchor="middle" font-size="20.5" fill="#404040">Oct</text>
<line x1="1477.1" y1="539.5" x2="1477.1" y2="549.5" stroke="#3a3a3a" stroke-width="2"/>
<text x="1477.1" y="573.7" text-anchor="middle" font-size="20.5" fill="#404040">Nov</text>
<line x1="1530.4" y1="539.5" x2="1530.4" y2="549.5" stroke="#3a3a3a" stroke-width="2"/>
<text x="1530.4" y="573.7" text-anchor="middle" font-size="20.5" fill="#404040">Dec</text>
<text transform="translate(849 481.5) rotate(-90)" font-size="22.5" fill="#111">Burned area change rate (km<tspan font-size="13" dy="-10">2</tspan><tspan dy="10"> per year)</tspan></text>
<rect x="1398" y="445.3" width="44.5" height="21.2" fill="#FF4545" stroke="#222" stroke-width="1.6"/>
<text x="1448.5" y="462.5" font-size="20.5" fill="#111">China</text>
<rect x="1398" y="470.4" width="44.5" height="21.2" fill="#6699CC" stroke="#222" stroke-width="1.6"/>
<text x="1448.5" y="487.6" font-size="20.5" fill="#111">NEC</text>
<rect x="1398" y="495.5" width="44.5" height="21.2" fill="#FDD152" stroke="#222" stroke-width="1.6"/>
<text x="1448.5" y="512.7" font-size="20.5" fill="#111">NC</text>
<text transform="translate(801.9 36.2) scale(0.91 1)" font-size="41" fill="#000">c</text>
<path d="M918 628.8V1143.5H1557" fill="none" stroke="#3a3a3a" stroke-width="2"/>
<line x1="904" y1="1143.5" x2="918" y2="1143.5" stroke="#3a3a3a" stroke-width="2"/>
<text x="891.3" y="1149.7" text-anchor="end" font-size="20.5" fill="#404040">0</text>
<line x1="904" y1="1014.8" x2="918" y2="1014.8" stroke="#3a3a3a" stroke-width="2"/>
<text x="891.3" y="1021" text-anchor="end" font-size="20.5" fill="#404040">25</text>
<line x1="904" y1="886.1" x2="918" y2="886.1" stroke="#3a3a3a" stroke-width="2"/>
<text x="891.3" y="892.3" text-anchor="end" font-size="20.5" fill="#404040">50</text>
<line x1="904" y1="757.4" x2="918" y2="757.4" stroke="#3a3a3a" stroke-width="2"/>
<text x="891.3" y="763.6" text-anchor="end" font-size="20.5" fill="#404040">75</text>
<line x1="904" y1="628.8" x2="918" y2="628.8" stroke="#3a3a3a" stroke-width="2"/>
<text x="891.3" y="635" text-anchor="end" font-size="20.5" fill="#404040">100</text>
<line x1="910" y1="1079.2" x2="918" y2="1079.2" stroke="#3a3a3a" stroke-width="2"/>
<line x1="910" y1="950.5" x2="918" y2="950.5" stroke="#3a3a3a" stroke-width="2"/>
<line x1="910" y1="821.8" x2="918" y2="821.8" stroke="#3a3a3a" stroke-width="2"/>
<line x1="910" y1="693.1" x2="918" y2="693.1" stroke="#3a3a3a" stroke-width="2"/>
<line x1="923.8" y1="1143.5" x2="923.8" y2="1151.5" stroke="#3a3a3a" stroke-width="2"/>
<line x1="953.6" y1="1143.5" x2="953.6" y2="1158.5" stroke="#3a3a3a" stroke-width="2"/>
<text x="953.6" y="1185.3" text-anchor="middle" font-size="20.5" fill="#404040">2004</text>
<line x1="983.5" y1="1143.5" x2="983.5" y2="1151.5" stroke="#3a3a3a" stroke-width="2"/>
<line x1="1013.3" y1="1143.5" x2="1013.3" y2="1151.5" stroke="#3a3a3a" stroke-width="2"/>
<line x1="1043.2" y1="1143.5" x2="1043.2" y2="1151.5" stroke="#3a3a3a" stroke-width="2"/>
<line x1="1073" y1="1143.5" x2="1073" y2="1158.5" stroke="#3a3a3a" stroke-width="2"/>
<text x="1073" y="1185.3" text-anchor="middle" font-size="20.5" fill="#404040">2008</text>
<line x1="1102.9" y1="1143.5" x2="1102.9" y2="1151.5" stroke="#3a3a3a" stroke-width="2"/>
<line x1="1132.8" y1="1143.5" x2="1132.8" y2="1151.5" stroke="#3a3a3a" stroke-width="2"/>
<line x1="1162.6" y1="1143.5" x2="1162.6" y2="1151.5" stroke="#3a3a3a" stroke-width="2"/>
<line x1="1192.5" y1="1143.5" x2="1192.5" y2="1158.5" stroke="#3a3a3a" stroke-width="2"/>
<text x="1192.5" y="1185.3" text-anchor="middle" font-size="20.5" fill="#404040">2012</text>
<line x1="1222.3" y1="1143.5" x2="1222.3" y2="1151.5" stroke="#3a3a3a" stroke-width="2"/>
<line x1="1252.2" y1="1143.5" x2="1252.2" y2="1151.5" stroke="#3a3a3a" stroke-width="2"/>
<line x1="1282.1" y1="1143.5" x2="1282.1" y2="1151.5" stroke="#3a3a3a" stroke-width="2"/>
<line x1="1311.9" y1="1143.5" x2="1311.9" y2="1158.5" stroke="#3a3a3a" stroke-width="2"/>
<text x="1311.9" y="1185.3" text-anchor="middle" font-size="20.5" fill="#404040">2016</text>
<line x1="1341.8" y1="1143.5" x2="1341.8" y2="1151.5" stroke="#3a3a3a" stroke-width="2"/>
<line x1="1371.7" y1="1143.5" x2="1371.7" y2="1151.5" stroke="#3a3a3a" stroke-width="2"/>
<line x1="1401.5" y1="1143.5" x2="1401.5" y2="1151.5" stroke="#3a3a3a" stroke-width="2"/>
<line x1="1431.4" y1="1143.5" x2="1431.4" y2="1158.5" stroke="#3a3a3a" stroke-width="2"/>
<text x="1431.4" y="1185.3" text-anchor="middle" font-size="20.5" fill="#404040">2020</text>
<line x1="1461.2" y1="1143.5" x2="1461.2" y2="1151.5" stroke="#3a3a3a" stroke-width="2"/>
<line x1="1491.1" y1="1143.5" x2="1491.1" y2="1151.5" stroke="#3a3a3a" stroke-width="2"/>
<line x1="1521" y1="1143.5" x2="1521" y2="1151.5" stroke="#3a3a3a" stroke-width="2"/>
<line x1="1550.8" y1="1143.5" x2="1550.8" y2="1158.5" stroke="#3a3a3a" stroke-width="2"/>
<text x="1550.8" y="1185.3" text-anchor="middle" font-size="20.5" fill="#404040">2024</text>
<line x1="923.8" y1="969" x2="1550.8" y2="685.4" stroke="#1f3350" stroke-width="3.2" stroke-dasharray="5 6"/>
<line x1="923.8" y1="1138.4" x2="1550.8" y2="750.2" stroke="#d01515" stroke-width="3.2" stroke-dasharray="5 6"/>
<polyline points="923.8,1010.7 953.6,929.9 983.5,939.7 1013.3,943.8 1043.2,919.6 1073,913.4 1102.9,904.1 1132.8,903.6 1162.6,803.3 1192.5,860.4 1222.3,832.6 1252.2,773.4 1282.1,776 1311.9,785.7 1341.8,735.8 1371.7,770.3 1401.5,786.3 1431.4,739.9 1461.2,706.5 1491.1,710.6 1521,737.4 1550.8,711.1" fill="none" stroke="#000" stroke-width="1.5"/>
<polyline points="923.8,1024.6 953.6,1110.6 983.5,1097.7 1013.3,1060.1 1043.2,1100.8 1073,1031.8 1102.9,967.5 1132.8,1130.6 1162.6,1060.1 1192.5,952.5 1222.3,1088.9 1252.2,972.1 1282.1,929.9 1311.9,879.4 1341.8,781.6 1371.7,787.3 1401.5,1058.6 1431.4,744.1 1461.2,707 1491.1,759.5 1521,741.5 1550.8,782.7" fill="none" stroke="#e00000" stroke-width="1.5"/>
<circle cx="923.8" cy="1010.7" r="5.6" fill="#000"/>
<circle cx="953.6" cy="929.9" r="5.6" fill="#000"/>
<circle cx="983.5" cy="939.7" r="5.6" fill="#000"/>
<circle cx="1013.3" cy="943.8" r="5.6" fill="#000"/>
<circle cx="1043.2" cy="919.6" r="5.6" fill="#000"/>
<circle cx="1073" cy="913.4" r="5.6" fill="#000"/>
<circle cx="1102.9" cy="904.1" r="5.6" fill="#000"/>
<circle cx="1132.8" cy="903.6" r="5.6" fill="#000"/>
<circle cx="1162.6" cy="803.3" r="5.6" fill="#000"/>
<circle cx="1192.5" cy="860.4" r="5.6" fill="#000"/>
<circle cx="1222.3" cy="832.6" r="5.6" fill="#000"/>
<circle cx="1252.2" cy="773.4" r="5.6" fill="#000"/>
<circle cx="1282.1" cy="776" r="5.6" fill="#000"/>
<circle cx="1311.9" cy="785.7" r="5.6" fill="#000"/>
<circle cx="1341.8" cy="735.8" r="5.6" fill="#000"/>
<circle cx="1371.7" cy="770.3" r="5.6" fill="#000"/>
<circle cx="1401.5" cy="786.3" r="5.6" fill="#000"/>
<circle cx="1431.4" cy="739.9" r="5.6" fill="#000"/>
<circle cx="1461.2" cy="706.5" r="5.6" fill="#000"/>
<circle cx="1491.1" cy="710.6" r="5.6" fill="#000"/>
<circle cx="1521" cy="737.4" r="5.6" fill="#000"/>
<circle cx="1550.8" cy="711.1" r="5.6" fill="#000"/>
<circle cx="923.8" cy="1024.6" r="5.6" fill="#f00000"/>
<circle cx="953.6" cy="1110.6" r="5.6" fill="#f00000"/>
<circle cx="983.5" cy="1097.7" r="5.6" fill="#f00000"/>
<circle cx="1013.3" cy="1060.1" r="5.6" fill="#f00000"/>
<circle cx="1043.2" cy="1100.8" r="5.6" fill="#f00000"/>
<circle cx="1073" cy="1031.8" r="5.6" fill="#f00000"/>
<circle cx="1102.9" cy="967.5" r="5.6" fill="#f00000"/>
<circle cx="1132.8" cy="1130.6" r="5.6" fill="#f00000"/>
<circle cx="1162.6" cy="1060.1" r="5.6" fill="#f00000"/>
<circle cx="1192.5" cy="952.5" r="5.6" fill="#f00000"/>
<circle cx="1222.3" cy="1088.9" r="5.6" fill="#f00000"/>
<circle cx="1252.2" cy="972.1" r="5.6" fill="#f00000"/>
<circle cx="1282.1" cy="929.9" r="5.6" fill="#f00000"/>
<circle cx="1311.9" cy="879.4" r="5.6" fill="#f00000"/>
<circle cx="1341.8" cy="781.6" r="5.6" fill="#f00000"/>
<circle cx="1371.7" cy="787.3" r="5.6" fill="#f00000"/>
<circle cx="1401.5" cy="1058.6" r="5.6" fill="#f00000"/>
<circle cx="1431.4" cy="744.1" r="5.6" fill="#f00000"/>
<circle cx="1461.2" cy="707" r="5.6" fill="#f00000"/>
<circle cx="1491.1" cy="759.5" r="5.6" fill="#f00000"/>
<circle cx="1521" cy="741.5" r="5.6" fill="#f00000"/>
<circle cx="1550.8" cy="782.7" r="5.6" fill="#f00000"/>
<text x="1088.5" y="732.8" font-size="20.5" fill="#111">Slope = 2.62 yr<tspan font-size="12.5" dy="-9">-1</tspan></text>
<text x="1088.5" y="757.6" font-size="20.5" fill="#111">r = 0.95,</text>
<text x="1088.5" y="782.6" font-size="20.5" fill="#111"><tspan font-style="italic">p</tspan> &lt; 0.01</text>
<text x="1420.2" y="936" font-size="20.5" fill="#DC2A2E">Slope = 3.58 yr<tspan font-size="12.5" dy="-9">-1</tspan></text>
<text x="1420.2" y="961.3" font-size="20.5" fill="#DC2A2E">r = 0.83,</text>
<text x="1420.2" y="986.4" font-size="20.5" fill="#DC2A2E"><tspan font-style="italic">p</tspan> &lt; 0.01</text>
<line x1="1398" y1="1079.5" x2="1442" y2="1079.5" stroke="#000" stroke-width="1.5"/><circle cx="1420" cy="1079.5" r="5.6" fill="#000"/>
<text x="1448.5" y="1086.4" font-size="20.5" fill="#111">Annual</text>
<line x1="1398" y1="1104.6" x2="1442" y2="1104.6" stroke="#e00000" stroke-width="1.5"/><circle cx="1420" cy="1104.6" r="5.6" fill="#f00000"/>
<text x="1448.5" y="1111.6" font-size="20.5" fill="#111">MAM</text>
<text transform="translate(843.7 1058.3) rotate(-90)" font-size="22.5" fill="#111">Proportion of cropland burning (%)</text>
<text transform="translate(802.7 640.7) scale(0.96 1)" font-size="41" fill="#000">d</text>
</svg></body></html>
